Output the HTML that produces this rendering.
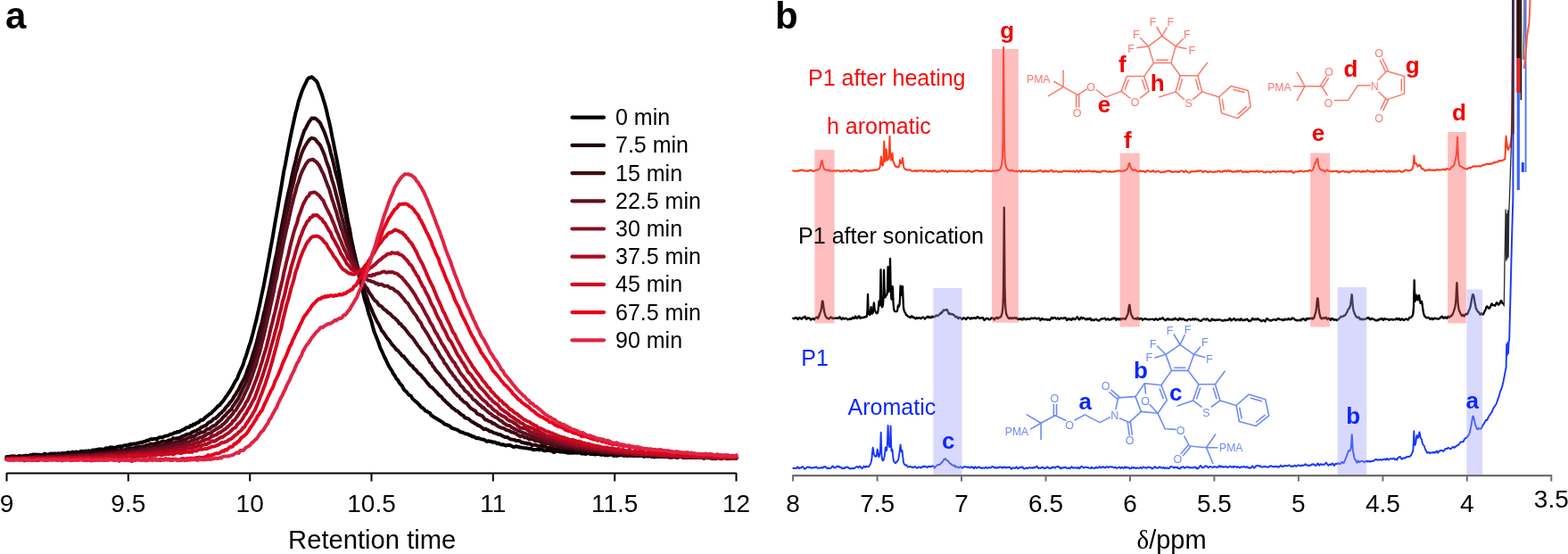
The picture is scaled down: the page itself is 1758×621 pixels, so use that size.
<!DOCTYPE html>
<html><head><meta charset="utf-8"><title>Figure</title>
<style>
html,body{margin:0;padding:0;background:#fff;width:1758px;height:621px;overflow:hidden}
svg{display:block}
text{font-family:'Liberation Sans',Arial,Helvetica,sans-serif}
</style></head><body>
<svg width="1758" height="621" viewBox="0 0 1758 621">
<rect width="1758" height="621" fill="#fff"/>
<g id="pa">
<polyline points="7.5,512.1 9.1,512.1 10.8,511.8 12.4,511.5 14.0,511.6 15.7,511.2 17.3,511.6 19.0,512.1 20.6,511.2 22.2,511.1 23.9,511.5 25.5,511.3 27.1,511.1 28.8,510.6 30.4,510.9 32.0,511.1 33.7,510.1 35.3,510.4 36.9,509.6 38.6,509.8 40.2,509.5 41.9,510.1 43.5,509.5 45.1,510.1 46.8,509.9 48.4,509.7 50.0,508.5 51.7,509.3 53.3,509.4 54.9,509.3 56.6,508.5 58.2,508.8 59.9,508.5 61.5,508.4 63.1,509.2 64.8,508.2 66.4,508.4 68.0,508.7 69.7,507.9 71.3,508.0 72.9,507.9 74.6,507.8 76.2,507.1 77.8,507.5 79.5,507.9 81.1,506.5 82.8,507.4 84.4,506.9 86.0,506.4 87.7,507.4 89.3,506.7 90.9,505.7 92.6,506.1 94.2,506.1 95.8,505.6 97.5,505.8 99.1,505.3 100.8,505.4 102.4,505.6 104.0,504.5 105.7,504.7 107.3,504.2 108.9,504.2 110.6,503.4 112.2,503.5 113.8,503.4 115.5,503.7 117.1,503.6 118.7,502.3 120.4,502.3 122.0,502.7 123.7,501.3 125.3,501.7 126.9,501.6 128.6,502.0 130.2,501.4 131.8,500.7 133.5,500.4 135.1,500.2 136.7,500.7 138.4,499.6 140.0,499.3 141.7,499.3 143.3,498.8 144.9,498.5 146.6,497.7 148.2,497.9 149.8,497.4 151.5,497.8 153.1,497.2 154.7,496.5 156.4,496.5 158.0,495.7 159.6,495.9 161.3,495.0 162.9,494.9 164.6,493.7 166.2,494.0 167.8,492.7 169.5,492.1 171.1,492.5 172.7,491.9 174.4,491.9 176.0,492.5 177.6,490.7 179.3,490.3 180.9,490.3 182.6,490.0 184.2,489.2 185.8,488.7 187.5,488.6 189.1,488.0 190.7,486.8 192.4,486.7 194.0,486.2 195.6,485.1 197.3,485.1 198.9,484.0 200.6,484.2 202.2,483.2 203.8,482.5 205.5,481.5 207.1,481.0 208.7,479.5 210.4,479.1 212.0,479.0 213.6,477.1 215.3,477.6 216.9,475.5 218.5,475.8 220.2,474.1 221.8,473.9 223.5,472.6 225.1,470.8 226.7,471.0 228.4,470.0 230.0,468.1 231.6,466.9 233.3,465.7 234.9,464.0 236.5,463.6 238.2,461.4 239.8,460.2 241.5,458.3 243.1,456.8 244.7,454.8 246.4,454.1 248.0,451.7 249.6,450.2 251.3,447.8 252.9,445.3 254.5,443.2 256.2,440.7 257.8,438.5 259.4,435.7 261.1,432.9 262.7,429.5 264.4,426.6 266.0,424.4 267.6,419.8 269.3,416.0 270.9,412.7 272.5,409.0 274.2,403.3 275.8,399.2 277.4,394.1 279.1,388.4 280.7,384.0 282.4,377.9 284.0,371.9 285.6,365.2 287.3,359.1 288.9,351.7 290.5,344.6 292.2,336.6 293.8,328.8 295.4,321.8 297.1,312.7 298.7,304.5 300.3,295.5 302.0,286.4 303.6,277.2 305.3,268.4 306.9,258.6 308.5,249.2 310.2,239.7 311.8,230.7 313.4,220.9 315.1,211.3 316.7,201.4 318.3,191.7 320.0,183.7 321.6,174.7 323.3,165.5 324.9,157.3 326.5,149.3 328.2,141.5 329.8,134.2 331.4,126.5 333.1,120.9 334.7,113.6 336.3,109.0 338.0,103.8 339.6,99.6 341.2,96.2 342.9,92.9 344.5,89.2 346.2,87.2 347.8,87.3 349.4,86.3 351.1,87.4 352.7,89.2 354.3,90.3 356.0,92.9 357.6,97.5 359.2,101.5 360.9,106.0 362.5,111.4 364.2,116.8 365.8,122.7 367.4,130.0 369.1,136.8 370.7,144.0 372.3,152.7 374.0,160.6 375.6,169.1 377.2,177.0 378.9,185.9 380.5,194.6 382.1,203.6 383.8,213.1 385.4,221.6 387.1,231.1 388.7,240.0 390.3,249.5 392.0,256.7 393.6,266.3 395.2,274.2 396.9,282.4 398.5,289.7 400.1,297.9 401.8,306.0 403.4,312.9 405.1,320.0 406.7,326.6 408.3,333.7 410.0,339.5 411.6,344.5 413.2,350.9 414.9,355.9 416.5,360.6 418.1,366.9 419.8,372.6 421.4,376.6 423.0,380.5 424.7,384.9 426.3,389.9 428.0,393.3 429.6,397.0 431.2,400.5 432.9,403.9 434.5,407.5 436.1,410.5 437.8,413.4 439.4,415.7 441.0,419.1 442.7,421.2 444.3,424.5 446.0,425.9 447.6,428.8 449.2,431.1 450.9,432.6 452.5,436.1 454.1,438.0 455.8,439.1 457.4,441.5 459.0,443.1 460.7,443.6 462.3,446.6 463.9,448.1 465.6,449.7 467.2,450.8 468.9,452.7 470.5,454.2 472.1,456.3 473.8,457.3 475.4,458.5 477.0,460.6 478.7,461.0 480.3,462.3 481.9,462.9 483.6,465.7 485.2,466.6 486.9,467.7 488.5,468.7 490.1,469.6 491.8,470.7 493.4,471.6 495.0,472.6 496.7,473.7 498.3,475.4 499.9,475.9 501.6,476.5 503.2,477.2 504.9,478.1 506.5,479.9 508.1,480.3 509.8,480.9 511.4,481.5 513.0,481.9 514.7,483.1 516.3,484.3 517.9,484.4 519.6,485.2 521.2,485.8 522.8,486.6 524.5,486.5 526.1,487.7 527.8,488.0 529.4,489.4 531.0,489.2 532.7,490.4 534.3,491.3 535.9,491.0 537.6,491.4 539.2,492.3 540.8,492.6 542.5,492.7 544.1,493.8 545.8,494.9 547.4,494.3 549.0,494.7 550.7,494.8 552.3,495.8 553.9,495.5 555.6,495.9 557.2,497.3 558.8,496.7 560.5,497.9 562.1,498.5 563.7,498.2 565.4,498.7 567.0,499.6 568.7,499.0 570.3,499.1 571.9,499.0 573.6,499.9 575.2,500.9 576.8,500.9 578.5,500.3 580.1,500.6 581.7,501.0 583.4,501.6 585.0,501.6 586.7,502.0 588.3,502.3 589.9,502.3 591.6,502.6 593.2,502.9 594.8,503.0 596.5,503.5 598.1,504.3 599.7,503.9 601.4,503.9 603.0,503.3 604.6,504.4 606.3,503.5 607.9,503.9 609.6,505.1 611.2,505.2 612.8,505.0 614.5,504.5 616.1,505.2 617.7,505.2 619.4,506.0 621.0,506.9 622.6,506.1 624.3,505.8 625.9,505.8 627.6,506.4 629.2,506.5 630.8,506.2 632.5,506.9 634.1,506.4 635.7,507.6 637.4,507.7 639.0,507.8 640.6,507.2 642.3,507.8 643.9,507.6 645.5,507.6 647.2,507.7 648.8,507.4 650.5,507.5 652.1,508.6 653.7,508.2 655.4,508.5 657.0,509.0 658.6,507.8 660.3,508.4 661.9,508.9 663.5,509.1 665.2,508.8 666.8,509.5 668.5,509.3 670.1,508.7 671.7,508.9 673.4,509.8 675.0,509.7 676.6,508.7 678.3,510.3 679.9,510.0 681.5,510.4 683.2,509.7 684.8,509.8 686.4,509.5 688.1,511.2 689.7,510.1 691.4,511.0 693.0,510.0 694.6,510.5 696.3,509.7 697.9,510.3 699.5,511.0 701.2,510.1 702.8,511.2 704.4,510.9 706.1,510.4 707.7,510.7 709.4,510.7 711.0,511.0 712.6,510.8 714.3,510.8 715.9,511.0 717.5,510.8 719.2,510.7 720.8,511.3 722.4,511.8 724.1,510.8 725.7,511.5 727.3,511.3 729.0,511.2 730.6,512.0 732.3,511.5 733.9,512.4 735.5,511.4 737.2,512.0 738.8,511.8 740.4,511.6 742.1,512.2 743.7,511.9 745.3,512.3 747.0,512.1 748.6,511.7 750.3,512.1 751.9,512.2 753.5,512.7 755.2,511.9 756.8,512.3 758.4,511.6 760.1,512.7 761.7,512.0 763.3,511.7 765.0,512.5 766.6,513.1 768.2,511.9 769.9,512.1 771.5,512.3 773.2,512.2 774.8,512.9 776.4,512.4 778.1,512.5 779.7,513.1 781.3,512.5 783.0,513.1 784.6,512.5 786.2,512.4 787.9,512.2 789.5,513.9 791.2,512.9 792.8,513.2 794.4,513.1 796.1,513.2 797.7,513.2 799.3,514.1 801.0,512.8 802.6,512.6 804.2,512.8 805.9,512.7 807.5,513.7 809.1,513.7 810.8,513.0 812.4,512.8 814.1,513.3 815.7,514.1 817.3,512.2 819.0,513.7 820.6,513.1 822.2,514.0 823.9,513.1 825.5,513.5" fill="none" stroke="#000000" stroke-width="4" stroke-linejoin="round" stroke-linecap="round"/>
<polyline points="7.5,512.5 9.1,512.7 10.8,513.7 12.4,513.4 14.0,512.8 15.7,512.5 17.3,512.0 19.0,512.6 20.6,512.7 22.2,512.6 23.9,512.6 25.5,512.0 27.1,512.5 28.8,512.4 30.4,512.9 32.0,513.1 33.7,512.1 35.3,511.8 36.9,512.0 38.6,511.7 40.2,511.6 41.9,511.8 43.5,511.3 45.1,512.0 46.8,511.6 48.4,511.6 50.0,511.4 51.7,511.0 53.3,510.9 54.9,511.1 56.6,510.9 58.2,511.1 59.9,510.9 61.5,510.2 63.1,510.8 64.8,510.0 66.4,510.3 68.0,510.3 69.7,509.4 71.3,510.3 72.9,510.2 74.6,510.0 76.2,509.7 77.8,509.6 79.5,509.3 81.1,509.5 82.8,509.2 84.4,509.4 86.0,508.7 87.7,509.2 89.3,509.0 90.9,508.8 92.6,508.5 94.2,508.8 95.8,507.7 97.5,508.5 99.1,508.3 100.8,508.2 102.4,508.0 104.0,507.4 105.7,507.5 107.3,507.7 108.9,507.5 110.6,507.2 112.2,506.2 113.8,507.0 115.5,507.1 117.1,506.9 118.7,506.3 120.4,505.3 122.0,506.3 123.7,505.6 125.3,504.3 126.9,505.4 128.6,504.4 130.2,504.3 131.8,504.4 133.5,505.0 135.1,504.0 136.7,504.1 138.4,504.5 140.0,504.2 141.7,503.2 143.3,502.9 144.9,502.2 146.6,502.2 148.2,502.4 149.8,502.1 151.5,501.7 153.1,501.8 154.7,500.8 156.4,500.8 158.0,500.8 159.6,500.5 161.3,500.4 162.9,499.7 164.6,499.1 166.2,499.1 167.8,498.1 169.5,497.5 171.1,498.1 172.7,497.5 174.4,497.4 176.0,496.1 177.6,496.4 179.3,495.9 180.9,495.4 182.6,494.4 184.2,494.8 185.8,495.0 187.5,494.3 189.1,493.5 190.7,493.3 192.4,493.2 194.0,491.1 195.6,491.8 197.3,491.6 198.9,491.1 200.6,491.1 202.2,490.3 203.8,489.3 205.5,488.7 207.1,488.3 208.7,487.1 210.4,486.7 212.0,486.4 213.6,486.2 215.3,484.5 216.9,483.8 218.5,483.2 220.2,482.9 221.8,481.4 223.5,481.3 225.1,479.3 226.7,478.7 228.4,477.7 230.0,477.2 231.6,476.2 233.3,474.0 234.9,473.2 236.5,472.6 238.2,470.9 239.8,469.2 241.5,469.1 243.1,467.4 244.7,466.0 246.4,464.0 248.0,463.1 249.6,460.9 251.3,459.8 252.9,457.1 254.5,455.2 256.2,453.6 257.8,451.1 259.4,449.5 261.1,447.0 262.7,444.0 264.4,441.8 266.0,438.8 267.6,436.5 269.3,432.7 270.9,429.5 272.5,426.8 274.2,423.6 275.8,419.7 277.4,414.7 279.1,410.5 280.7,406.6 282.4,401.0 284.0,395.6 285.6,390.8 287.3,385.4 288.9,379.0 290.5,372.6 292.2,366.3 293.8,360.7 295.4,353.2 297.1,346.4 298.7,339.3 300.3,332.0 302.0,323.8 303.6,316.3 305.3,307.7 306.9,299.7 308.5,291.1 310.2,283.7 311.8,274.7 313.4,265.9 315.1,257.6 316.7,249.2 318.3,241.2 320.0,231.8 321.6,223.8 323.3,216.0 324.9,209.5 326.5,201.1 328.2,193.2 329.8,186.4 331.4,180.2 333.1,172.7 334.7,166.5 336.3,161.5 338.0,155.9 339.6,151.2 341.2,146.4 342.9,143.7 344.5,140.3 346.2,137.1 347.8,135.1 349.4,132.4 351.1,132.8 352.7,132.4 354.3,133.3 356.0,134.8 357.6,136.3 359.2,138.2 360.9,142.2 362.5,145.3 364.2,149.6 365.8,154.0 367.4,159.1 369.1,163.6 370.7,171.0 372.3,176.6 374.0,183.4 375.6,190.4 377.2,196.4 378.9,202.6 380.5,210.2 382.1,217.4 383.8,225.1 385.4,232.7 387.1,239.2 388.7,247.6 390.3,254.1 392.0,262.2 393.6,269.1 395.2,276.0 396.9,282.9 398.5,289.3 400.1,295.6 401.8,301.3 403.4,308.0 405.1,314.6 406.7,320.1 408.3,325.0 410.0,329.7 411.6,333.8 413.2,339.3 414.9,342.9 416.5,346.9 418.1,350.6 419.8,354.4 421.4,357.6 423.0,360.9 424.7,363.5 426.3,366.8 428.0,370.7 429.6,372.2 431.2,374.6 432.9,377.3 434.5,379.6 436.1,381.0 437.8,383.5 439.4,386.0 441.0,387.6 442.7,389.5 444.3,391.9 446.0,392.8 447.6,394.9 449.2,396.4 450.9,399.0 452.5,399.2 454.1,401.6 455.8,403.4 457.4,405.7 459.0,407.5 460.7,409.6 462.3,410.1 463.9,412.9 465.6,414.2 467.2,415.9 468.9,418.2 470.5,419.3 472.1,420.6 473.8,423.2 475.4,424.4 477.0,426.6 478.7,428.8 480.3,430.6 481.9,432.9 483.6,433.9 485.2,435.0 486.9,437.0 488.5,438.7 490.1,440.2 491.8,442.6 493.4,443.7 495.0,444.7 496.7,447.5 498.3,448.7 499.9,450.5 501.6,451.8 503.2,453.6 504.9,454.7 506.5,456.7 508.1,457.7 509.8,459.0 511.4,460.4 513.0,460.8 514.7,462.7 516.3,463.9 517.9,465.3 519.6,465.8 521.2,468.3 522.8,468.7 524.5,469.2 526.1,470.1 527.8,471.8 529.4,472.9 531.0,473.6 532.7,474.9 534.3,475.5 535.9,477.0 537.6,477.3 539.2,478.5 540.8,479.8 542.5,481.3 544.1,480.5 545.8,481.5 547.4,482.1 549.0,483.6 550.7,483.4 552.3,484.4 553.9,485.3 555.6,485.6 557.2,486.2 558.8,487.1 560.5,487.0 562.1,487.9 563.7,488.9 565.4,489.7 567.0,490.1 568.7,490.0 570.3,491.1 571.9,492.2 573.6,492.6 575.2,492.8 576.8,492.9 578.5,494.0 580.1,493.9 581.7,494.1 583.4,494.7 585.0,496.1 586.7,496.0 588.3,496.8 589.9,496.5 591.6,497.5 593.2,497.2 594.8,497.7 596.5,499.3 598.1,498.8 599.7,498.6 601.4,499.1 603.0,499.6 604.6,500.3 606.3,499.9 607.9,499.6 609.6,500.5 611.2,500.9 612.8,501.3 614.5,502.1 616.1,501.9 617.7,502.4 619.4,501.8 621.0,502.9 622.6,503.7 624.3,503.3 625.9,503.3 627.6,503.5 629.2,504.4 630.8,503.4 632.5,504.0 634.1,504.5 635.7,504.8 637.4,504.5 639.0,505.0 640.6,504.9 642.3,505.3 643.9,505.3 645.5,505.0 647.2,505.7 648.8,506.3 650.5,505.6 652.1,506.1 653.7,506.7 655.4,506.0 657.0,506.8 658.6,506.3 660.3,507.5 661.9,508.1 663.5,508.1 665.2,507.3 666.8,507.8 668.5,507.7 670.1,507.8 671.7,508.6 673.4,507.4 675.0,508.6 676.6,508.2 678.3,509.0 679.9,508.5 681.5,508.3 683.2,508.8 684.8,509.1 686.4,508.9 688.1,509.2 689.7,508.9 691.4,508.2 693.0,509.7 694.6,509.7 696.3,509.5 697.9,509.6 699.5,510.1 701.2,509.5 702.8,509.5 704.4,509.8 706.1,510.5 707.7,509.5 709.4,510.7 711.0,509.9 712.6,509.8 714.3,511.0 715.9,510.4 717.5,509.9 719.2,510.4 720.8,511.1 722.4,511.3 724.1,510.6 725.7,511.1 727.3,511.3 729.0,510.7 730.6,511.2 732.3,511.1 733.9,511.0 735.5,511.0 737.2,511.3 738.8,511.4 740.4,511.2 742.1,511.3 743.7,512.0 745.3,511.7 747.0,512.1 748.6,512.2 750.3,512.0 751.9,512.8 753.5,511.5 755.2,512.3 756.8,511.8 758.4,512.8 760.1,512.8 761.7,511.2 763.3,511.7 765.0,512.5 766.6,512.6 768.2,512.6 769.9,512.3 771.5,512.6 773.2,512.7 774.8,512.4 776.4,513.0 778.1,511.5 779.7,512.9 781.3,512.1 783.0,513.1 784.6,512.6 786.2,512.3 787.9,512.9 789.5,512.4 791.2,512.4 792.8,512.2 794.4,512.9 796.1,513.2 797.7,513.4 799.3,512.9 801.0,513.5 802.6,513.1 804.2,513.1 805.9,513.4 807.5,513.6 809.1,513.0 810.8,513.1 812.4,513.2 814.1,513.3 815.7,512.9 817.3,513.8 819.0,513.2 820.6,513.6 822.2,513.0 823.9,513.6 825.5,513.6" fill="none" stroke="#200008" stroke-width="4" stroke-linejoin="round" stroke-linecap="round"/>
<polyline points="7.5,513.5 9.1,514.5 10.8,513.7 12.4,514.3 14.0,513.9 15.7,513.1 17.3,513.2 19.0,513.5 20.6,513.3 22.2,513.2 23.9,513.0 25.5,512.3 27.1,513.0 28.8,512.0 30.4,513.1 32.0,512.6 33.7,512.5 35.3,512.7 36.9,512.8 38.6,512.0 40.2,511.8 41.9,512.1 43.5,511.6 45.1,512.0 46.8,513.1 48.4,511.8 50.0,512.5 51.7,511.5 53.3,512.2 54.9,511.9 56.6,511.9 58.2,512.1 59.9,512.6 61.5,511.8 63.1,511.7 64.8,511.1 66.4,511.7 68.0,511.3 69.7,511.7 71.3,511.2 72.9,511.9 74.6,510.2 76.2,510.8 77.8,511.3 79.5,510.6 81.1,510.3 82.8,510.5 84.4,509.9 86.0,510.5 87.7,511.4 89.3,510.7 90.9,509.6 92.6,509.6 94.2,509.7 95.8,510.2 97.5,509.3 99.1,509.2 100.8,509.8 102.4,509.7 104.0,509.0 105.7,508.6 107.3,508.2 108.9,508.5 110.6,507.7 112.2,508.9 113.8,508.1 115.5,508.5 117.1,509.0 118.7,508.5 120.4,507.3 122.0,508.1 123.7,508.0 125.3,507.0 126.9,506.7 128.6,507.0 130.2,506.1 131.8,507.3 133.5,505.4 135.1,505.8 136.7,506.0 138.4,505.8 140.0,505.8 141.7,505.6 143.3,505.2 144.9,505.6 146.6,503.9 148.2,504.7 149.8,504.1 151.5,504.3 153.1,504.1 154.7,503.3 156.4,503.2 158.0,503.6 159.6,503.1 161.3,502.4 162.9,503.4 164.6,503.2 166.2,501.2 167.8,501.8 169.5,502.5 171.1,501.4 172.7,500.9 174.4,500.4 176.0,500.0 177.6,499.8 179.3,499.3 180.9,499.6 182.6,498.8 184.2,498.4 185.8,497.7 187.5,497.9 189.1,497.1 190.7,497.1 192.4,497.2 194.0,496.5 195.6,496.2 197.3,495.7 198.9,495.1 200.6,494.6 202.2,494.0 203.8,494.0 205.5,492.7 207.1,493.2 208.7,492.1 210.4,491.2 212.0,490.7 213.6,490.0 215.3,489.8 216.9,488.7 218.5,488.9 220.2,487.3 221.8,486.0 223.5,485.9 225.1,484.5 226.7,484.6 228.4,484.3 230.0,483.2 231.6,481.4 233.3,480.7 234.9,480.8 236.5,479.1 238.2,477.9 239.8,477.2 241.5,476.7 243.1,474.9 244.7,473.1 246.4,471.8 248.0,470.5 249.6,468.4 251.3,466.6 252.9,465.5 254.5,463.3 256.2,461.8 257.8,459.9 259.4,458.8 261.1,455.2 262.7,453.2 264.4,450.7 266.0,448.3 267.6,445.8 269.3,442.2 270.9,438.9 272.5,435.2 274.2,432.0 275.8,428.9 277.4,424.7 279.1,420.0 280.7,415.9 282.4,411.4 284.0,406.6 285.6,400.9 287.3,395.6 288.9,389.2 290.5,383.5 292.2,378.5 293.8,370.3 295.4,364.4 297.1,357.6 298.7,350.2 300.3,342.6 302.0,335.3 303.6,327.5 305.3,319.6 306.9,310.7 308.5,303.4 310.2,294.8 311.8,286.7 313.4,278.7 315.1,270.6 316.7,262.5 318.3,253.7 320.0,246.2 321.6,238.4 323.3,230.6 324.9,223.2 326.5,215.2 328.2,208.1 329.8,201.8 331.4,194.4 333.1,189.1 334.7,183.1 336.3,177.9 338.0,172.6 339.6,168.7 341.2,165.3 342.9,162.5 344.5,159.8 346.2,157.3 347.8,155.8 349.4,154.7 351.1,155.2 352.7,155.5 354.3,157.2 356.0,159.5 357.6,161.0 359.2,163.2 360.9,166.8 362.5,170.4 364.2,174.7 365.8,180.4 367.4,184.8 369.1,189.2 370.7,195.7 372.3,201.6 374.0,206.8 375.6,212.7 377.2,219.1 378.9,225.6 380.5,232.0 382.1,238.6 383.8,244.9 385.4,251.1 387.1,257.2 388.7,262.9 390.3,267.8 392.0,274.1 393.6,279.7 395.2,284.7 396.9,290.3 398.5,294.5 400.1,298.8 401.8,304.2 403.4,307.9 405.1,311.5 406.7,315.4 408.3,318.8 410.0,321.6 411.6,323.2 413.2,326.7 414.9,329.3 416.5,331.4 418.1,334.0 419.8,336.5 421.4,337.6 423.0,339.0 424.7,342.1 426.3,342.6 428.0,343.7 429.6,345.8 431.2,347.3 432.9,348.1 434.5,350.1 436.1,350.9 437.8,352.1 439.4,354.0 441.0,355.7 442.7,356.5 444.3,358.4 446.0,359.8 447.6,362.7 449.2,362.9 450.9,365.6 452.5,366.8 454.1,368.6 455.8,370.9 457.4,373.0 459.0,375.1 460.7,376.8 462.3,378.4 463.9,380.6 465.6,383.2 467.2,385.4 468.9,388.0 470.5,389.7 472.1,392.3 473.8,394.7 475.4,396.4 477.0,397.9 478.7,400.3 480.3,402.4 481.9,406.0 483.6,407.2 485.2,410.3 486.9,412.2 488.5,414.9 490.1,416.8 491.8,418.4 493.4,420.4 495.0,422.7 496.7,424.7 498.3,426.4 499.9,428.6 501.6,431.3 503.2,431.7 504.9,434.5 506.5,435.8 508.1,438.1 509.8,440.2 511.4,441.5 513.0,443.6 514.7,444.2 516.3,447.1 517.9,447.9 519.6,450.0 521.2,451.3 522.8,451.6 524.5,453.8 526.1,455.7 527.8,457.7 529.4,458.5 531.0,459.8 532.7,460.3 534.3,462.9 535.9,464.3 537.6,464.7 539.2,465.7 540.8,466.2 542.5,468.5 544.1,470.4 545.8,470.5 547.4,471.8 549.0,472.5 550.7,472.8 552.3,474.8 553.9,474.6 555.6,475.9 557.2,477.0 558.8,478.2 560.5,478.8 562.1,479.6 563.7,479.9 565.4,480.5 567.0,481.8 568.7,482.2 570.3,482.7 571.9,483.4 573.6,484.5 575.2,484.5 576.8,485.4 578.5,485.9 580.1,487.4 581.7,488.1 583.4,489.4 585.0,488.4 586.7,489.3 588.3,490.6 589.9,490.6 591.6,491.1 593.2,492.6 594.8,492.1 596.5,492.3 598.1,492.7 599.7,493.9 601.4,494.3 603.0,494.0 604.6,494.6 606.3,495.7 607.9,496.1 609.6,496.0 611.2,497.0 612.8,497.3 614.5,496.6 616.1,497.7 617.7,498.4 619.4,498.3 621.0,497.9 622.6,499.1 624.3,499.9 625.9,500.5 627.6,499.2 629.2,501.6 630.8,500.2 632.5,501.5 634.1,501.9 635.7,502.0 637.4,501.9 639.0,501.6 640.6,502.7 642.3,502.3 643.9,501.7 645.5,504.4 647.2,503.7 648.8,504.4 650.5,503.4 652.1,504.7 653.7,505.0 655.4,505.1 657.0,504.6 658.6,504.3 660.3,505.0 661.9,504.3 663.5,504.7 665.2,505.7 666.8,505.3 668.5,505.9 670.1,506.1 671.7,507.2 673.4,507.1 675.0,506.6 676.6,507.3 678.3,506.6 679.9,507.0 681.5,507.7 683.2,506.8 684.8,507.4 686.4,507.1 688.1,507.9 689.7,508.7 691.4,507.7 693.0,508.3 694.6,507.9 696.3,507.9 697.9,508.0 699.5,509.4 701.2,509.9 702.8,509.1 704.4,508.7 706.1,509.5 707.7,509.1 709.4,509.7 711.0,509.6 712.6,509.7 714.3,509.9 715.9,509.5 717.5,509.7 719.2,509.2 720.8,509.8 722.4,509.5 724.1,510.2 725.7,509.9 727.3,510.4 729.0,510.7 730.6,509.9 732.3,510.3 733.9,510.3 735.5,511.1 737.2,511.6 738.8,511.3 740.4,510.9 742.1,511.7 743.7,510.5 745.3,511.9 747.0,511.0 748.6,510.1 750.3,512.6 751.9,512.2 753.5,511.1 755.2,511.7 756.8,511.6 758.4,511.8 760.1,511.1 761.7,511.5 763.3,512.1 765.0,512.1 766.6,512.6 768.2,512.1 769.9,513.2 771.5,511.9 773.2,512.3 774.8,511.4 776.4,511.8 778.1,513.0 779.7,512.0 781.3,512.7 783.0,512.5 784.6,512.1 786.2,512.4 787.9,512.4 789.5,512.5 791.2,513.1 792.8,513.1 794.4,512.6 796.1,512.4 797.7,513.0 799.3,512.9 801.0,513.4 802.6,514.2 804.2,513.4 805.9,513.1 807.5,513.0 809.1,512.8 810.8,512.8 812.4,512.8 814.1,513.1 815.7,513.1 817.3,513.7 819.0,513.2 820.6,513.3 822.2,512.9 823.9,514.2 825.5,513.7" fill="none" stroke="#400a14" stroke-width="4" stroke-linejoin="round" stroke-linecap="round"/>
<polyline points="7.5,514.8 9.1,514.3 10.8,514.5 12.4,513.7 14.0,514.1 15.7,515.0 17.3,513.2 19.0,514.2 20.6,514.4 22.2,513.8 23.9,513.9 25.5,514.1 27.1,513.2 28.8,513.6 30.4,513.0 32.0,513.0 33.7,513.0 35.3,513.2 36.9,513.2 38.6,513.3 40.2,512.4 41.9,513.9 43.5,513.5 45.1,513.3 46.8,512.7 48.4,512.8 50.0,513.0 51.7,512.9 53.3,511.9 54.9,512.9 56.6,513.9 58.2,511.6 59.9,512.9 61.5,512.5 63.1,512.2 64.8,512.9 66.4,511.6 68.0,512.2 69.7,512.7 71.3,511.9 72.9,511.7 74.6,511.9 76.2,511.5 77.8,512.4 79.5,511.2 81.1,511.9 82.8,510.9 84.4,511.7 86.0,511.2 87.7,510.0 89.3,511.1 90.9,510.5 92.6,510.7 94.2,511.6 95.8,510.2 97.5,510.2 99.1,511.2 100.8,510.5 102.4,511.1 104.0,510.4 105.7,509.8 107.3,510.0 108.9,510.5 110.6,510.3 112.2,509.7 113.8,509.6 115.5,509.4 117.1,509.1 118.7,510.1 120.4,509.1 122.0,508.5 123.7,508.7 125.3,509.1 126.9,508.9 128.6,508.4 130.2,508.0 131.8,508.2 133.5,507.3 135.1,507.3 136.7,508.1 138.4,507.3 140.0,507.6 141.7,507.8 143.3,507.4 144.9,506.9 146.6,507.7 148.2,506.8 149.8,506.2 151.5,506.5 153.1,506.2 154.7,505.4 156.4,505.6 158.0,505.3 159.6,504.2 161.3,504.8 162.9,504.6 164.6,504.3 166.2,503.5 167.8,503.8 169.5,503.7 171.1,503.6 172.7,502.8 174.4,503.4 176.0,502.3 177.6,502.5 179.3,502.9 180.9,501.7 182.6,501.5 184.2,502.0 185.8,501.0 187.5,500.8 189.1,500.7 190.7,500.8 192.4,498.9 194.0,499.2 195.6,498.8 197.3,498.4 198.9,498.1 200.6,497.8 202.2,497.9 203.8,496.9 205.5,497.0 207.1,496.7 208.7,495.7 210.4,495.6 212.0,495.8 213.6,494.7 215.3,493.7 216.9,493.4 218.5,492.5 220.2,492.4 221.8,492.1 223.5,490.6 225.1,490.3 226.7,490.2 228.4,488.7 230.0,488.3 231.6,486.9 233.3,486.2 234.9,485.4 236.5,485.8 238.2,483.6 239.8,482.6 241.5,481.5 243.1,480.6 244.7,479.9 246.4,478.4 248.0,478.0 249.6,475.8 251.3,475.0 252.9,472.9 254.5,471.5 256.2,468.9 257.8,467.7 259.4,465.8 261.1,463.8 262.7,460.8 264.4,459.9 266.0,456.9 267.6,454.3 269.3,451.6 270.9,448.7 272.5,445.9 274.2,441.8 275.8,438.5 277.4,435.3 279.1,431.2 280.7,426.8 282.4,422.3 284.0,417.4 285.6,412.8 287.3,408.2 288.9,401.7 290.5,397.1 292.2,390.8 293.8,383.9 295.4,378.0 297.1,370.3 298.7,363.2 300.3,356.3 302.0,349.3 303.6,341.8 305.3,334.1 306.9,326.6 308.5,317.7 310.2,310.9 311.8,302.1 313.4,294.4 315.1,286.5 316.7,278.2 318.3,270.2 320.0,262.6 321.6,255.4 323.3,248.2 324.9,240.9 326.5,233.2 328.2,226.6 329.8,220.1 331.4,214.6 333.1,207.8 334.7,204.0 336.3,198.3 338.0,193.8 339.6,190.4 341.2,187.3 342.9,184.1 344.5,182.1 346.2,179.9 347.8,179.4 349.4,179.0 351.1,178.7 352.7,180.3 354.3,181.2 356.0,183.1 357.6,185.0 359.2,188.2 360.9,191.9 362.5,194.7 364.2,199.5 365.8,203.7 367.4,208.2 369.1,211.9 370.7,217.8 372.3,223.3 374.0,227.9 375.6,233.5 377.2,237.8 378.9,244.5 380.5,249.1 382.1,255.0 383.8,258.9 385.4,265.0 387.1,269.4 388.7,274.4 390.3,278.1 392.0,282.4 393.6,287.6 395.2,289.9 396.9,293.3 398.5,296.7 400.1,299.2 401.8,302.8 403.4,305.4 405.1,306.4 406.7,307.9 408.3,310.8 410.0,312.2 411.6,313.3 413.2,314.6 414.9,314.6 416.5,315.7 418.1,315.8 419.8,316.3 421.4,317.9 423.0,317.6 424.7,319.3 426.3,318.7 428.0,318.8 429.6,319.8 431.2,320.7 432.9,320.6 434.5,320.4 436.1,321.8 437.8,323.0 439.4,323.0 441.0,323.8 442.7,325.7 444.3,326.6 446.0,327.4 447.6,329.2 449.2,330.7 450.9,333.0 452.5,334.7 454.1,337.2 455.8,339.0 457.4,340.1 459.0,343.2 460.7,345.8 462.3,348.0 463.9,350.7 465.6,352.5 467.2,354.9 468.9,358.3 470.5,360.1 472.1,362.3 473.8,366.4 475.4,368.4 477.0,371.3 478.7,373.6 480.3,376.4 481.9,379.2 483.6,382.4 485.2,385.4 486.9,386.9 488.5,391.0 490.1,392.8 491.8,395.5 493.4,398.9 495.0,401.2 496.7,403.0 498.3,407.1 499.9,408.3 501.6,411.2 503.2,413.6 504.9,416.5 506.5,418.0 508.1,420.9 509.8,422.3 511.4,425.3 513.0,426.6 514.7,428.9 516.3,431.9 517.9,433.2 519.6,435.1 521.2,437.9 522.8,439.0 524.5,440.2 526.1,442.7 527.8,443.6 529.4,446.3 531.0,448.0 532.7,448.8 534.3,450.4 535.9,452.3 537.6,453.7 539.2,454.7 540.8,456.9 542.5,457.1 544.1,459.2 545.8,460.5 547.4,461.9 549.0,463.4 550.7,463.9 552.3,465.9 553.9,466.7 555.6,467.7 557.2,468.4 558.8,469.6 560.5,471.4 562.1,471.8 563.7,473.3 565.4,474.7 567.0,475.6 568.7,476.8 570.3,476.9 571.9,477.4 573.6,479.2 575.2,479.7 576.8,480.9 578.5,481.2 580.1,482.5 581.7,483.1 583.4,483.8 585.0,484.4 586.7,485.1 588.3,485.7 589.9,486.4 591.6,487.3 593.2,487.3 594.8,488.9 596.5,488.7 598.1,489.8 599.7,489.9 601.4,490.4 603.0,491.9 604.6,491.4 606.3,491.5 607.9,492.3 609.6,492.9 611.2,494.5 612.8,494.1 614.5,494.9 616.1,494.5 617.7,495.5 619.4,496.1 621.0,497.0 622.6,496.3 624.3,497.3 625.9,497.6 627.6,497.3 629.2,498.2 630.8,498.4 632.5,497.8 634.1,499.5 635.7,499.8 637.4,499.7 639.0,499.6 640.6,501.2 642.3,500.9 643.9,501.6 645.5,502.0 647.2,501.5 648.8,502.3 650.5,502.1 652.1,502.5 653.7,502.7 655.4,503.0 657.0,503.8 658.6,503.6 660.3,503.7 661.9,503.8 663.5,504.4 665.2,504.0 666.8,504.4 668.5,504.8 670.1,504.8 671.7,505.2 673.4,505.2 675.0,506.5 676.6,506.4 678.3,506.2 679.9,506.2 681.5,507.4 683.2,506.7 684.8,506.7 686.4,507.0 688.1,507.2 689.7,507.8 691.4,507.3 693.0,508.4 694.6,507.2 696.3,508.1 697.9,507.5 699.5,508.9 701.2,508.1 702.8,508.3 704.4,508.9 706.1,509.2 707.7,508.2 709.4,508.7 711.0,508.3 712.6,509.1 714.3,509.1 715.9,509.1 717.5,509.1 719.2,509.4 720.8,509.3 722.4,510.0 724.1,510.5 725.7,509.1 727.3,510.0 729.0,509.9 730.6,510.4 732.3,509.9 733.9,510.3 735.5,510.0 737.2,510.9 738.8,510.7 740.4,510.7 742.1,511.0 743.7,510.8 745.3,510.3 747.0,511.3 748.6,511.3 750.3,511.1 751.9,511.7 753.5,511.9 755.2,510.9 756.8,511.1 758.4,512.3 760.1,512.3 761.7,511.4 763.3,511.2 765.0,511.5 766.6,511.7 768.2,511.2 769.9,512.0 771.5,511.5 773.2,511.6 774.8,512.6 776.4,511.9 778.1,512.2 779.7,512.6 781.3,512.7 783.0,512.3 784.6,512.5 786.2,512.2 787.9,513.4 789.5,512.9 791.2,512.2 792.8,512.7 794.4,513.1 796.1,513.0 797.7,513.7 799.3,513.5 801.0,512.7 802.6,512.9 804.2,512.4 805.9,513.2 807.5,513.2 809.1,514.4 810.8,513.2 812.4,512.3 814.1,512.9 815.7,513.3 817.3,512.8 819.0,513.0 820.6,513.2 822.2,513.6 823.9,513.4 825.5,513.1" fill="none" stroke="#601020" stroke-width="4" stroke-linejoin="round" stroke-linecap="round"/>
<polyline points="7.5,514.7 9.1,514.0 10.8,514.0 12.4,513.6 14.0,513.8 15.7,514.5 17.3,513.4 19.0,514.1 20.6,514.4 22.2,513.9 23.9,514.1 25.5,513.5 27.1,514.5 28.8,514.4 30.4,514.0 32.0,513.0 33.7,513.3 35.3,514.2 36.9,514.5 38.6,513.8 40.2,514.2 41.9,513.3 43.5,513.5 45.1,513.5 46.8,513.7 48.4,512.7 50.0,513.8 51.7,513.9 53.3,512.8 54.9,512.6 56.6,513.4 58.2,512.9 59.9,512.0 61.5,513.4 63.1,513.1 64.8,512.7 66.4,513.8 68.0,512.9 69.7,512.4 71.3,512.8 72.9,512.2 74.6,512.3 76.2,512.7 77.8,512.3 79.5,512.2 81.1,513.1 82.8,512.7 84.4,512.6 86.0,512.4 87.7,512.3 89.3,512.7 90.9,512.0 92.6,512.7 94.2,511.4 95.8,511.7 97.5,511.1 99.1,511.5 100.8,511.8 102.4,512.1 104.0,511.1 105.7,511.3 107.3,511.0 108.9,510.8 110.6,510.5 112.2,511.0 113.8,510.1 115.5,510.8 117.1,510.7 118.7,510.3 120.4,510.0 122.0,509.7 123.7,511.1 125.3,509.5 126.9,510.7 128.6,510.2 130.2,509.6 131.8,509.2 133.5,510.0 135.1,510.2 136.7,508.9 138.4,509.1 140.0,509.5 141.7,509.1 143.3,509.7 144.9,508.4 146.6,508.7 148.2,507.8 149.8,509.1 151.5,507.7 153.1,506.9 154.7,507.7 156.4,507.5 158.0,508.2 159.6,507.0 161.3,507.0 162.9,507.1 164.6,507.4 166.2,506.4 167.8,506.7 169.5,506.3 171.1,505.7 172.7,505.7 174.4,505.5 176.0,504.9 177.6,505.6 179.3,504.2 180.9,505.2 182.6,504.8 184.2,504.1 185.8,503.6 187.5,503.6 189.1,503.6 190.7,503.5 192.4,503.0 194.0,503.1 195.6,502.1 197.3,502.1 198.9,501.0 200.6,501.7 202.2,501.1 203.8,500.5 205.5,500.9 207.1,500.3 208.7,498.3 210.4,499.2 212.0,498.1 213.6,498.8 215.3,499.0 216.9,497.2 218.5,497.0 220.2,496.3 221.8,496.1 223.5,495.7 225.1,495.4 226.7,493.8 228.4,494.3 230.0,492.6 231.6,492.5 233.3,492.2 234.9,491.2 236.5,489.7 238.2,489.0 239.8,488.3 241.5,487.6 243.1,487.3 244.7,485.2 246.4,485.0 248.0,484.0 249.6,482.8 251.3,481.6 252.9,480.8 254.5,479.0 256.2,477.8 257.8,476.2 259.4,475.1 261.1,471.8 262.7,471.5 264.4,468.9 266.0,466.8 267.6,464.4 269.3,461.7 270.9,459.9 272.5,457.2 274.2,455.0 275.8,451.1 277.4,449.3 279.1,445.5 280.7,441.7 282.4,437.7 284.0,433.7 285.6,429.4 287.3,425.2 288.9,420.8 290.5,415.9 292.2,410.2 293.8,405.4 295.4,399.5 297.1,394.2 298.7,389.0 300.3,382.2 302.0,375.4 303.6,368.3 305.3,361.7 306.9,354.8 308.5,348.9 310.2,341.2 311.8,334.5 313.4,327.0 315.1,320.2 316.7,313.7 318.3,305.6 320.0,298.7 321.6,291.6 323.3,285.5 324.9,278.0 326.5,271.5 328.2,265.1 329.8,259.1 331.4,254.2 333.1,249.7 334.7,242.9 336.3,239.0 338.0,234.3 339.6,229.7 341.2,226.5 342.9,223.4 344.5,220.6 346.2,219.6 347.8,216.2 349.4,216.2 351.1,215.7 352.7,215.4 354.3,216.4 356.0,217.8 357.6,218.9 359.2,220.9 360.9,223.3 362.5,224.7 364.2,229.2 365.8,232.7 367.4,235.6 369.1,239.2 370.7,241.9 372.3,246.4 374.0,250.1 375.6,254.2 377.2,259.0 378.9,262.3 380.5,266.7 382.1,269.8 383.8,274.5 385.4,278.3 387.1,281.5 388.7,284.9 390.3,289.3 392.0,290.9 393.6,293.7 395.2,296.3 396.9,299.5 398.5,301.9 400.1,302.9 401.8,303.9 403.4,305.3 405.1,307.0 406.7,307.0 408.3,308.6 410.0,309.0 411.6,308.7 413.2,309.0 414.9,309.0 416.5,309.2 418.1,307.7 419.8,308.4 421.4,307.2 423.0,306.6 424.7,306.6 426.3,306.0 428.0,305.2 429.6,304.5 431.2,304.5 432.9,305.4 434.5,305.5 436.1,304.9 437.8,305.3 439.4,304.8 441.0,305.4 442.7,306.2 444.3,306.4 446.0,307.4 447.6,309.0 449.2,310.2 450.9,311.4 452.5,313.7 454.1,315.2 455.8,317.7 457.4,319.3 459.0,321.3 460.7,323.8 462.3,326.0 463.9,328.3 465.6,331.0 467.2,334.2 468.9,336.9 470.5,340.0 472.1,341.5 473.8,345.0 475.4,347.9 477.0,351.2 478.7,353.9 480.3,356.9 481.9,360.5 483.6,363.3 485.2,365.7 486.9,369.8 488.5,372.7 490.1,374.9 491.8,378.5 493.4,380.8 495.0,384.5 496.7,386.8 498.3,389.3 499.9,392.3 501.6,394.9 503.2,398.0 504.9,400.7 506.5,403.2 508.1,405.5 509.8,406.6 511.4,410.8 513.0,412.3 514.7,415.7 516.3,418.4 517.9,420.3 519.6,422.3 521.2,424.5 522.8,426.7 524.5,428.6 526.1,430.6 527.8,432.5 529.4,435.4 531.0,436.8 532.7,439.1 534.3,440.3 535.9,442.3 537.6,443.9 539.2,445.9 540.8,447.7 542.5,449.0 544.1,450.2 545.8,451.7 547.4,454.3 549.0,454.8 550.7,456.3 552.3,458.4 553.9,459.6 555.6,460.7 557.2,461.5 558.8,464.0 560.5,464.4 562.1,465.6 563.7,466.5 565.4,467.1 567.0,468.2 568.7,470.1 570.3,471.1 571.9,471.9 573.6,472.4 575.2,473.3 576.8,474.7 578.5,475.2 580.1,477.1 581.7,478.1 583.4,479.7 585.0,479.7 586.7,479.9 588.3,480.5 589.9,480.2 591.6,482.2 593.2,483.1 594.8,484.4 596.5,484.9 598.1,485.6 599.7,486.1 601.4,486.9 603.0,487.9 604.6,487.4 606.3,488.3 607.9,488.5 609.6,490.4 611.2,490.8 612.8,491.1 614.5,490.8 616.1,491.9 617.7,492.2 619.4,492.9 621.0,493.2 622.6,494.0 624.3,494.1 625.9,495.1 627.6,495.3 629.2,495.5 630.8,496.0 632.5,496.2 634.1,497.2 635.7,497.1 637.4,497.7 639.0,497.8 640.6,497.6 642.3,499.1 643.9,498.5 645.5,499.7 647.2,499.9 648.8,499.3 650.5,499.9 652.1,500.4 653.7,500.6 655.4,500.7 657.0,501.8 658.6,501.7 660.3,502.2 661.9,502.1 663.5,502.7 665.2,502.5 666.8,503.1 668.5,503.6 670.1,503.6 671.7,503.6 673.4,503.5 675.0,504.3 676.6,504.6 678.3,504.6 679.9,504.5 681.5,505.3 683.2,506.4 684.8,505.4 686.4,505.8 688.1,506.0 689.7,504.9 691.4,506.3 693.0,506.1 694.6,507.2 696.3,506.6 697.9,506.6 699.5,507.0 701.2,507.3 702.8,507.1 704.4,507.5 706.1,507.1 707.7,507.7 709.4,508.3 711.0,509.0 712.6,508.6 714.3,508.5 715.9,509.0 717.5,509.1 719.2,509.5 720.8,509.4 722.4,508.9 724.1,509.2 725.7,509.3 727.3,509.5 729.0,509.5 730.6,509.2 732.3,508.7 733.9,509.5 735.5,508.9 737.2,510.0 738.8,510.1 740.4,509.4 742.1,510.6 743.7,510.7 745.3,510.5 747.0,511.3 748.6,511.4 750.3,510.1 751.9,511.2 753.5,511.1 755.2,511.1 756.8,511.4 758.4,510.8 760.1,510.9 761.7,510.9 763.3,511.0 765.0,511.3 766.6,510.8 768.2,511.1 769.9,511.8 771.5,511.6 773.2,511.9 774.8,510.9 776.4,511.5 778.1,511.7 779.7,512.0 781.3,511.8 783.0,512.5 784.6,512.1 786.2,512.2 787.9,512.3 789.5,512.6 791.2,512.1 792.8,512.9 794.4,512.7 796.1,512.6 797.7,512.6 799.3,512.8 801.0,513.1 802.6,513.1 804.2,512.9 805.9,513.2 807.5,512.9 809.1,513.4 810.8,512.9 812.4,512.0 814.1,513.6 815.7,513.1 817.3,512.6 819.0,513.0 820.6,512.8 822.2,514.1 823.9,513.5 825.5,512.6" fill="none" stroke="#8a0c20" stroke-width="4" stroke-linejoin="round" stroke-linecap="round"/>
<polyline points="7.5,514.9 9.1,514.4 10.8,515.5 12.4,514.1 14.0,513.5 15.7,514.6 17.3,514.3 19.0,514.3 20.6,513.5 22.2,514.6 23.9,515.2 25.5,513.5 27.1,514.9 28.8,514.1 30.4,515.4 32.0,514.5 33.7,514.2 35.3,514.7 36.9,514.4 38.6,513.9 40.2,514.5 41.9,513.9 43.5,513.3 45.1,515.0 46.8,513.9 48.4,513.7 50.0,514.1 51.7,513.2 53.3,513.3 54.9,513.6 56.6,513.6 58.2,513.8 59.9,514.2 61.5,513.5 63.1,513.9 64.8,513.9 66.4,513.1 68.0,513.7 69.7,513.1 71.3,513.9 72.9,513.6 74.6,513.4 76.2,512.7 77.8,513.3 79.5,512.9 81.1,513.5 82.8,513.1 84.4,512.7 86.0,513.5 87.7,513.3 89.3,512.7 90.9,513.4 92.6,512.7 94.2,512.7 95.8,512.8 97.5,512.3 99.1,512.4 100.8,512.5 102.4,513.2 104.0,513.1 105.7,512.3 107.3,513.0 108.9,512.2 110.6,512.4 112.2,512.5 113.8,512.2 115.5,513.1 117.1,512.0 118.7,511.3 120.4,512.3 122.0,511.5 123.7,511.4 125.3,510.1 126.9,511.9 128.6,511.7 130.2,511.6 131.8,511.6 133.5,511.8 135.1,510.9 136.7,511.3 138.4,510.4 140.0,510.5 141.7,511.0 143.3,510.6 144.9,509.7 146.6,510.4 148.2,510.0 149.8,509.6 151.5,510.1 153.1,509.6 154.7,508.9 156.4,509.0 158.0,510.1 159.6,508.5 161.3,509.2 162.9,509.2 164.6,509.1 166.2,508.1 167.8,508.3 169.5,508.4 171.1,508.5 172.7,507.7 174.4,507.3 176.0,508.2 177.6,508.0 179.3,507.5 180.9,506.9 182.6,507.2 184.2,506.9 185.8,507.0 187.5,505.9 189.1,506.3 190.7,505.9 192.4,505.3 194.0,505.7 195.6,505.4 197.3,504.9 198.9,505.0 200.6,504.0 202.2,504.3 203.8,504.2 205.5,503.9 207.1,503.9 208.7,502.6 210.4,502.1 212.0,502.6 213.6,502.4 215.3,502.7 216.9,501.7 218.5,500.6 220.2,501.0 221.8,499.8 223.5,499.1 225.1,500.5 226.7,499.0 228.4,498.6 230.0,498.1 231.6,498.1 233.3,496.8 234.9,496.6 236.5,495.0 238.2,494.2 239.8,494.8 241.5,494.1 243.1,492.9 244.7,492.0 246.4,491.1 248.0,489.9 249.6,489.9 251.3,488.5 252.9,487.4 254.5,486.3 256.2,485.4 257.8,483.9 259.4,482.7 261.1,480.5 262.7,479.8 264.4,478.9 266.0,476.0 267.6,474.4 269.3,472.9 270.9,470.9 272.5,468.6 274.2,465.2 275.8,463.7 277.4,460.3 279.1,457.6 280.7,455.2 282.4,451.6 284.0,448.7 285.6,446.1 287.3,441.2 288.9,437.1 290.5,432.1 292.2,427.7 293.8,422.8 295.4,418.1 297.1,412.7 298.7,407.6 300.3,402.2 302.0,396.1 303.6,390.0 305.3,384.0 306.9,378.6 308.5,372.0 310.2,366.0 311.8,359.5 313.4,352.2 315.1,346.0 316.7,338.4 318.3,333.4 320.0,326.2 321.6,319.0 323.3,312.1 324.9,306.4 326.5,299.1 328.2,293.6 329.8,288.4 331.4,282.5 333.1,276.8 334.7,272.4 336.3,266.7 338.0,262.8 339.6,258.4 341.2,254.5 342.9,251.8 344.5,248.2 346.2,247.1 347.8,244.0 349.4,243.6 351.1,241.3 352.7,241.7 354.3,241.0 356.0,241.5 357.6,243.1 359.2,244.7 360.9,245.5 362.5,248.6 364.2,249.9 365.8,252.9 367.4,255.7 369.1,258.7 370.7,260.7 372.3,265.4 374.0,268.1 375.6,271.0 377.2,274.0 378.9,276.9 380.5,280.2 382.1,284.2 383.8,286.7 385.4,289.2 387.1,292.1 388.7,295.5 390.3,296.9 392.0,298.8 393.6,301.4 395.2,302.5 396.9,303.5 398.5,304.2 400.1,304.5 401.8,305.1 403.4,305.6 405.1,305.7 406.7,305.7 408.3,305.3 410.0,304.4 411.6,303.6 413.2,302.0 414.9,300.3 416.5,299.8 418.1,298.2 419.8,296.9 421.4,295.6 423.0,293.7 424.7,292.2 426.3,291.2 428.0,289.9 429.6,288.2 431.2,287.5 432.9,286.1 434.5,284.8 436.1,284.4 437.8,284.6 439.4,283.0 441.0,283.6 442.7,283.7 444.3,283.9 446.0,283.3 447.6,285.3 449.2,285.4 450.9,286.4 452.5,287.8 454.1,289.8 455.8,291.3 457.4,293.1 459.0,295.9 460.7,297.2 462.3,299.4 463.9,302.8 465.6,305.4 467.2,308.4 468.9,310.3 470.5,314.3 472.1,317.1 473.8,320.8 475.4,322.7 477.0,326.6 478.7,329.7 480.3,332.5 481.9,336.3 483.6,340.5 485.2,343.2 486.9,346.5 488.5,350.6 490.1,354.0 491.8,357.4 493.4,359.9 495.0,363.6 496.7,367.3 498.3,369.8 499.9,373.0 501.6,376.9 503.2,380.3 504.9,382.2 506.5,384.5 508.1,388.0 509.8,391.1 511.4,394.4 513.0,397.6 514.7,400.0 516.3,402.4 517.9,405.5 519.6,407.6 521.2,410.5 522.8,412.8 524.5,416.7 526.1,418.2 527.8,419.8 529.4,422.0 531.0,424.5 532.7,426.1 534.3,428.7 535.9,430.7 537.6,433.5 539.2,434.9 540.8,436.6 542.5,438.3 544.1,440.2 545.8,442.5 547.4,444.1 549.0,446.5 550.7,447.3 552.3,449.7 553.9,450.9 555.6,452.3 557.2,452.9 558.8,454.7 560.5,457.1 562.1,458.7 563.7,459.6 565.4,461.1 567.0,461.9 568.7,463.2 570.3,464.3 571.9,466.2 573.6,467.1 575.2,468.0 576.8,469.0 578.5,470.5 580.1,471.5 581.7,472.0 583.4,474.1 585.0,474.4 586.7,475.3 588.3,476.9 589.9,477.6 591.6,477.9 593.2,479.1 594.8,479.2 596.5,480.2 598.1,480.3 599.7,482.6 601.4,482.0 603.0,483.9 604.6,483.9 606.3,484.6 607.9,485.6 609.6,486.5 611.2,487.3 612.8,488.4 614.5,488.4 616.1,489.2 617.7,489.2 619.4,490.3 621.0,490.6 622.6,490.9 624.3,491.6 625.9,492.1 627.6,492.8 629.2,493.3 630.8,493.4 632.5,493.8 634.1,494.9 635.7,494.3 637.4,495.2 639.0,496.6 640.6,495.1 642.3,496.4 643.9,497.4 645.5,496.8 647.2,499.0 648.8,497.1 650.5,499.3 652.1,499.7 653.7,499.7 655.4,499.5 657.0,500.1 658.6,499.9 660.3,501.0 661.9,500.4 663.5,501.1 665.2,501.9 666.8,501.3 668.5,501.9 670.1,502.4 671.7,502.0 673.4,503.4 675.0,503.3 676.6,502.7 678.3,503.6 679.9,503.5 681.5,503.8 683.2,504.3 684.8,504.2 686.4,505.2 688.1,504.6 689.7,505.6 691.4,505.3 693.0,505.9 694.6,505.5 696.3,505.7 697.9,505.6 699.5,506.5 701.2,506.9 702.8,507.6 704.4,507.4 706.1,507.1 707.7,507.0 709.4,507.5 711.0,507.4 712.6,508.3 714.3,508.2 715.9,507.5 717.5,507.7 719.2,508.8 720.8,508.4 722.4,508.3 724.1,509.1 725.7,508.5 727.3,508.7 729.0,508.7 730.6,508.2 732.3,509.6 733.9,508.8 735.5,509.2 737.2,509.2 738.8,510.0 740.4,509.7 742.1,509.9 743.7,509.2 745.3,510.0 747.0,509.5 748.6,510.4 750.3,510.5 751.9,510.4 753.5,511.4 755.2,510.8 756.8,511.0 758.4,510.8 760.1,510.8 761.7,511.4 763.3,511.5 765.0,510.5 766.6,511.7 768.2,511.5 769.9,511.8 771.5,511.6 773.2,510.9 774.8,511.0 776.4,512.4 778.1,511.8 779.7,511.1 781.3,512.0 783.0,511.7 784.6,511.1 786.2,511.0 787.9,511.3 789.5,512.2 791.2,512.2 792.8,512.1 794.4,512.4 796.1,512.6 797.7,511.5 799.3,512.3 801.0,512.1 802.6,512.0 804.2,512.4 805.9,512.6 807.5,512.6 809.1,512.1 810.8,512.6 812.4,513.7 814.1,512.4 815.7,512.2 817.3,513.1 819.0,513.3 820.6,513.3 822.2,512.6 823.9,513.6 825.5,512.8" fill="none" stroke="#b00820" stroke-width="4" stroke-linejoin="round" stroke-linecap="round"/>
<polyline points="7.5,514.4 9.1,514.6 10.8,514.8 12.4,515.2 14.0,515.1 15.7,514.8 17.3,515.2 19.0,514.8 20.6,515.2 22.2,514.1 23.9,514.0 25.5,515.0 27.1,514.1 28.8,514.5 30.4,514.6 32.0,514.4 33.7,514.4 35.3,515.2 36.9,513.4 38.6,514.9 40.2,515.6 41.9,514.5 43.5,514.5 45.1,514.8 46.8,515.3 48.4,513.9 50.0,514.4 51.7,514.3 53.3,514.6 54.9,514.4 56.6,514.6 58.2,514.1 59.9,514.3 61.5,513.9 63.1,513.9 64.8,514.1 66.4,514.1 68.0,513.6 69.7,514.8 71.3,514.0 72.9,513.4 74.6,514.5 76.2,513.6 77.8,514.2 79.5,513.9 81.1,514.0 82.8,513.9 84.4,513.5 86.0,513.8 87.7,514.6 89.3,512.7 90.9,513.7 92.6,513.8 94.2,513.1 95.8,512.9 97.5,514.5 99.1,513.3 100.8,514.4 102.4,513.6 104.0,513.4 105.7,513.5 107.3,513.5 108.9,513.7 110.6,513.4 112.2,513.2 113.8,513.1 115.5,513.6 117.1,513.3 118.7,512.5 120.4,512.6 122.0,512.9 123.7,512.5 125.3,512.5 126.9,512.2 128.6,512.4 130.2,512.7 131.8,512.9 133.5,512.4 135.1,513.2 136.7,512.2 138.4,513.6 140.0,512.5 141.7,512.2 143.3,511.7 144.9,510.6 146.6,511.7 148.2,511.8 149.8,512.5 151.5,510.9 153.1,512.3 154.7,511.3 156.4,511.6 158.0,510.0 159.6,511.1 161.3,510.8 162.9,511.2 164.6,510.8 166.2,510.2 167.8,511.0 169.5,510.8 171.1,510.6 172.7,510.7 174.4,510.6 176.0,510.0 177.6,509.3 179.3,509.2 180.9,510.3 182.6,509.9 184.2,509.5 185.8,509.1 187.5,509.1 189.1,509.0 190.7,508.7 192.4,508.4 194.0,509.5 195.6,508.5 197.3,507.9 198.9,507.4 200.6,507.5 202.2,508.0 203.8,507.8 205.5,507.1 207.1,507.0 208.7,506.7 210.4,506.1 212.0,506.9 213.6,506.2 215.3,506.9 216.9,505.2 218.5,505.2 220.2,505.4 221.8,504.5 223.5,503.7 225.1,503.6 226.7,503.7 228.4,503.4 230.0,502.9 231.6,503.0 233.3,502.5 234.9,501.8 236.5,501.2 238.2,500.6 239.8,500.4 241.5,500.1 243.1,499.1 244.7,498.7 246.4,497.7 248.0,496.5 249.6,496.0 251.3,496.0 252.9,495.1 254.5,494.8 256.2,493.2 257.8,492.6 259.4,491.7 261.1,490.5 262.7,488.6 264.4,487.5 266.0,486.2 267.6,484.3 269.3,483.4 270.9,481.9 272.5,479.4 274.2,478.6 275.8,475.4 277.4,473.2 279.1,470.8 280.7,468.0 282.4,465.7 284.0,462.5 285.6,460.1 287.3,456.2 288.9,452.6 290.5,448.5 292.2,443.9 293.8,440.2 295.4,435.4 297.1,431.5 298.7,426.1 300.3,421.8 302.0,416.0 303.6,410.5 305.3,404.6 306.9,398.7 308.5,392.9 310.2,386.8 311.8,379.8 313.4,374.0 315.1,368.5 316.7,360.8 318.3,354.3 320.0,347.6 321.6,340.8 323.3,335.6 324.9,328.9 326.5,322.8 328.2,317.5 329.8,312.0 331.4,304.9 333.1,300.4 334.7,295.2 336.3,290.3 338.0,285.9 339.6,281.6 341.2,278.6 342.9,274.8 344.5,271.8 346.2,269.7 347.8,267.6 349.4,265.9 351.1,264.9 352.7,265.1 354.3,264.6 356.0,264.8 357.6,265.3 359.2,266.6 360.9,267.8 362.5,270.0 364.2,272.1 365.8,273.2 367.4,276.5 369.1,279.2 370.7,281.5 372.3,283.6 374.0,287.2 375.6,288.9 377.2,291.2 378.9,293.6 380.5,296.4 382.1,299.0 383.8,301.1 385.4,302.4 387.1,303.3 388.7,304.8 390.3,305.7 392.0,306.8 393.6,306.5 395.2,307.5 396.9,307.6 398.5,306.9 400.1,306.5 401.8,304.9 403.4,303.5 405.1,302.4 406.7,301.6 408.3,299.6 410.0,296.9 411.6,295.5 413.2,292.5 414.9,290.9 416.5,287.9 418.1,284.9 419.8,282.9 421.4,279.6 423.0,277.0 424.7,274.3 426.3,272.7 428.0,270.3 429.6,268.1 431.2,266.0 432.9,265.0 434.5,262.5 436.1,261.0 437.8,260.8 439.4,259.9 441.0,258.8 442.7,257.5 444.3,258.0 446.0,258.8 447.6,259.1 449.2,260.6 450.9,260.5 452.5,262.7 454.1,263.7 455.8,266.4 457.4,267.7 459.0,270.4 460.7,272.0 462.3,274.2 463.9,277.1 465.6,280.2 467.2,283.0 468.9,287.1 470.5,290.4 472.1,293.3 473.8,296.2 475.4,300.1 477.0,303.4 478.7,308.0 480.3,311.2 481.9,315.0 483.6,318.3 485.2,321.3 486.9,325.6 488.5,329.2 490.1,333.6 491.8,337.2 493.4,340.4 495.0,344.3 496.7,348.8 498.3,351.2 499.9,354.8 501.6,358.6 503.2,361.8 504.9,365.3 506.5,369.1 508.1,372.9 509.8,374.6 511.4,378.6 513.0,381.7 514.7,384.7 516.3,387.7 517.9,390.6 519.6,394.1 521.2,396.2 522.8,399.2 524.5,401.9 526.1,404.6 527.8,407.1 529.4,410.2 531.0,412.2 532.7,414.7 534.3,417.0 535.9,418.9 537.6,421.2 539.2,423.3 540.8,426.1 542.5,427.8 544.1,429.7 545.8,432.2 547.4,434.3 549.0,435.2 550.7,438.6 552.3,439.7 553.9,441.4 555.6,443.7 557.2,444.9 558.8,446.3 560.5,449.1 562.1,449.2 563.7,451.2 565.4,453.1 567.0,453.7 568.7,455.6 570.3,457.2 571.9,459.4 573.6,459.3 575.2,460.9 576.8,462.5 578.5,463.5 580.1,464.1 581.7,466.0 583.4,467.0 585.0,468.3 586.7,469.7 588.3,470.7 589.9,471.4 591.6,472.4 593.2,472.7 594.8,474.1 596.5,475.2 598.1,475.8 599.7,476.9 601.4,477.4 603.0,479.3 604.6,480.4 606.3,480.0 607.9,481.2 609.6,481.7 611.2,483.1 612.8,483.4 614.5,484.0 616.1,484.5 617.7,485.4 619.4,485.5 621.0,486.9 622.6,486.9 624.3,488.1 625.9,488.5 627.6,489.5 629.2,489.6 630.8,490.6 632.5,490.3 634.1,491.5 635.7,491.6 637.4,492.3 639.0,492.8 640.6,493.6 642.3,492.8 643.9,494.3 645.5,493.9 647.2,495.6 648.8,494.6 650.5,495.4 652.1,495.5 653.7,497.4 655.4,496.5 657.0,497.5 658.6,497.6 660.3,497.4 661.9,498.4 663.5,499.2 665.2,499.1 666.8,499.9 668.5,499.7 670.1,500.2 671.7,500.3 673.4,500.9 675.0,501.9 676.6,501.5 678.3,501.7 679.9,501.6 681.5,501.8 683.2,503.1 684.8,502.2 686.4,502.5 688.1,503.1 689.7,503.2 691.4,504.5 693.0,502.8 694.6,504.3 696.3,504.7 697.9,504.0 699.5,504.5 701.2,505.2 702.8,505.9 704.4,505.0 706.1,504.9 707.7,506.2 709.4,506.6 711.0,506.0 712.6,505.3 714.3,507.1 715.9,506.5 717.5,507.3 719.2,506.9 720.8,507.0 722.4,507.1 724.1,508.1 725.7,508.2 727.3,506.8 729.0,507.4 730.6,508.8 732.3,508.0 733.9,507.7 735.5,508.4 737.2,508.5 738.8,508.6 740.4,508.6 742.1,508.8 743.7,508.8 745.3,509.3 747.0,508.9 748.6,509.2 750.3,509.4 751.9,510.2 753.5,509.9 755.2,509.8 756.8,510.1 758.4,510.2 760.1,510.6 761.7,510.4 763.3,511.1 765.0,511.0 766.6,510.5 768.2,510.4 769.9,511.0 771.5,511.0 773.2,510.8 774.8,510.2 776.4,510.2 778.1,511.2 779.7,511.5 781.3,511.6 783.0,510.7 784.6,511.8 786.2,511.2 787.9,511.7 789.5,511.8 791.2,511.3 792.8,511.4 794.4,510.8 796.1,511.4 797.7,511.1 799.3,512.2 801.0,512.0 802.6,512.5 804.2,512.3 805.9,511.9 807.5,512.4 809.1,512.1 810.8,512.6 812.4,512.6 814.1,512.0 815.7,512.5 817.3,512.6 819.0,512.5 820.6,513.1 822.2,513.5 823.9,512.6 825.5,512.6" fill="none" stroke="#cc0a20" stroke-width="4" stroke-linejoin="round" stroke-linecap="round"/>
<polyline points="7.5,514.5 9.1,515.4 10.8,515.3 12.4,514.5 14.0,515.6 15.7,515.8 17.3,515.2 19.0,515.3 20.6,515.1 22.2,515.8 23.9,514.8 25.5,515.4 27.1,516.4 28.8,515.5 30.4,515.7 32.0,515.4 33.7,515.0 35.3,515.5 36.9,515.7 38.6,515.0 40.2,515.7 41.9,516.1 43.5,516.0 45.1,514.8 46.8,515.1 48.4,514.8 50.0,516.0 51.7,515.8 53.3,515.8 54.9,515.1 56.6,515.0 58.2,515.5 59.9,515.5 61.5,515.1 63.1,515.6 64.8,515.8 66.4,515.6 68.0,515.0 69.7,514.5 71.3,515.4 72.9,515.6 74.6,515.4 76.2,515.3 77.8,515.2 79.5,515.8 81.1,515.5 82.8,515.6 84.4,515.1 86.0,515.2 87.7,515.6 89.3,515.0 90.9,514.9 92.6,515.4 94.2,516.0 95.8,515.6 97.5,516.2 99.1,515.4 100.8,515.4 102.4,514.9 104.0,515.2 105.7,516.1 107.3,515.6 108.9,515.8 110.6,515.8 112.2,515.5 113.8,515.4 115.5,515.6 117.1,515.8 118.7,515.7 120.4,515.7 122.0,515.6 123.7,515.1 125.3,515.4 126.9,515.1 128.6,515.9 130.2,514.5 131.8,515.4 133.5,516.6 135.1,515.3 136.7,515.0 138.4,515.5 140.0,516.1 141.7,515.4 143.3,515.8 144.9,515.5 146.6,515.3 148.2,516.9 149.8,515.5 151.5,515.2 153.1,515.2 154.7,515.6 156.4,515.6 158.0,515.8 159.6,515.5 161.3,514.8 162.9,515.7 164.6,515.3 166.2,515.3 167.8,514.7 169.5,515.1 171.1,515.1 172.7,515.4 174.4,514.7 176.0,515.4 177.6,515.4 179.3,514.8 180.9,515.0 182.6,514.9 184.2,515.6 185.8,514.1 187.5,515.0 189.1,514.4 190.7,514.9 192.4,515.4 194.0,514.7 195.6,515.0 197.3,514.5 198.9,515.7 200.6,515.2 202.2,515.2 203.8,514.0 205.5,514.1 207.1,514.9 208.7,514.3 210.4,514.1 212.0,514.3 213.6,513.4 215.3,514.2 216.9,513.7 218.5,513.7 220.2,513.0 221.8,513.4 223.5,512.6 225.1,513.1 226.7,512.9 228.4,512.6 230.0,512.1 231.6,511.8 233.3,510.0 234.9,511.2 236.5,510.3 238.2,510.0 239.8,509.4 241.5,508.4 243.1,508.2 244.7,508.2 246.4,507.9 248.0,506.3 249.6,505.5 251.3,505.8 252.9,503.9 254.5,504.4 256.2,502.5 257.8,501.1 259.4,500.9 261.1,500.1 262.7,497.5 264.4,497.6 266.0,495.4 267.6,494.8 269.3,492.5 270.9,490.3 272.5,489.6 274.2,488.0 275.8,486.7 277.4,484.6 279.1,482.1 280.7,479.5 282.4,477.1 284.0,474.8 285.6,472.1 287.3,469.8 288.9,466.1 290.5,464.6 292.2,461.6 293.8,459.8 295.4,455.9 297.1,452.1 298.7,449.3 300.3,445.1 302.0,442.0 303.6,437.9 305.3,435.7 306.9,431.7 308.5,427.2 310.2,423.9 311.8,420.5 313.4,416.4 315.1,412.5 316.7,408.0 318.3,404.2 320.0,400.7 321.6,397.1 323.3,392.5 324.9,388.5 326.5,385.7 328.2,381.1 329.8,378.3 331.4,374.4 333.1,371.2 334.7,368.2 336.3,364.4 338.0,361.3 339.6,357.5 341.2,354.7 342.9,352.6 344.5,350.4 346.2,347.9 347.8,346.1 349.4,343.1 351.1,341.1 352.7,339.7 354.3,337.8 356.0,336.4 357.6,334.9 359.2,335.0 360.9,333.3 362.5,333.4 364.2,332.1 365.8,332.9 367.4,331.6 369.1,332.3 370.7,331.0 372.3,331.4 374.0,332.0 375.6,331.0 377.2,331.3 378.9,330.9 380.5,329.8 382.1,330.6 383.8,330.3 385.4,329.1 387.1,329.2 388.7,327.8 390.3,326.7 392.0,326.1 393.6,324.5 395.2,324.4 396.9,321.0 398.5,320.2 400.1,318.2 401.8,314.7 403.4,312.4 405.1,310.8 406.7,307.5 408.3,304.9 410.0,302.1 411.6,298.2 413.2,294.5 414.9,290.2 416.5,287.9 418.1,283.7 419.8,280.5 421.4,276.7 423.0,272.1 424.7,269.7 426.3,265.7 428.0,261.9 429.6,257.4 431.2,254.3 432.9,250.8 434.5,247.7 436.1,244.3 437.8,242.2 439.4,239.5 441.0,237.2 442.7,234.6 444.3,233.6 446.0,231.6 447.6,229.0 449.2,229.0 450.9,228.6 452.5,228.8 454.1,228.3 455.8,228.8 457.4,229.4 459.0,231.0 460.7,231.8 462.3,233.3 463.9,235.0 465.6,237.7 467.2,239.4 468.9,241.4 470.5,245.1 472.1,247.3 473.8,250.8 475.4,254.0 477.0,257.7 478.7,261.1 480.3,263.9 481.9,267.8 483.6,271.0 485.2,276.2 486.9,279.5 488.5,283.9 490.1,287.1 491.8,290.3 493.4,296.0 495.0,299.4 496.7,303.4 498.3,307.4 499.9,311.7 501.6,315.6 503.2,318.6 504.9,323.7 506.5,326.9 508.1,330.8 509.8,335.6 511.4,339.0 513.0,342.1 514.7,345.1 516.3,349.6 517.9,353.3 519.6,356.5 521.2,359.4 522.8,363.0 524.5,366.1 526.1,370.0 527.8,373.5 529.4,376.7 531.0,379.0 532.7,382.5 534.3,385.5 535.9,388.0 537.6,390.9 539.2,394.7 540.8,396.6 542.5,399.5 544.1,401.5 545.8,404.3 547.4,406.0 549.0,409.1 550.7,412.0 552.3,414.8 553.9,416.6 555.6,418.6 557.2,420.5 558.8,422.3 560.5,424.5 562.1,426.9 563.7,428.3 565.4,431.0 567.0,432.0 568.7,433.5 570.3,435.6 571.9,437.1 573.6,438.9 575.2,441.7 576.8,442.8 578.5,444.5 580.1,446.5 581.7,448.1 583.4,448.8 585.0,451.1 586.7,452.1 588.3,453.3 589.9,454.8 591.6,455.3 593.2,456.9 594.8,458.5 596.5,460.0 598.1,460.8 599.7,462.1 601.4,463.7 603.0,465.0 604.6,465.8 606.3,467.1 607.9,467.4 609.6,468.5 611.2,469.7 612.8,470.4 614.5,471.3 616.1,473.2 617.7,473.2 619.4,473.8 621.0,475.3 622.6,476.7 624.3,476.8 625.9,478.1 627.6,478.1 629.2,478.9 630.8,479.5 632.5,480.5 634.1,482.1 635.7,481.4 637.4,483.4 639.0,482.9 640.6,483.9 642.3,485.0 643.9,485.5 645.5,485.9 647.2,485.7 648.8,487.2 650.5,487.1 652.1,489.3 653.7,488.6 655.4,489.3 657.0,489.2 658.6,490.0 660.3,490.1 661.9,491.6 663.5,491.5 665.2,492.4 666.8,492.3 668.5,492.8 670.1,494.0 671.7,493.4 673.4,493.5 675.0,494.9 676.6,494.6 678.3,495.3 679.9,496.3 681.5,495.8 683.2,497.0 684.8,496.6 686.4,498.0 688.1,498.2 689.7,497.7 691.4,498.2 693.0,498.2 694.6,499.0 696.3,499.7 697.9,498.9 699.5,500.2 701.2,499.5 702.8,500.0 704.4,499.8 706.1,501.9 707.7,501.2 709.4,501.6 711.0,501.4 712.6,502.4 714.3,501.2 715.9,502.4 717.5,503.7 719.2,502.7 720.8,503.1 722.4,503.6 724.1,503.2 725.7,503.8 727.3,504.4 729.0,504.3 730.6,504.5 732.3,504.4 733.9,504.9 735.5,505.0 737.2,505.8 738.8,505.6 740.4,505.4 742.1,504.5 743.7,506.1 745.3,506.3 747.0,505.7 748.6,505.4 750.3,506.0 751.9,507.0 753.5,506.3 755.2,506.7 756.8,507.2 758.4,507.8 760.1,507.3 761.7,507.4 763.3,507.4 765.0,508.5 766.6,508.4 768.2,508.0 769.9,507.5 771.5,507.9 773.2,508.6 774.8,508.2 776.4,509.0 778.1,508.9 779.7,509.0 781.3,509.2 783.0,509.3 784.6,508.8 786.2,509.1 787.9,510.4 789.5,508.9 791.2,509.4 792.8,510.1 794.4,509.7 796.1,509.5 797.7,509.3 799.3,510.3 801.0,510.6 802.6,510.8 804.2,510.3 805.9,510.9 807.5,510.0 809.1,510.6 810.8,510.3 812.4,510.8 814.1,511.1 815.7,511.3 817.3,510.5 819.0,511.6 820.6,510.9 822.2,510.7 823.9,511.1 825.5,510.6" fill="none" stroke="#e8001c" stroke-width="4" stroke-linejoin="round" stroke-linecap="round"/>
<polyline points="7.5,515.5 9.1,515.6 10.8,515.4 12.4,515.7 14.0,515.4 15.7,515.5 17.3,514.9 19.0,515.5 20.6,515.1 22.2,515.3 23.9,515.5 25.5,515.6 27.1,514.8 28.8,514.8 30.4,515.4 32.0,515.7 33.7,515.7 35.3,515.9 36.9,516.1 38.6,515.7 40.2,515.5 41.9,515.0 43.5,515.1 45.1,515.3 46.8,515.6 48.4,515.6 50.0,515.5 51.7,515.4 53.3,515.8 54.9,515.6 56.6,515.6 58.2,515.6 59.9,515.3 61.5,515.0 63.1,515.7 64.8,515.7 66.4,515.4 68.0,515.3 69.7,516.5 71.3,515.2 72.9,515.4 74.6,515.6 76.2,515.0 77.8,515.6 79.5,516.3 81.1,515.9 82.8,515.8 84.4,515.8 86.0,515.6 87.7,515.9 89.3,515.4 90.9,515.3 92.6,515.5 94.2,515.9 95.8,515.6 97.5,515.8 99.1,514.6 100.8,516.0 102.4,516.6 104.0,516.1 105.7,515.4 107.3,515.1 108.9,515.6 110.6,515.1 112.2,515.8 113.8,515.3 115.5,515.9 117.1,516.1 118.7,514.6 120.4,515.6 122.0,515.2 123.7,514.9 125.3,515.2 126.9,515.4 128.6,516.0 130.2,514.8 131.8,516.0 133.5,516.4 135.1,515.8 136.7,515.7 138.4,515.5 140.0,515.0 141.7,515.7 143.3,515.7 144.9,515.8 146.6,516.7 148.2,515.8 149.8,515.7 151.5,516.2 153.1,514.9 154.7,515.0 156.4,515.3 158.0,515.2 159.6,515.8 161.3,515.4 162.9,516.3 164.6,516.2 166.2,515.8 167.8,515.3 169.5,515.8 171.1,515.9 172.7,515.0 174.4,515.7 176.0,515.8 177.6,515.6 179.3,516.2 180.9,516.0 182.6,515.1 184.2,515.5 185.8,515.1 187.5,515.7 189.1,515.1 190.7,515.9 192.4,515.7 194.0,515.9 195.6,515.4 197.3,514.8 198.9,516.3 200.6,515.4 202.2,516.1 203.8,515.6 205.5,515.7 207.1,516.2 208.7,515.6 210.4,516.0 212.0,514.7 213.6,515.7 215.3,515.2 216.9,515.2 218.5,515.3 220.2,515.4 221.8,515.9 223.5,514.3 225.1,515.1 226.7,514.7 228.4,515.5 230.0,514.7 231.6,515.0 233.3,514.5 234.9,514.9 236.5,514.9 238.2,514.1 239.8,514.2 241.5,513.4 243.1,513.9 244.7,514.0 246.4,513.1 248.0,513.6 249.6,511.9 251.3,511.6 252.9,511.5 254.5,511.5 256.2,511.3 257.8,510.8 259.4,510.3 261.1,510.1 262.7,508.9 264.4,507.9 266.0,507.2 267.6,507.9 269.3,505.1 270.9,505.1 272.5,504.9 274.2,503.4 275.8,501.7 277.4,500.8 279.1,499.9 280.7,498.7 282.4,496.2 284.0,495.4 285.6,493.5 287.3,492.1 288.9,490.3 290.5,487.6 292.2,485.0 293.8,483.6 295.4,482.0 297.1,479.1 298.7,476.4 300.3,474.7 302.0,470.5 303.6,468.6 305.3,465.0 306.9,462.3 308.5,459.2 310.2,456.7 311.8,452.4 313.4,449.3 315.1,445.4 316.7,443.0 318.3,439.1 320.0,436.0 321.6,431.8 323.3,428.6 324.9,425.7 326.5,421.6 328.2,418.4 329.8,414.9 331.4,411.0 333.1,407.1 334.7,404.9 336.3,401.3 338.0,398.4 339.6,394.0 341.2,391.2 342.9,388.1 344.5,385.9 346.2,384.1 347.8,381.4 349.4,378.8 351.1,376.7 352.7,374.9 354.3,372.6 356.0,371.2 357.6,369.6 359.2,367.3 360.9,366.9 362.5,366.7 364.2,365.0 365.8,364.3 367.4,363.3 369.1,362.7 370.7,362.7 372.3,361.5 374.0,360.4 375.6,358.8 377.2,359.2 378.9,357.7 380.5,356.8 382.1,357.0 383.8,355.7 385.4,353.2 387.1,353.0 388.7,351.1 390.3,348.6 392.0,347.2 393.6,343.8 395.2,341.5 396.9,338.6 398.5,335.7 400.1,333.4 401.8,328.9 403.4,325.2 405.1,321.3 406.7,317.7 408.3,313.0 410.0,309.0 411.6,303.5 413.2,298.3 414.9,293.6 416.5,288.6 418.1,282.9 419.8,278.1 421.4,273.3 423.0,266.8 424.7,261.7 426.3,256.9 428.0,250.7 429.6,245.3 431.2,240.1 432.9,235.8 434.5,231.1 436.1,226.2 437.8,221.9 439.4,218.4 441.0,214.3 442.7,209.8 444.3,207.2 446.0,204.4 447.6,202.2 449.2,199.7 450.9,197.8 452.5,196.5 454.1,195.1 455.8,195.4 457.4,195.1 459.0,196.0 460.7,196.1 462.3,197.4 463.9,198.5 465.6,200.2 467.2,203.0 468.9,204.7 470.5,207.6 472.1,209.7 473.8,213.2 475.4,215.7 477.0,219.6 478.7,223.2 480.3,227.5 481.9,231.3 483.6,235.2 485.2,239.8 486.9,243.8 488.5,248.3 490.1,252.8 491.8,256.9 493.4,261.3 495.0,266.1 496.7,270.3 498.3,275.3 499.9,280.1 501.6,284.6 503.2,288.6 504.9,292.7 506.5,297.7 508.1,302.1 509.8,307.0 511.4,310.7 513.0,315.1 514.7,319.7 516.3,323.4 517.9,327.6 519.6,332.5 521.2,336.4 522.8,340.0 524.5,343.7 526.1,346.9 527.8,351.3 529.4,354.8 531.0,358.4 532.7,361.6 534.3,365.3 535.9,368.6 537.6,372.1 539.2,375.9 540.8,378.5 542.5,380.7 544.1,384.1 545.8,386.8 547.4,390.0 549.0,393.5 550.7,396.2 552.3,398.4 553.9,401.5 555.6,403.6 557.2,405.8 558.8,408.3 560.5,411.0 562.1,414.4 563.7,415.4 565.4,418.9 567.0,421.1 568.7,422.6 570.3,424.7 571.9,426.6 573.6,428.8 575.2,431.1 576.8,432.7 578.5,435.0 580.1,436.9 581.7,438.4 583.4,440.1 585.0,441.6 586.7,443.5 588.3,444.4 589.9,446.7 591.6,448.1 593.2,449.2 594.8,452.0 596.5,452.0 598.1,453.5 599.7,455.3 601.4,455.7 603.0,457.5 604.6,458.4 606.3,459.9 607.9,461.5 609.6,462.9 611.2,464.4 612.8,465.4 614.5,466.7 616.1,467.5 617.7,468.0 619.4,469.8 621.0,470.0 622.6,471.0 624.3,472.9 625.9,473.5 627.6,474.1 629.2,475.2 630.8,476.2 632.5,476.0 634.1,477.4 635.7,477.7 637.4,479.1 639.0,479.5 640.6,481.1 642.3,481.5 643.9,481.6 645.5,482.7 647.2,482.8 648.8,484.0 650.5,484.9 652.1,485.4 653.7,485.0 655.4,486.4 657.0,487.3 658.6,487.8 660.3,488.8 661.9,488.2 663.5,489.6 665.2,489.6 666.8,490.5 668.5,491.1 670.1,491.7 671.7,491.6 673.4,492.4 675.0,492.3 676.6,492.6 678.3,493.9 679.9,494.1 681.5,493.8 683.2,494.6 684.8,495.3 686.4,496.4 688.1,496.6 689.7,496.8 691.4,496.1 693.0,497.2 694.6,497.8 696.3,498.1 697.9,498.4 699.5,498.5 701.2,499.7 702.8,499.9 704.4,499.5 706.1,499.4 707.7,501.0 709.4,500.2 711.0,501.2 712.6,501.8 714.3,500.8 715.9,501.6 717.5,501.6 719.2,502.3 720.8,502.4 722.4,503.4 724.1,503.0 725.7,503.0 727.3,503.7 729.0,503.3 730.6,503.5 732.3,504.9 733.9,503.7 735.5,504.1 737.2,504.5 738.8,504.2 740.4,504.0 742.1,505.6 743.7,504.9 745.3,505.2 747.0,505.5 748.6,505.4 750.3,505.5 751.9,506.2 753.5,507.4 755.2,506.8 756.8,507.0 758.4,506.1 760.1,507.0 761.7,506.6 763.3,507.6 765.0,507.3 766.6,507.6 768.2,507.6 769.9,507.6 771.5,507.3 773.2,508.4 774.8,507.6 776.4,507.8 778.1,508.3 779.7,508.3 781.3,508.8 783.0,509.3 784.6,509.1 786.2,509.1 787.9,509.2 789.5,509.7 791.2,508.5 792.8,509.6 794.4,509.2 796.1,509.1 797.7,509.8 799.3,509.7 801.0,510.2 802.6,510.6 804.2,509.1 805.9,510.2 807.5,511.2 809.1,510.8 810.8,511.2 812.4,510.6 814.1,510.0 815.7,510.3 817.3,511.2 819.0,511.3 820.6,510.7 822.2,510.9 823.9,511.3 825.5,510.4" fill="none" stroke="#e02444" stroke-width="4" stroke-linejoin="round" stroke-linecap="round"/>
<line x1="7.5" y1="530.5" x2="825.5" y2="530.5" stroke="#000" stroke-width="2"/>
<line x1="7.5" y1="530" x2="7.5" y2="539.5" stroke="#000" stroke-width="2"/>
<text x="7.5" y="574" font-size="28" text-anchor="middle">9</text>
<line x1="143.8" y1="530" x2="143.8" y2="539.5" stroke="#000" stroke-width="2"/>
<text x="143.8" y="574" font-size="28" text-anchor="middle">9.5</text>
<line x1="280.2" y1="530" x2="280.2" y2="539.5" stroke="#000" stroke-width="2"/>
<text x="280.2" y="574" font-size="28" text-anchor="middle">10</text>
<line x1="416.5" y1="530" x2="416.5" y2="539.5" stroke="#000" stroke-width="2"/>
<text x="416.5" y="574" font-size="28" text-anchor="middle">10.5</text>
<line x1="552.8" y1="530" x2="552.8" y2="539.5" stroke="#000" stroke-width="2"/>
<text x="552.8" y="574" font-size="28" text-anchor="middle">11</text>
<line x1="689.2" y1="530" x2="689.2" y2="539.5" stroke="#000" stroke-width="2"/>
<text x="689.2" y="574" font-size="28" text-anchor="middle">11.5</text>
<line x1="825.5" y1="530" x2="825.5" y2="539.5" stroke="#000" stroke-width="2"/>
<text x="825.5" y="574" font-size="28" text-anchor="middle">12</text>
<text x="417.2" y="615" font-size="29.2" text-anchor="middle">Retention time</text>
<text x="6" y="32" font-size="42" font-weight="bold">a</text>
<line x1="641.5" y1="131.7" x2="677" y2="131.7" stroke="#000000" stroke-width="4.2" stroke-linecap="round"/>
<text x="690" y="140.1" font-size="25">0 min</text>
<line x1="641.5" y1="162.9" x2="677" y2="162.9" stroke="#200008" stroke-width="4.2" stroke-linecap="round"/>
<text x="690" y="171.3" font-size="25">7.5 min</text>
<line x1="641.5" y1="194.1" x2="677" y2="194.1" stroke="#400a14" stroke-width="4.2" stroke-linecap="round"/>
<text x="690" y="202.5" font-size="25">15 min</text>
<line x1="641.5" y1="225.3" x2="677" y2="225.3" stroke="#601020" stroke-width="4.2" stroke-linecap="round"/>
<text x="690" y="233.7" font-size="25">22.5 min</text>
<line x1="641.5" y1="256.5" x2="677" y2="256.5" stroke="#8a0c20" stroke-width="4.2" stroke-linecap="round"/>
<text x="690" y="264.9" font-size="25">30 min</text>
<line x1="641.5" y1="287.7" x2="677" y2="287.7" stroke="#b00820" stroke-width="4.2" stroke-linecap="round"/>
<text x="690" y="296.1" font-size="25">37.5 min</text>
<line x1="641.5" y1="318.9" x2="677" y2="318.9" stroke="#cc0a20" stroke-width="4.2" stroke-linecap="round"/>
<text x="690" y="327.3" font-size="25">45 min</text>
<line x1="641.5" y1="350.1" x2="677" y2="350.1" stroke="#e8001c" stroke-width="4.2" stroke-linecap="round"/>
<text x="690" y="358.5" font-size="25">67.5 min</text>
<line x1="641.5" y1="381.3" x2="677" y2="381.3" stroke="#e02444" stroke-width="4.2" stroke-linecap="round"/>
<text x="690" y="389.7" font-size="25">90 min</text>
</g>
<g id="pb">
<polyline points="888.5,191.6 889.0,191.2 889.5,191.6 890.0,191.7 890.5,191.6 891.0,191.5 891.5,191.8 892.0,191.7 892.5,191.8 893.0,191.7 893.5,191.6 894.0,191.9 894.5,191.4 895.0,191.5 895.5,191.7 896.0,191.3 896.5,190.9 897.0,190.9 897.5,191.0 898.0,190.6 898.5,190.7 899.0,190.5 899.5,190.5 900.0,190.6 900.5,191.0 901.0,191.0 901.5,191.4 902.0,191.5 902.5,191.2 903.0,191.2 903.5,191.7 904.0,191.7 904.5,191.8 905.0,191.7 905.5,191.3 906.0,191.8 906.5,191.3 907.0,191.5 907.5,191.3 908.0,190.9 908.5,190.9 909.0,190.5 909.5,190.7 910.0,190.9 910.5,191.6 911.0,191.6 911.5,191.6 912.0,192.0 912.5,191.9 913.0,191.7 913.5,191.4 914.0,191.2 914.5,191.0 915.0,190.7 915.5,190.3 916.0,190.8 916.5,190.5 917.0,190.6 917.5,190.2 918.0,189.5 918.5,189.1 919.0,188.8 919.5,187.5 920.0,185.9 920.5,183.5 921.0,181.0 921.5,179.8 922.0,181.2 922.5,184.0 923.0,186.5 923.5,188.2 924.0,189.3 924.5,189.7 925.0,190.1 925.5,190.5 926.0,190.6 926.5,190.5 927.0,190.7 927.5,191.1 928.0,191.0 928.5,190.8 929.0,190.6 929.5,190.7 930.0,190.6 930.5,191.7 931.0,191.9 931.5,191.6 932.0,191.3 932.5,191.6 933.0,191.5 933.5,191.7 934.0,191.9 934.5,191.7 935.0,191.5 935.5,191.2 936.0,191.3 936.5,191.3 937.0,191.6 937.5,191.8 938.0,191.3 938.5,191.3 939.0,191.0 939.5,191.3 940.0,191.3 940.5,191.3 941.0,191.5 941.5,191.7 942.0,192.3 942.5,192.2 943.0,191.7 943.5,191.4 944.0,191.4 944.5,192.0 945.0,192.3 945.5,192.3 946.0,191.2 946.5,191.3 947.0,191.2 947.5,191.1 948.0,191.4 948.5,191.5 949.0,191.9 949.5,192.1 950.0,191.5 950.5,191.4 951.0,191.1 951.5,190.5 952.0,190.8 952.5,191.2 953.0,191.4 953.5,192.1 954.0,191.9 954.5,192.4 955.0,192.2 955.5,191.8 956.0,191.5 956.5,191.1 957.0,191.0 957.5,190.6 958.0,190.8 958.5,191.0 959.0,191.5 959.5,191.0 960.0,191.2 960.5,190.6 961.0,191.2 961.5,191.6 962.0,192.0 962.5,191.6 963.0,191.2 963.5,191.4 964.0,192.4 964.5,192.7 965.0,192.6 965.5,192.6 966.0,191.8 966.5,191.6 967.0,191.5 967.5,192.0 968.0,192.1 968.5,191.4 969.0,191.3 969.5,191.0 970.0,191.2 970.5,190.6 971.0,191.2 971.5,191.5 972.0,191.4 972.5,191.8 973.0,191.8 973.5,191.7 974.0,191.2 974.5,191.2 975.0,191.0 975.5,191.2 976.0,191.3 976.5,191.2 977.0,191.0 977.5,191.3 978.0,191.2 978.5,190.9 979.0,190.6 979.5,190.6 980.0,191.0 980.5,190.8 981.0,190.3 981.5,190.4 982.0,190.6 982.5,190.7 983.0,190.4 983.5,190.3 984.0,190.1 984.5,189.7 985.0,189.5 985.5,189.2 986.0,188.6 986.5,187.3 987.0,184.4 987.5,179.1 987.9,175.4 988.0,175.7 988.5,180.9 989.0,184.8 989.5,185.6 990.0,184.9 990.5,181.0 991.0,168.0 991.3,158.5 991.5,162.8 992.0,177.8 992.5,180.8 993.0,178.8 993.5,170.0 993.7,167.3 994.0,171.4 994.5,178.0 995.0,179.6 995.5,179.1 996.0,178.1 996.5,175.7 997.0,168.1 997.5,152.7 998.0,169.2 998.5,177.1 999.0,179.5 999.5,179.2 1000.0,175.3 1000.4,171.6 1000.5,171.6 1001.0,178.0 1001.5,181.4 1002.0,182.2 1002.5,183.5 1003.0,184.8 1003.5,185.6 1004.0,186.5 1004.5,186.9 1005.0,186.7 1005.5,187.0 1006.0,187.2 1006.5,187.2 1007.0,187.5 1007.5,187.4 1008.0,186.2 1008.5,183.7 1009.0,179.7 1009.1,179.2 1009.5,181.0 1010.0,182.7 1010.5,182.9 1011.0,182.8 1011.5,180.4 1012.0,176.9 1012.5,181.5 1013.0,185.8 1013.5,187.9 1014.0,188.8 1014.5,189.4 1015.0,189.8 1015.5,189.7 1016.0,190.1 1016.5,190.0 1017.0,190.6 1017.5,190.6 1018.0,190.6 1018.5,190.7 1019.0,190.5 1019.5,190.4 1020.0,190.3 1020.5,190.3 1021.0,190.9 1021.5,191.4 1022.0,191.5 1022.5,191.4 1023.0,191.9 1023.5,191.7 1024.0,191.7 1024.5,191.8 1025.0,191.8 1025.5,191.4 1026.0,190.9 1026.5,191.4 1027.0,191.7 1027.5,192.1 1028.0,191.3 1028.5,191.7 1029.0,191.3 1029.5,191.5 1030.0,191.1 1030.5,191.3 1031.0,191.4 1031.5,191.4 1032.0,191.3 1032.5,191.0 1033.0,191.0 1033.5,191.1 1034.0,191.2 1034.5,191.6 1035.0,192.3 1035.5,192.3 1036.0,191.8 1036.5,191.8 1037.0,191.6 1037.5,191.3 1038.0,191.1 1038.5,191.2 1039.0,191.4 1039.5,191.9 1040.0,191.6 1040.5,192.0 1041.0,192.3 1041.5,192.0 1042.0,191.5 1042.5,191.3 1043.0,191.5 1043.5,191.9 1044.0,192.3 1044.5,192.0 1045.0,191.6 1045.5,191.9 1046.0,192.5 1046.5,192.2 1047.0,191.0 1047.5,191.0 1048.0,191.1 1048.5,191.9 1049.0,192.1 1049.5,192.7 1050.0,192.7 1050.5,192.4 1051.0,192.2 1051.5,192.3 1052.0,192.0 1052.5,192.1 1053.0,192.3 1053.5,192.4 1054.0,192.2 1054.5,192.1 1055.0,191.6 1055.5,191.4 1056.0,190.9 1056.5,191.0 1057.0,191.0 1057.5,191.6 1058.0,192.1 1058.5,192.3 1059.0,192.1 1059.5,192.0 1060.0,191.3 1060.5,191.3 1061.0,191.9 1061.5,192.2 1062.0,192.9 1062.5,192.9 1063.0,192.4 1063.5,191.4 1064.0,191.2 1064.5,191.4 1065.0,191.8 1065.5,192.1 1066.0,191.8 1066.5,191.4 1067.0,191.7 1067.5,191.6 1068.0,191.4 1068.5,192.1 1069.0,191.9 1069.5,192.0 1070.0,192.1 1070.5,191.9 1071.0,191.6 1071.5,191.9 1072.0,191.9 1072.5,192.0 1073.0,192.1 1073.5,192.3 1074.0,192.3 1074.5,191.9 1075.0,191.6 1075.5,191.6 1076.0,191.6 1076.5,192.1 1077.0,191.6 1077.5,191.4 1078.0,191.5 1078.5,191.5 1079.0,191.8 1079.5,191.6 1080.0,191.8 1080.5,191.6 1081.0,191.7 1081.5,192.0 1082.0,192.0 1082.5,192.4 1083.0,192.5 1083.5,192.3 1084.0,191.8 1084.5,191.5 1085.0,192.0 1085.5,191.5 1086.0,191.3 1086.5,191.4 1087.0,191.8 1087.5,192.1 1088.0,192.0 1088.5,192.3 1089.0,192.5 1089.5,192.7 1090.0,192.8 1090.5,192.2 1091.0,192.0 1091.5,191.7 1092.0,191.7 1092.5,192.0 1093.0,191.6 1093.5,191.3 1094.0,191.1 1094.5,191.1 1095.0,191.1 1095.5,191.2 1096.0,191.2 1096.5,191.3 1097.0,191.7 1097.5,191.2 1098.0,191.8 1098.5,191.9 1099.0,192.1 1099.5,192.1 1100.0,191.8 1100.5,191.5 1101.0,191.2 1101.5,191.8 1102.0,191.9 1102.5,191.8 1103.0,191.4 1103.5,191.3 1104.0,191.1 1104.5,191.2 1105.0,191.4 1105.5,191.3 1106.0,191.4 1106.5,192.1 1107.0,192.1 1107.5,192.0 1108.0,191.9 1108.5,191.6 1109.0,191.5 1109.5,191.6 1110.0,191.9 1110.5,192.2 1111.0,192.1 1111.5,192.3 1112.0,191.5 1112.5,191.3 1113.0,191.1 1113.5,191.2 1114.0,192.0 1114.5,191.9 1115.0,191.9 1115.5,191.6 1116.0,191.2 1116.5,190.8 1117.0,190.9 1117.5,191.6 1118.0,191.3 1118.5,191.1 1119.0,191.0 1119.5,190.5 1120.0,190.6 1120.5,190.6 1121.0,190.1 1121.5,189.2 1122.0,188.0 1122.5,186.7 1123.0,184.7 1123.5,181.3 1124.0,174.6 1124.5,154.0 1125.0,80.0 1125.2,53.0 1125.5,100.9 1126.0,159.7 1126.5,175.8 1127.0,182.2 1127.5,185.3 1128.0,187.1 1128.5,188.0 1129.0,189.2 1129.5,189.9 1130.0,190.4 1130.5,190.3 1131.0,190.5 1131.5,190.9 1132.0,191.1 1132.5,191.4 1133.0,191.3 1133.5,190.9 1134.0,191.0 1134.5,190.5 1135.0,191.0 1135.5,191.3 1136.0,191.3 1136.5,191.7 1137.0,192.0 1137.5,192.1 1138.0,192.0 1138.5,192.1 1139.0,192.0 1139.5,191.8 1140.0,192.2 1140.5,192.0 1141.0,192.0 1141.5,192.0 1142.0,191.7 1142.5,191.4 1143.0,191.6 1143.5,191.6 1144.0,192.3 1144.5,192.7 1145.0,192.5 1145.5,192.1 1146.0,191.4 1146.5,191.1 1147.0,191.2 1147.5,191.8 1148.0,191.9 1148.5,192.0 1149.0,192.0 1149.5,191.7 1150.0,191.4 1150.5,191.0 1151.0,191.5 1151.5,191.8 1152.0,192.3 1152.5,192.3 1153.0,191.7 1153.5,192.0 1154.0,191.5 1154.5,191.4 1155.0,191.2 1155.5,191.9 1156.0,192.4 1156.5,192.6 1157.0,192.6 1157.5,192.5 1158.0,192.1 1158.5,192.0 1159.0,192.4 1159.5,192.3 1160.0,192.2 1160.5,192.4 1161.0,191.9 1161.5,191.9 1162.0,192.2 1162.5,192.2 1163.0,192.1 1163.5,191.8 1164.0,191.3 1164.5,191.3 1165.0,191.4 1165.5,191.3 1166.0,191.1 1166.5,191.1 1167.0,191.2 1167.5,191.5 1168.0,191.7 1168.5,192.1 1169.0,192.7 1169.5,192.3 1170.0,192.5 1170.5,192.5 1171.0,191.4 1171.5,191.8 1172.0,191.3 1172.5,191.9 1173.0,192.3 1173.5,192.4 1174.0,191.8 1174.5,191.7 1175.0,191.9 1175.5,192.5 1176.0,192.1 1176.5,191.9 1177.0,191.5 1177.5,191.6 1178.0,191.3 1178.5,191.2 1179.0,190.6 1179.5,191.4 1180.0,191.4 1180.5,192.7 1181.0,192.4 1181.5,192.3 1182.0,192.0 1182.5,192.2 1183.0,192.3 1183.5,192.3 1184.0,192.0 1184.5,192.1 1185.0,191.9 1185.5,192.4 1186.0,192.5 1186.5,192.7 1187.0,192.7 1187.5,192.7 1188.0,192.2 1188.5,192.4 1189.0,192.7 1189.5,192.4 1190.0,192.6 1190.5,192.9 1191.0,192.6 1191.5,191.9 1192.0,191.4 1192.5,191.5 1193.0,191.8 1193.5,191.8 1194.0,191.8 1194.5,191.2 1195.0,191.8 1195.5,191.9 1196.0,191.9 1196.5,192.0 1197.0,192.0 1197.5,192.0 1198.0,192.1 1198.5,191.5 1199.0,192.1 1199.5,191.8 1200.0,192.2 1200.5,192.1 1201.0,192.1 1201.5,192.1 1202.0,192.0 1202.5,192.2 1203.0,192.0 1203.5,191.8 1204.0,191.7 1204.5,192.4 1205.0,192.7 1205.5,192.5 1206.0,192.2 1206.5,192.0 1207.0,191.4 1207.5,191.3 1208.0,191.5 1208.5,192.0 1209.0,192.9 1209.5,192.7 1210.0,192.6 1210.5,191.6 1211.0,190.9 1211.5,191.0 1212.0,191.5 1212.5,191.8 1213.0,192.1 1213.5,192.4 1214.0,192.2 1214.5,192.6 1215.0,192.3 1215.5,192.0 1216.0,192.1 1216.5,191.8 1217.0,191.9 1217.5,192.0 1218.0,192.0 1218.5,192.1 1219.0,192.0 1219.5,191.7 1220.0,191.5 1220.5,191.7 1221.0,191.2 1221.5,191.5 1222.0,191.9 1222.5,192.1 1223.0,192.3 1223.5,191.9 1224.0,192.1 1224.5,192.1 1225.0,192.3 1225.5,192.7 1226.0,192.5 1226.5,191.6 1227.0,191.5 1227.5,191.8 1228.0,192.2 1228.5,192.3 1229.0,192.9 1229.5,192.5 1230.0,192.3 1230.5,192.3 1231.0,192.9 1231.5,192.8 1232.0,192.4 1232.5,192.7 1233.0,193.1 1233.5,192.7 1234.0,192.7 1234.5,192.8 1235.0,192.2 1235.5,191.9 1236.0,191.6 1236.5,191.6 1237.0,192.0 1237.5,191.7 1238.0,191.6 1238.5,191.6 1239.0,192.0 1239.5,191.9 1240.0,191.9 1240.5,192.1 1241.0,192.3 1241.5,192.6 1242.0,192.4 1242.5,192.9 1243.0,192.5 1243.5,192.3 1244.0,191.7 1244.5,192.3 1245.0,192.3 1245.5,192.4 1246.0,192.9 1246.5,192.6 1247.0,192.7 1247.5,192.4 1248.0,192.6 1248.5,192.3 1249.0,192.3 1249.5,192.4 1250.0,192.2 1250.5,192.0 1251.0,191.9 1251.5,191.6 1252.0,191.8 1252.5,191.7 1253.0,191.3 1253.5,191.3 1254.0,191.5 1254.5,191.4 1255.0,191.5 1255.5,191.6 1256.0,191.9 1256.5,191.8 1257.0,191.7 1257.5,191.8 1258.0,191.5 1258.5,191.6 1259.0,191.5 1259.5,191.7 1260.0,191.7 1260.5,191.3 1261.0,191.4 1261.5,191.0 1262.0,190.7 1262.5,190.5 1263.0,190.1 1263.5,189.8 1264.0,189.2 1264.5,188.1 1265.0,186.3 1265.5,184.2 1266.0,183.0 1266.5,183.1 1267.0,185.2 1267.5,186.9 1268.0,188.5 1268.5,188.9 1269.0,189.8 1269.5,190.3 1270.0,190.9 1270.5,191.1 1271.0,190.7 1271.5,190.4 1272.0,190.3 1272.5,190.5 1273.0,190.5 1273.5,191.1 1274.0,191.1 1274.5,191.7 1275.0,191.8 1275.5,191.8 1276.0,191.7 1276.5,192.4 1277.0,192.2 1277.5,192.2 1278.0,191.5 1278.5,191.3 1279.0,191.6 1279.5,192.0 1280.0,191.8 1280.5,192.2 1281.0,192.0 1281.5,191.9 1282.0,191.8 1282.5,191.7 1283.0,192.2 1283.5,192.8 1284.0,193.2 1284.5,192.8 1285.0,192.4 1285.5,191.7 1286.0,191.5 1286.5,191.0 1287.0,191.2 1287.5,191.4 1288.0,191.6 1288.5,192.1 1289.0,192.2 1289.5,192.6 1290.0,192.6 1290.5,191.9 1291.0,192.2 1291.5,192.2 1292.0,192.1 1292.5,191.5 1293.0,191.0 1293.5,191.9 1294.0,192.5 1294.5,192.6 1295.0,192.8 1295.5,192.5 1296.0,192.7 1296.5,192.5 1297.0,192.1 1297.5,192.3 1298.0,192.1 1298.5,191.7 1299.0,191.6 1299.5,192.1 1300.0,192.7 1300.5,192.7 1301.0,193.2 1301.5,193.1 1302.0,193.3 1302.5,193.3 1303.0,193.1 1303.5,193.0 1304.0,192.8 1304.5,192.5 1305.0,192.7 1305.5,193.2 1306.0,192.7 1306.5,192.4 1307.0,192.0 1307.5,192.0 1308.0,192.2 1308.5,191.9 1309.0,191.4 1309.5,191.5 1310.0,191.2 1310.5,191.4 1311.0,191.9 1311.5,191.6 1312.0,192.2 1312.5,191.8 1313.0,192.2 1313.5,192.6 1314.0,193.0 1314.5,192.9 1315.0,192.7 1315.5,192.5 1316.0,192.6 1316.5,192.7 1317.0,192.4 1317.5,192.5 1318.0,192.2 1318.5,192.3 1319.0,192.6 1319.5,192.7 1320.0,192.6 1320.5,192.2 1321.0,192.9 1321.5,192.4 1322.0,192.7 1322.5,192.7 1323.0,192.1 1323.5,191.8 1324.0,191.5 1324.5,191.4 1325.0,191.4 1325.5,191.6 1326.0,191.9 1326.5,192.2 1327.0,192.9 1327.5,193.1 1328.0,192.8 1328.5,192.3 1329.0,191.7 1329.5,191.3 1330.0,191.8 1330.5,192.3 1331.0,192.8 1331.5,193.1 1332.0,193.1 1332.5,193.3 1333.0,193.3 1333.5,193.4 1334.0,193.4 1334.5,193.3 1335.0,192.5 1335.5,192.2 1336.0,192.1 1336.5,191.8 1337.0,192.3 1337.5,192.3 1338.0,192.4 1338.5,192.3 1339.0,192.2 1339.5,192.4 1340.0,191.9 1340.5,192.0 1341.0,191.7 1341.5,192.2 1342.0,191.9 1342.5,191.8 1343.0,191.4 1343.5,191.1 1344.0,191.3 1344.5,191.9 1345.0,191.8 1345.5,191.6 1346.0,191.2 1346.5,191.3 1347.0,191.5 1347.5,191.8 1348.0,192.1 1348.5,192.8 1349.0,193.1 1349.5,192.4 1350.0,192.2 1350.5,192.1 1351.0,191.8 1351.5,191.9 1352.0,192.1 1352.5,192.0 1353.0,192.7 1353.5,192.8 1354.0,193.0 1354.5,193.2 1355.0,192.9 1355.5,192.9 1356.0,192.2 1356.5,192.2 1357.0,192.1 1357.5,192.3 1358.0,192.4 1358.5,192.7 1359.0,193.0 1359.5,193.0 1360.0,193.1 1360.5,192.9 1361.0,192.8 1361.5,192.6 1362.0,192.8 1362.5,192.3 1363.0,192.8 1363.5,192.5 1364.0,192.6 1364.5,192.5 1365.0,192.1 1365.5,191.9 1366.0,191.6 1366.5,191.5 1367.0,191.5 1367.5,191.8 1368.0,192.7 1368.5,192.5 1369.0,192.6 1369.5,192.6 1370.0,192.5 1370.5,192.7 1371.0,191.8 1371.5,191.7 1372.0,192.1 1372.5,192.0 1373.0,191.8 1373.5,191.4 1374.0,191.1 1374.5,191.5 1375.0,191.9 1375.5,192.3 1376.0,191.7 1376.5,191.3 1377.0,191.1 1377.5,191.0 1378.0,191.6 1378.5,192.0 1379.0,192.2 1379.5,191.6 1380.0,191.7 1380.5,192.1 1381.0,192.0 1381.5,192.5 1382.0,192.7 1382.5,192.7 1383.0,192.7 1383.5,192.3 1384.0,192.0 1384.5,192.2 1385.0,192.5 1385.5,192.2 1386.0,192.6 1386.5,192.1 1387.0,191.7 1387.5,191.2 1388.0,191.3 1388.5,192.4 1389.0,192.5 1389.5,192.1 1390.0,191.6 1390.5,191.5 1391.0,191.6 1391.5,191.2 1392.0,191.8 1392.5,192.3 1393.0,192.7 1393.5,193.1 1394.0,192.6 1394.5,193.0 1395.0,192.2 1395.5,192.2 1396.0,192.2 1396.5,192.6 1397.0,193.0 1397.5,192.5 1398.0,192.2 1398.5,192.5 1399.0,193.2 1399.5,193.0 1400.0,193.0 1400.5,192.3 1401.0,192.0 1401.5,192.0 1402.0,192.0 1402.5,192.3 1403.0,192.4 1403.5,192.2 1404.0,192.1 1404.5,192.3 1405.0,192.2 1405.5,191.9 1406.0,192.2 1406.5,192.5 1407.0,192.5 1407.5,192.0 1408.0,191.9 1408.5,192.0 1409.0,191.3 1409.5,191.8 1410.0,192.2 1410.5,191.8 1411.0,192.7 1411.5,192.4 1412.0,192.6 1412.5,192.3 1413.0,192.0 1413.5,192.0 1414.0,192.0 1414.5,192.1 1415.0,192.0 1415.5,192.0 1416.0,192.5 1416.5,192.7 1417.0,193.2 1417.5,193.0 1418.0,193.3 1418.5,193.1 1419.0,193.3 1419.5,192.6 1420.0,192.2 1420.5,192.3 1421.0,192.6 1421.5,192.4 1422.0,192.4 1422.5,192.5 1423.0,192.2 1423.5,193.1 1424.0,193.0 1424.5,193.5 1425.0,192.9 1425.5,192.7 1426.0,192.5 1426.5,192.2 1427.0,191.9 1427.5,192.2 1428.0,192.1 1428.5,192.0 1429.0,192.2 1429.5,192.5 1430.0,193.2 1430.5,192.8 1431.0,192.7 1431.5,192.0 1432.0,192.1 1432.5,191.9 1433.0,192.2 1433.5,192.4 1434.0,192.3 1434.5,192.6 1435.0,192.5 1435.5,191.8 1436.0,192.0 1436.5,192.4 1437.0,191.9 1437.5,192.0 1438.0,191.9 1438.5,192.3 1439.0,192.1 1439.5,192.1 1440.0,192.0 1440.5,192.1 1441.0,192.7 1441.5,192.4 1442.0,192.2 1442.5,192.3 1443.0,192.4 1443.5,192.7 1444.0,192.5 1444.5,192.2 1445.0,192.1 1445.5,191.9 1446.0,192.5 1446.5,192.0 1447.0,192.1 1447.5,191.4 1448.0,191.7 1448.5,192.2 1449.0,193.2 1449.5,193.4 1450.0,193.7 1450.5,193.8 1451.0,193.2 1451.5,192.7 1452.0,192.4 1452.5,192.5 1453.0,192.4 1453.5,192.5 1454.0,192.4 1454.5,192.4 1455.0,192.4 1455.5,191.9 1456.0,192.0 1456.5,192.2 1457.0,192.1 1457.5,192.1 1458.0,191.4 1458.5,191.4 1459.0,191.5 1459.5,191.5 1460.0,191.9 1460.5,192.1 1461.0,192.3 1461.5,192.4 1462.0,192.4 1462.5,192.4 1463.0,191.8 1463.5,191.5 1464.0,191.8 1464.5,191.8 1465.0,191.8 1465.5,191.9 1466.0,192.0 1466.5,191.6 1467.0,191.5 1467.5,190.9 1468.0,190.9 1468.5,190.8 1469.0,191.1 1469.5,191.4 1470.0,191.6 1470.5,191.4 1471.0,191.2 1471.5,190.8 1472.0,190.2 1472.5,189.2 1473.0,187.6 1473.5,186.0 1474.0,183.4 1474.5,182.5 1475.0,182.5 1475.5,181.4 1476.0,180.0 1476.5,178.0 1477.0,177.7 1477.5,179.8 1478.0,183.4 1478.5,185.7 1479.0,187.3 1479.5,188.5 1480.0,189.3 1480.5,189.8 1481.0,190.5 1481.5,190.4 1482.0,190.6 1482.5,190.7 1483.0,190.9 1483.5,190.5 1484.0,191.0 1484.5,191.4 1485.0,191.4 1485.5,192.4 1486.0,191.7 1486.5,191.6 1487.0,191.3 1487.5,190.7 1488.0,190.6 1488.5,191.0 1489.0,191.3 1489.5,191.5 1490.0,191.4 1490.5,191.5 1491.0,191.9 1491.5,192.2 1492.0,192.2 1492.5,192.4 1493.0,192.2 1493.5,192.1 1494.0,192.5 1494.5,192.1 1495.0,192.3 1495.5,191.9 1496.0,191.8 1496.5,191.8 1497.0,191.6 1497.5,191.8 1498.0,191.5 1498.5,192.3 1499.0,191.9 1499.5,191.8 1500.0,192.3 1500.5,193.4 1501.0,193.4 1501.5,192.7 1502.0,192.6 1502.5,192.7 1503.0,192.5 1503.5,192.2 1504.0,192.2 1504.5,192.3 1505.0,192.1 1505.5,191.7 1506.0,192.0 1506.5,191.8 1507.0,192.3 1507.5,192.8 1508.0,192.7 1508.5,192.5 1509.0,192.2 1509.5,192.2 1510.0,192.6 1510.5,192.7 1511.0,193.2 1511.5,192.4 1512.0,192.5 1512.5,193.2 1513.0,193.2 1513.5,192.7 1514.0,192.5 1514.5,192.2 1515.0,192.3 1515.5,191.8 1516.0,191.8 1516.5,191.6 1517.0,191.5 1517.5,191.3 1518.0,191.5 1518.5,192.0 1519.0,192.0 1519.5,192.2 1520.0,192.4 1520.5,192.4 1521.0,192.7 1521.5,192.1 1522.0,191.8 1522.5,191.7 1523.0,191.4 1523.5,191.5 1524.0,191.9 1524.5,192.3 1525.0,192.5 1525.5,192.4 1526.0,192.7 1526.5,192.3 1527.0,192.7 1527.5,192.4 1528.0,191.7 1528.5,192.0 1529.0,192.2 1529.5,192.3 1530.0,192.5 1530.5,192.2 1531.0,192.3 1531.5,192.5 1532.0,192.2 1532.5,191.8 1533.0,190.9 1533.5,191.6 1534.0,191.6 1534.5,192.1 1535.0,192.0 1535.5,191.7 1536.0,192.0 1536.5,192.4 1537.0,192.4 1537.5,192.6 1538.0,192.5 1538.5,191.9 1539.0,191.8 1539.5,192.7 1540.0,192.8 1540.5,193.1 1541.0,192.7 1541.5,192.3 1542.0,191.9 1542.5,191.5 1543.0,191.3 1543.5,191.3 1544.0,191.7 1544.5,191.8 1545.0,192.5 1545.5,192.2 1546.0,192.0 1546.5,191.8 1547.0,191.7 1547.5,192.2 1548.0,192.2 1548.5,192.0 1549.0,192.3 1549.5,191.8 1550.0,191.6 1550.5,191.5 1551.0,191.3 1551.5,191.6 1552.0,191.7 1552.5,191.6 1553.0,191.8 1553.5,191.8 1554.0,192.2 1554.5,192.2 1555.0,192.7 1555.5,192.9 1556.0,192.1 1556.5,191.6 1557.0,191.4 1557.5,191.8 1558.0,192.4 1558.5,192.8 1559.0,192.4 1559.5,191.9 1560.0,191.7 1560.5,191.5 1561.0,191.8 1561.5,191.9 1562.0,192.5 1562.5,192.7 1563.0,192.1 1563.5,191.9 1564.0,191.6 1564.5,192.3 1565.0,191.9 1565.5,192.5 1566.0,192.4 1566.5,191.8 1567.0,191.7 1567.5,191.7 1568.0,191.7 1568.5,191.1 1569.0,191.3 1569.5,191.6 1570.0,191.9 1570.5,192.2 1571.0,192.6 1571.5,192.8 1572.0,192.9 1572.5,192.6 1573.0,192.3 1573.5,191.8 1574.0,191.9 1574.5,191.6 1575.0,191.5 1575.5,190.6 1576.0,190.5 1576.5,190.6 1577.0,190.7 1577.5,190.8 1578.0,190.8 1578.5,191.0 1579.0,191.4 1579.5,191.3 1580.0,191.1 1580.5,191.1 1581.0,191.1 1581.5,190.7 1582.0,190.4 1582.5,190.3 1583.0,190.2 1583.5,189.5 1584.0,188.0 1584.5,185.9 1585.0,180.3 1585.4,174.4 1585.5,175.3 1586.0,181.9 1586.5,183.6 1587.0,183.5 1587.5,182.9 1588.0,183.6 1588.5,184.5 1589.0,185.6 1589.5,186.7 1590.0,186.4 1590.5,185.9 1591.0,185.0 1591.5,184.6 1592.0,185.1 1592.5,185.6 1593.0,186.8 1593.5,188.1 1594.0,188.9 1594.5,189.3 1595.0,189.3 1595.5,189.5 1596.0,189.5 1596.5,190.1 1597.0,190.8 1597.5,191.4 1598.0,191.6 1598.5,191.4 1599.0,190.8 1599.5,190.5 1600.0,190.7 1600.5,190.8 1601.0,190.7 1601.5,190.5 1602.0,190.1 1602.5,190.4 1603.0,190.1 1603.5,190.8 1604.0,190.5 1604.5,190.8 1605.0,190.8 1605.5,190.6 1606.0,190.5 1606.5,190.8 1607.0,191.0 1607.5,190.7 1608.0,190.6 1608.5,190.7 1609.0,191.1 1609.5,191.1 1610.0,190.6 1610.5,190.2 1611.0,189.9 1611.5,189.9 1612.0,190.1 1612.5,190.6 1613.0,190.8 1613.5,190.5 1614.0,190.3 1614.5,190.3 1615.0,190.6 1615.5,190.5 1616.0,190.5 1616.5,190.3 1617.0,190.1 1617.5,190.1 1618.0,189.8 1618.5,189.5 1619.0,189.6 1619.5,190.0 1620.0,190.5 1620.5,190.6 1621.0,190.3 1621.5,189.4 1622.0,188.9 1622.5,189.1 1623.0,189.5 1623.5,189.6 1624.0,189.7 1624.5,189.5 1625.0,189.6 1625.5,189.9 1626.0,189.7 1626.5,188.8 1627.0,187.9 1627.5,187.2 1628.0,186.8 1628.5,186.6 1629.0,186.7 1629.5,186.1 1630.0,185.4 1630.5,184.0 1631.0,182.4 1631.5,180.3 1632.0,177.9 1632.5,175.5 1633.0,171.6 1633.5,163.6 1634.0,153.7 1634.5,166.5 1635.0,176.8 1635.5,181.1 1636.0,183.8 1636.5,185.5 1637.0,186.2 1637.5,186.2 1638.0,186.6 1638.5,186.8 1639.0,187.1 1639.5,187.7 1640.0,187.7 1640.5,188.4 1641.0,188.5 1641.5,188.6 1642.0,189.2 1642.5,189.0 1643.0,189.0 1643.5,189.1 1644.0,189.3 1644.5,189.8 1645.0,189.3 1645.5,189.2 1646.0,188.9 1646.5,188.5 1647.0,188.1 1647.5,187.9 1648.0,188.2 1648.5,188.5 1649.0,188.0 1649.5,187.8 1650.0,187.5 1650.5,187.3 1651.0,186.9 1651.5,186.5 1652.0,186.5 1652.5,186.4 1653.0,186.1 1653.5,186.4 1654.0,186.5 1654.5,186.7 1655.0,186.4 1655.5,186.5 1656.0,186.3 1656.5,186.2 1657.0,186.4 1657.5,186.6 1658.0,186.5 1658.5,186.1 1659.0,186.2 1659.5,186.4 1660.0,186.2 1660.5,186.5 1661.0,185.8 1661.5,185.5 1662.0,185.5 1662.5,185.1 1663.0,184.9 1663.5,185.3 1664.0,185.1 1664.5,184.9 1665.0,184.5 1665.5,184.3 1666.0,184.2 1666.5,183.8 1667.0,183.6 1667.5,183.6 1668.0,183.9 1668.5,184.1 1669.0,184.1 1669.5,183.8 1670.0,183.9 1670.5,183.5 1671.0,183.6 1671.5,183.5 1672.0,183.9 1672.5,183.6 1673.0,183.3 1673.5,182.8 1674.0,182.6 1674.5,182.2 1675.0,182.4 1675.5,182.0 1676.0,182.4 1676.5,181.8 1677.0,181.8 1677.5,181.6 1678.0,181.4 1678.5,181.8 1679.0,181.7 1679.5,181.6 1680.0,180.6 1680.5,180.2 1681.0,180.0 1681.5,180.1 1682.0,180.4 1682.5,180.7 1683.0,180.3 1683.5,180.1 1684.0,179.8 1684.5,179.9 1685.0,179.6 1685.5,179.2 1686.5,179.0 1687.4,178.0 1688.0,165.0 1688.5,152.5 1689.2,158.0 1690.0,165.0 1690.8,168.0 1691.8,166.0 1693.0,163.8 1694.0,158.0 1694.8,150.0 1695.5,100.0 1696.2,0.0" fill="none" stroke="#ff3a1c" stroke-width="2.0" stroke-linejoin="round" />
<polyline points="888.5,357.5 889.0,356.9 889.5,357.0 890.0,357.4 890.5,356.7 891.0,356.7 891.5,356.8 892.0,355.9 892.5,356.6 893.0,356.1 893.5,356.3 894.0,357.0 894.5,358.0 895.0,357.2 895.5,357.2 896.0,356.1 896.5,355.9 897.0,356.3 897.5,356.9 898.0,357.3 898.5,357.1 899.0,357.6 899.5,356.3 900.0,355.9 900.5,356.0 901.0,356.2 901.5,355.4 902.0,355.8 902.5,354.8 903.0,355.5 903.5,357.0 904.0,357.8 904.5,357.8 905.0,356.5 905.5,356.4 906.0,356.7 906.5,356.4 907.0,356.5 907.5,356.6 908.0,357.0 908.5,357.8 909.0,358.5 909.5,358.2 910.0,357.6 910.5,357.4 911.0,357.4 911.5,357.1 912.0,357.7 912.5,357.5 913.0,358.2 913.5,357.0 914.0,356.7 914.5,356.5 915.0,355.9 915.5,356.1 916.0,355.5 916.5,356.4 917.0,356.9 917.5,356.1 918.0,354.8 918.5,353.5 919.0,351.7 919.5,351.0 920.0,349.5 920.5,347.8 921.0,345.2 921.5,340.9 922.0,337.3 922.5,337.8 923.0,340.8 923.5,345.5 924.0,348.9 924.5,350.5 925.0,352.4 925.5,354.2 926.0,354.9 926.5,355.7 927.0,356.5 927.5,356.3 928.0,356.9 928.5,357.0 929.0,357.2 929.5,357.3 930.0,357.3 930.5,356.2 931.0,356.1 931.5,355.4 932.0,355.8 932.5,355.9 933.0,356.7 933.5,356.4 934.0,357.0 934.5,357.1 935.0,356.7 935.5,356.5 936.0,356.7 936.5,356.6 937.0,356.7 937.5,356.5 938.0,356.9 938.5,356.7 939.0,356.5 939.5,356.5 940.0,356.6 940.5,356.5 941.0,355.8 941.5,355.1 942.0,356.0 942.5,357.0 943.0,357.2 943.5,358.0 944.0,357.6 944.5,356.9 945.0,356.2 945.5,356.7 946.0,357.1 946.5,357.6 947.0,357.2 947.5,356.9 948.0,356.7 948.5,356.7 949.0,357.1 949.5,357.3 950.0,357.9 950.5,358.3 951.0,358.1 951.5,358.0 952.0,357.4 952.5,357.5 953.0,357.1 953.5,357.2 954.0,357.9 954.5,357.7 955.0,356.6 955.5,356.5 956.0,355.7 956.5,356.5 957.0,357.1 957.5,356.8 958.0,356.6 958.5,355.3 959.0,354.5 959.5,354.7 960.0,356.5 960.5,356.9 961.0,356.5 961.5,356.2 962.0,356.0 962.5,354.7 963.0,354.7 963.5,354.5 964.0,355.8 964.5,356.9 965.0,356.4 965.5,356.0 966.0,355.7 966.5,356.2 967.0,355.9 967.5,356.2 968.0,356.0 968.5,356.0 969.0,355.1 969.5,355.5 970.0,355.1 970.5,355.3 971.0,355.3 971.5,355.1 972.0,353.3 972.5,347.7 973.0,329.9 973.5,347.0 974.0,351.5 974.5,352.6 975.0,352.7 975.5,352.8 976.0,349.5 976.5,345.0 976.6,344.2 977.0,347.2 977.5,350.7 978.0,351.6 978.5,350.8 979.0,348.4 979.5,342.4 979.8,339.5 980.0,340.4 980.5,345.8 981.0,348.1 981.5,349.3 982.0,350.3 982.5,350.4 983.0,351.2 983.5,350.8 984.0,350.6 984.5,348.0 985.0,343.5 985.5,337.6 986.0,341.4 986.5,342.2 987.0,331.3 987.5,302.2 988.0,330.2 988.5,341.7 989.0,344.3 989.5,343.7 990.0,341.1 990.5,332.7 991.0,305.4 991.1,302.6 991.5,320.9 992.0,332.5 992.5,333.4 993.0,331.9 993.5,331.3 994.0,330.6 994.5,329.9 995.0,323.9 995.5,301.3 995.6,299.2 996.0,317.4 996.5,327.0 997.0,325.2 997.5,314.7 998.0,290.0 998.5,316.9 999.0,329.7 999.5,335.3 1000.0,335.7 1000.5,326.8 1000.8,321.2 1001.0,325.1 1001.5,339.1 1002.0,344.9 1002.5,347.9 1003.0,348.8 1003.5,349.2 1004.0,349.2 1004.5,349.2 1005.0,349.2 1005.5,349.1 1006.0,348.2 1006.5,345.5 1007.0,342.3 1007.2,342.6 1007.5,342.3 1008.0,343.5 1008.5,341.3 1009.0,334.9 1009.5,322.1 1009.6,320.5 1010.0,325.0 1010.5,330.1 1011.0,330.8 1011.5,327.7 1012.0,321.0 1012.5,335.0 1013.0,344.5 1013.5,347.7 1014.0,349.0 1014.5,350.0 1015.0,350.6 1015.5,351.8 1016.0,353.0 1016.5,352.9 1017.0,353.8 1017.5,354.1 1018.0,354.8 1018.5,355.0 1019.0,355.0 1019.5,355.2 1020.0,355.6 1020.5,356.0 1021.0,355.6 1021.5,354.8 1022.0,354.3 1022.5,355.2 1023.0,354.7 1023.5,355.7 1024.0,355.2 1024.5,355.5 1025.0,356.3 1025.5,356.5 1026.0,357.2 1026.5,357.3 1027.0,356.5 1027.5,356.0 1028.0,356.3 1028.5,356.8 1029.0,356.9 1029.5,356.5 1030.0,356.2 1030.5,356.3 1031.0,356.3 1031.5,356.6 1032.0,356.8 1032.5,357.3 1033.0,356.6 1033.5,356.2 1034.0,355.6 1034.5,355.7 1035.0,355.4 1035.5,356.1 1036.0,356.5 1036.5,356.8 1037.0,357.5 1037.5,356.9 1038.0,356.4 1038.5,356.1 1039.0,355.8 1039.5,355.1 1040.0,354.6 1040.5,355.3 1041.0,355.7 1041.5,356.1 1042.0,355.2 1042.5,355.1 1043.0,355.9 1043.5,356.2 1044.0,356.2 1044.5,355.7 1045.0,355.1 1045.5,354.5 1046.0,355.3 1046.5,355.2 1047.0,355.4 1047.5,354.9 1048.0,355.1 1048.5,354.8 1049.0,354.5 1049.5,353.5 1050.0,353.8 1050.5,353.7 1051.0,354.0 1051.5,353.9 1052.0,353.7 1052.5,353.0 1053.0,352.5 1053.5,352.2 1054.0,351.7 1054.5,350.9 1055.0,351.5 1055.5,350.3 1056.0,350.8 1056.5,349.8 1057.0,349.1 1057.5,347.7 1058.0,348.1 1058.5,347.8 1059.0,347.9 1059.5,347.4 1060.0,347.4 1060.5,347.6 1061.0,347.2 1061.5,346.9 1062.0,347.2 1062.5,348.6 1063.0,349.8 1063.5,351.5 1064.0,352.0 1064.5,351.2 1065.0,351.5 1065.5,351.9 1066.0,352.1 1066.5,351.9 1067.0,352.1 1067.5,352.5 1068.0,352.0 1068.5,352.5 1069.0,353.0 1069.5,353.2 1070.0,353.2 1070.5,354.3 1071.0,355.0 1071.5,355.4 1072.0,355.1 1072.5,354.9 1073.0,355.6 1073.5,355.7 1074.0,356.8 1074.5,357.1 1075.0,355.9 1075.5,356.1 1076.0,356.0 1076.5,355.8 1077.0,356.4 1077.5,356.9 1078.0,357.5 1078.5,358.1 1079.0,357.6 1079.5,357.0 1080.0,356.5 1080.5,356.2 1081.0,356.6 1081.5,356.7 1082.0,357.0 1082.5,357.7 1083.0,358.1 1083.5,357.8 1084.0,356.9 1084.5,356.2 1085.0,355.9 1085.5,355.8 1086.0,356.0 1086.5,356.5 1087.0,356.7 1087.5,357.3 1088.0,357.6 1088.5,356.7 1089.0,356.2 1089.5,356.5 1090.0,357.1 1090.5,357.0 1091.0,356.5 1091.5,356.6 1092.0,356.5 1092.5,356.1 1093.0,356.4 1093.5,356.3 1094.0,357.1 1094.5,356.5 1095.0,355.9 1095.5,355.2 1096.0,355.0 1096.5,355.5 1097.0,355.9 1097.5,356.7 1098.0,356.8 1098.5,356.9 1099.0,356.4 1099.5,356.4 1100.0,356.4 1100.5,356.1 1101.0,356.6 1101.5,356.1 1102.0,356.0 1102.5,357.0 1103.0,358.0 1103.5,358.8 1104.0,358.8 1104.5,358.2 1105.0,357.8 1105.5,357.0 1106.0,357.2 1106.5,356.7 1107.0,357.0 1107.5,357.2 1108.0,357.1 1108.5,358.1 1109.0,358.0 1109.5,358.4 1110.0,357.9 1110.5,357.8 1111.0,357.3 1111.5,356.4 1112.0,356.2 1112.5,356.5 1113.0,356.6 1113.5,356.6 1114.0,357.0 1114.5,358.0 1115.0,358.4 1115.5,357.7 1116.0,356.7 1116.5,356.3 1117.0,356.4 1117.5,355.6 1118.0,356.2 1118.5,356.6 1119.0,357.1 1119.5,356.2 1120.0,356.3 1120.5,355.8 1121.0,355.7 1121.5,355.4 1122.0,355.3 1122.5,354.2 1123.0,352.7 1123.5,351.1 1124.0,347.8 1124.5,342.4 1125.0,327.6 1125.5,275.1 1125.8,232.6 1126.0,256.6 1126.5,321.8 1127.0,339.9 1127.5,347.2 1128.0,350.6 1128.5,352.6 1129.0,353.7 1129.5,354.6 1130.0,355.8 1130.5,356.2 1131.0,356.8 1131.5,357.0 1132.0,357.2 1132.5,356.2 1133.0,356.4 1133.5,356.5 1134.0,356.8 1134.5,357.2 1135.0,356.6 1135.5,356.2 1136.0,356.8 1136.5,356.7 1137.0,356.7 1137.5,356.3 1138.0,356.0 1138.5,356.5 1139.0,357.1 1139.5,356.5 1140.0,356.7 1140.5,356.5 1141.0,357.7 1141.5,358.2 1142.0,358.2 1142.5,357.8 1143.0,357.4 1143.5,357.9 1144.0,357.6 1144.5,357.3 1145.0,358.0 1145.5,357.5 1146.0,357.5 1146.5,358.5 1147.0,357.3 1147.5,356.9 1148.0,356.6 1148.5,357.2 1149.0,357.3 1149.5,358.0 1150.0,357.9 1150.5,358.3 1151.0,357.8 1151.5,357.2 1152.0,357.7 1152.5,357.6 1153.0,357.7 1153.5,357.5 1154.0,358.0 1154.5,357.5 1155.0,357.2 1155.5,357.3 1156.0,356.5 1156.5,356.8 1157.0,356.5 1157.5,357.1 1158.0,356.9 1158.5,356.9 1159.0,357.1 1159.5,356.6 1160.0,356.4 1160.5,356.5 1161.0,356.9 1161.5,357.1 1162.0,357.0 1162.5,357.6 1163.0,356.9 1163.5,356.9 1164.0,356.8 1164.5,356.7 1165.0,356.5 1165.5,357.4 1166.0,358.7 1166.5,359.1 1167.0,358.4 1167.5,358.1 1168.0,356.9 1168.5,357.6 1169.0,357.8 1169.5,357.4 1170.0,357.9 1170.5,358.2 1171.0,358.3 1171.5,357.9 1172.0,357.9 1172.5,357.8 1173.0,357.9 1173.5,358.6 1174.0,358.7 1174.5,358.7 1175.0,357.9 1175.5,358.4 1176.0,358.1 1176.5,358.7 1177.0,358.9 1177.5,358.2 1178.0,357.3 1178.5,357.2 1179.0,355.9 1179.5,355.9 1180.0,357.2 1180.5,356.9 1181.0,356.8 1181.5,356.3 1182.0,356.2 1182.5,356.0 1183.0,356.3 1183.5,356.6 1184.0,357.4 1184.5,357.5 1185.0,357.3 1185.5,357.0 1186.0,356.5 1186.5,356.4 1187.0,357.7 1187.5,357.8 1188.0,357.6 1188.5,357.2 1189.0,356.9 1189.5,356.4 1190.0,356.4 1190.5,356.7 1191.0,356.8 1191.5,357.2 1192.0,356.9 1192.5,356.8 1193.0,356.1 1193.5,356.5 1194.0,356.2 1194.5,356.6 1195.0,356.5 1195.5,357.8 1196.0,358.9 1196.5,358.7 1197.0,358.5 1197.5,357.6 1198.0,357.4 1198.5,357.1 1199.0,357.6 1199.5,358.3 1200.0,358.3 1200.5,357.9 1201.0,357.5 1201.5,358.8 1202.0,357.8 1202.5,357.6 1203.0,356.6 1203.5,356.8 1204.0,357.3 1204.5,357.9 1205.0,358.1 1205.5,357.7 1206.0,357.6 1206.5,357.2 1207.0,355.9 1207.5,355.6 1208.0,355.2 1208.5,356.2 1209.0,356.9 1209.5,358.2 1210.0,358.3 1210.5,358.2 1211.0,357.1 1211.5,356.4 1212.0,355.8 1212.5,356.0 1213.0,356.1 1213.5,357.2 1214.0,356.7 1214.5,356.3 1215.0,356.9 1215.5,356.7 1216.0,357.1 1216.5,357.1 1217.0,357.8 1217.5,358.4 1218.0,358.0 1218.5,357.3 1219.0,357.7 1219.5,358.0 1220.0,357.3 1220.5,357.8 1221.0,357.7 1221.5,357.1 1222.0,356.7 1222.5,356.8 1223.0,358.0 1223.5,359.1 1224.0,358.8 1224.5,358.5 1225.0,358.4 1225.5,358.5 1226.0,359.0 1226.5,359.1 1227.0,358.9 1227.5,358.2 1228.0,358.2 1228.5,357.7 1229.0,357.7 1229.5,357.8 1230.0,358.8 1230.5,359.0 1231.0,359.3 1231.5,359.5 1232.0,359.2 1232.5,359.4 1233.0,358.5 1233.5,358.5 1234.0,358.0 1234.5,357.6 1235.0,357.1 1235.5,357.1 1236.0,357.5 1236.5,357.4 1237.0,357.2 1237.5,357.2 1238.0,356.9 1238.5,356.6 1239.0,357.2 1239.5,358.0 1240.0,358.6 1240.5,358.3 1241.0,358.2 1241.5,357.4 1242.0,357.5 1242.5,357.4 1243.0,358.1 1243.5,358.5 1244.0,358.6 1244.5,358.2 1245.0,358.0 1245.5,357.8 1246.0,358.2 1246.5,357.8 1247.0,356.9 1247.5,357.1 1248.0,356.6 1248.5,357.4 1249.0,356.6 1249.5,356.5 1250.0,356.4 1250.5,357.4 1251.0,358.0 1251.5,358.8 1252.0,358.3 1252.5,357.1 1253.0,357.5 1253.5,357.2 1254.0,357.5 1254.5,358.4 1255.0,357.8 1255.5,358.1 1256.0,357.1 1256.5,358.4 1257.0,357.7 1257.5,357.5 1258.0,357.3 1258.5,356.9 1259.0,357.3 1259.5,357.2 1260.0,357.1 1260.5,357.1 1261.0,357.5 1261.5,357.9 1262.0,357.6 1262.5,356.3 1263.0,355.2 1263.5,354.1 1264.0,353.5 1264.5,352.2 1265.0,349.2 1265.5,345.2 1266.0,342.4 1266.5,341.7 1267.0,345.4 1267.5,349.0 1268.0,351.7 1268.5,353.0 1269.0,353.8 1269.5,355.1 1270.0,356.1 1270.5,356.7 1271.0,356.9 1271.5,357.3 1272.0,357.3 1272.5,357.2 1273.0,357.4 1273.5,357.1 1274.0,357.6 1274.5,357.2 1275.0,357.7 1275.5,356.2 1276.0,356.7 1276.5,356.8 1277.0,357.7 1277.5,357.9 1278.0,357.2 1278.5,357.3 1279.0,357.0 1279.5,357.0 1280.0,357.5 1280.5,357.8 1281.0,358.7 1281.5,358.1 1282.0,357.9 1282.5,357.6 1283.0,357.5 1283.5,357.1 1284.0,357.3 1284.5,357.6 1285.0,357.3 1285.5,357.5 1286.0,358.0 1286.5,358.2 1287.0,358.0 1287.5,358.3 1288.0,358.4 1288.5,358.2 1289.0,358.1 1289.5,357.6 1290.0,357.8 1290.5,357.9 1291.0,357.9 1291.5,357.8 1292.0,357.8 1292.5,357.7 1293.0,358.0 1293.5,358.1 1294.0,358.7 1294.5,358.4 1295.0,358.1 1295.5,357.3 1296.0,357.6 1296.5,357.5 1297.0,358.1 1297.5,358.5 1298.0,358.6 1298.5,358.4 1299.0,357.9 1299.5,357.9 1300.0,357.0 1300.5,357.4 1301.0,357.7 1301.5,357.7 1302.0,357.3 1302.5,356.9 1303.0,356.4 1303.5,356.6 1304.0,356.4 1304.5,357.8 1305.0,357.9 1305.5,358.2 1306.0,358.5 1306.5,359.2 1307.0,359.0 1307.5,358.7 1308.0,357.8 1308.5,357.7 1309.0,357.3 1309.5,358.1 1310.0,357.5 1310.5,358.3 1311.0,357.8 1311.5,357.8 1312.0,358.4 1312.5,358.1 1313.0,358.4 1313.5,358.3 1314.0,358.5 1314.5,357.8 1315.0,357.5 1315.5,357.9 1316.0,358.3 1316.5,357.7 1317.0,357.4 1317.5,356.7 1318.0,356.9 1318.5,357.6 1319.0,358.0 1319.5,358.2 1320.0,358.1 1320.5,358.4 1321.0,358.9 1321.5,358.2 1322.0,357.4 1322.5,356.6 1323.0,356.9 1323.5,357.5 1324.0,358.1 1324.5,357.7 1325.0,358.1 1325.5,357.4 1326.0,357.3 1326.5,357.5 1327.0,357.6 1327.5,358.4 1328.0,358.1 1328.5,358.5 1329.0,359.0 1329.5,358.7 1330.0,359.1 1330.5,359.3 1331.0,359.3 1331.5,358.5 1332.0,358.2 1332.5,358.1 1333.0,357.9 1333.5,357.8 1334.0,358.0 1334.5,357.9 1335.0,358.7 1335.5,358.5 1336.0,358.0 1336.5,358.1 1337.0,358.2 1337.5,357.2 1338.0,358.4 1338.5,357.9 1339.0,358.4 1339.5,357.6 1340.0,357.4 1340.5,357.4 1341.0,357.4 1341.5,358.2 1342.0,357.9 1342.5,357.8 1343.0,357.8 1343.5,358.4 1344.0,358.7 1344.5,359.3 1345.0,359.5 1345.5,359.6 1346.0,359.7 1346.5,359.8 1347.0,359.5 1347.5,359.0 1348.0,358.6 1348.5,358.3 1349.0,357.8 1349.5,357.4 1350.0,357.6 1350.5,357.8 1351.0,358.2 1351.5,358.4 1352.0,358.2 1352.5,358.3 1353.0,357.2 1353.5,357.5 1354.0,358.0 1354.5,358.1 1355.0,359.0 1355.5,359.2 1356.0,359.7 1356.5,359.7 1357.0,359.5 1357.5,359.5 1358.0,359.0 1358.5,357.7 1359.0,357.7 1359.5,357.6 1360.0,358.6 1360.5,358.8 1361.0,358.9 1361.5,358.5 1362.0,358.8 1362.5,359.1 1363.0,358.6 1363.5,358.5 1364.0,358.8 1364.5,358.6 1365.0,358.8 1365.5,358.3 1366.0,358.7 1366.5,358.4 1367.0,358.2 1367.5,358.3 1368.0,358.3 1368.5,358.7 1369.0,358.8 1369.5,359.0 1370.0,359.4 1370.5,359.5 1371.0,359.6 1371.5,359.7 1372.0,359.0 1372.5,358.7 1373.0,358.4 1373.5,359.1 1374.0,359.3 1374.5,359.0 1375.0,358.7 1375.5,358.7 1376.0,358.9 1376.5,358.9 1377.0,358.5 1377.5,358.7 1378.0,357.9 1378.5,356.9 1379.0,356.8 1379.5,357.9 1380.0,358.5 1380.5,359.4 1381.0,358.9 1381.5,358.4 1382.0,358.2 1382.5,357.9 1383.0,357.7 1383.5,356.9 1384.0,357.2 1384.5,357.8 1385.0,359.2 1385.5,359.1 1386.0,359.0 1386.5,358.3 1387.0,358.2 1387.5,358.3 1388.0,358.1 1388.5,358.4 1389.0,358.0 1389.5,358.8 1390.0,359.1 1390.5,358.9 1391.0,357.5 1391.5,357.3 1392.0,357.4 1392.5,358.7 1393.0,358.9 1393.5,359.2 1394.0,359.0 1394.5,359.0 1395.0,358.6 1395.5,358.2 1396.0,358.8 1396.5,358.2 1397.0,358.3 1397.5,358.0 1398.0,357.6 1398.5,357.7 1399.0,358.9 1399.5,359.0 1400.0,359.7 1400.5,360.0 1401.0,360.0 1401.5,359.5 1402.0,359.5 1402.5,359.6 1403.0,359.0 1403.5,358.3 1404.0,356.9 1404.5,356.8 1405.0,357.4 1405.5,358.1 1406.0,358.4 1406.5,358.0 1407.0,358.0 1407.5,357.4 1408.0,358.0 1408.5,358.3 1409.0,357.9 1409.5,357.8 1410.0,356.9 1410.5,357.9 1411.0,357.7 1411.5,358.5 1412.0,358.8 1412.5,358.6 1413.0,358.7 1413.5,359.3 1414.0,360.1 1414.5,360.0 1415.0,359.7 1415.5,359.3 1416.0,358.8 1416.5,359.0 1417.0,359.0 1417.5,359.5 1418.0,360.2 1418.5,360.4 1419.0,359.6 1419.5,358.4 1420.0,357.6 1420.5,357.0 1421.0,357.3 1421.5,357.7 1422.0,358.2 1422.5,358.7 1423.0,358.8 1423.5,358.9 1424.0,358.7 1424.5,359.8 1425.0,359.4 1425.5,359.3 1426.0,358.8 1426.5,358.9 1427.0,358.3 1427.5,358.3 1428.0,358.2 1428.5,358.1 1429.0,358.3 1429.5,358.5 1430.0,358.9 1430.5,358.8 1431.0,359.0 1431.5,357.8 1432.0,357.9 1432.5,357.4 1433.0,357.3 1433.5,356.9 1434.0,357.3 1434.5,357.8 1435.0,357.9 1435.5,358.2 1436.0,358.1 1436.5,358.3 1437.0,358.5 1437.5,358.2 1438.0,358.3 1438.5,359.1 1439.0,358.7 1439.5,358.8 1440.0,358.0 1440.5,357.5 1441.0,358.2 1441.5,357.9 1442.0,357.8 1442.5,358.2 1443.0,358.4 1443.5,358.1 1444.0,357.8 1444.5,356.9 1445.0,357.4 1445.5,358.0 1446.0,358.4 1446.5,358.0 1447.0,357.7 1447.5,357.4 1448.0,358.0 1448.5,356.8 1449.0,356.4 1449.5,356.3 1450.0,356.7 1450.5,357.2 1451.0,357.6 1451.5,357.9 1452.0,358.5 1452.5,358.6 1453.0,358.6 1453.5,359.2 1454.0,358.9 1454.5,359.3 1455.0,359.2 1455.5,358.8 1456.0,359.1 1456.5,358.9 1457.0,358.9 1457.5,358.6 1458.0,359.3 1458.5,359.4 1459.0,358.4 1459.5,357.6 1460.0,357.5 1460.5,357.9 1461.0,357.3 1461.5,357.5 1462.0,357.5 1462.5,358.5 1463.0,358.1 1463.5,358.8 1464.0,359.2 1464.5,357.8 1465.0,356.9 1465.5,356.7 1466.0,357.0 1466.5,357.7 1467.0,357.5 1467.5,356.9 1468.0,357.1 1468.5,357.1 1469.0,356.7 1469.5,357.0 1470.0,356.7 1470.5,357.1 1471.0,357.0 1471.5,357.7 1472.0,356.4 1472.5,356.8 1473.0,356.7 1473.5,355.7 1474.0,353.5 1474.5,352.2 1475.0,350.7 1475.5,348.1 1476.0,344.5 1476.5,339.5 1477.0,334.4 1477.5,334.3 1478.0,338.7 1478.5,345.2 1479.0,348.8 1479.5,352.0 1480.0,353.8 1480.5,356.0 1481.0,356.1 1481.5,357.4 1482.0,357.3 1482.5,356.9 1483.0,357.0 1483.5,356.2 1484.0,356.5 1484.5,356.6 1485.0,356.5 1485.5,357.1 1486.0,356.4 1486.5,355.7 1487.0,355.9 1487.5,356.6 1488.0,357.4 1488.5,358.1 1489.0,357.7 1489.5,357.3 1490.0,356.6 1490.5,356.8 1491.0,357.3 1491.5,358.4 1492.0,358.8 1492.5,358.1 1493.0,357.3 1493.5,356.9 1494.0,357.3 1494.5,357.6 1495.0,357.6 1495.5,358.7 1496.0,358.7 1496.5,358.4 1497.0,358.2 1497.5,358.3 1498.0,358.4 1498.5,359.1 1499.0,359.1 1499.5,358.8 1500.0,358.3 1500.5,358.0 1501.0,357.5 1501.5,357.3 1502.0,356.3 1502.5,356.1 1503.0,355.5 1503.5,354.8 1504.0,355.1 1504.5,355.2 1505.0,354.8 1505.5,354.8 1506.0,354.4 1506.5,354.0 1507.0,353.9 1507.5,353.4 1508.0,353.6 1508.5,352.9 1509.0,352.2 1509.5,350.9 1510.0,350.6 1510.5,349.5 1511.0,348.2 1511.5,346.9 1512.0,346.2 1512.5,346.0 1513.0,344.9 1513.5,344.0 1514.0,341.9 1514.5,339.3 1515.0,334.8 1515.5,330.2 1515.7,330.4 1516.0,333.5 1516.5,340.2 1517.0,345.2 1517.5,347.9 1518.0,349.7 1518.5,350.7 1519.0,352.2 1519.5,353.0 1520.0,354.2 1520.5,355.0 1521.0,355.2 1521.5,355.9 1522.0,356.2 1522.5,355.8 1523.0,355.5 1523.5,355.6 1524.0,356.5 1524.5,357.4 1525.0,358.1 1525.5,357.6 1526.0,357.3 1526.5,357.4 1527.0,357.9 1527.5,358.4 1528.0,357.9 1528.5,357.8 1529.0,357.7 1529.5,358.0 1530.0,357.6 1530.5,357.7 1531.0,357.6 1531.5,357.3 1532.0,357.3 1532.5,356.4 1533.0,356.6 1533.5,356.2 1534.0,355.9 1534.5,356.2 1535.0,356.5 1535.5,357.7 1536.0,358.1 1536.5,358.2 1537.0,357.9 1537.5,357.4 1538.0,356.8 1538.5,357.2 1539.0,357.5 1539.5,357.5 1540.0,358.1 1540.5,358.0 1541.0,358.0 1541.5,358.7 1542.0,359.0 1542.5,358.8 1543.0,359.4 1543.5,359.2 1544.0,359.3 1544.5,358.5 1545.0,358.5 1545.5,358.8 1546.0,358.4 1546.5,357.7 1547.0,358.1 1547.5,357.9 1548.0,357.7 1548.5,357.0 1549.0,357.6 1549.5,357.1 1550.0,357.4 1550.5,358.3 1551.0,358.9 1551.5,358.1 1552.0,357.4 1552.5,357.0 1553.0,357.7 1553.5,357.8 1554.0,357.9 1554.5,357.9 1555.0,357.7 1555.5,357.6 1556.0,357.8 1556.5,358.0 1557.0,358.7 1557.5,358.4 1558.0,358.4 1558.5,358.5 1559.0,357.9 1559.5,357.7 1560.0,357.8 1560.5,358.3 1561.0,358.4 1561.5,358.1 1562.0,358.6 1562.5,358.0 1563.0,358.1 1563.5,358.2 1564.0,358.1 1564.5,358.3 1565.0,357.4 1565.5,357.5 1566.0,356.7 1566.5,357.7 1567.0,357.7 1567.5,358.2 1568.0,357.4 1568.5,357.7 1569.0,356.9 1569.5,358.0 1570.0,358.9 1570.5,358.5 1571.0,358.0 1571.5,357.5 1572.0,358.1 1572.5,357.5 1573.0,358.5 1573.5,358.5 1574.0,359.0 1574.5,358.6 1575.0,358.3 1575.5,357.7 1576.0,357.5 1576.5,357.3 1577.0,357.7 1577.5,357.9 1578.0,358.3 1578.5,358.6 1579.0,358.1 1579.5,357.2 1580.0,356.2 1580.5,355.8 1581.0,356.2 1581.5,356.0 1582.0,355.8 1582.5,355.3 1583.0,354.5 1583.5,353.7 1584.0,353.4 1584.5,350.0 1585.0,343.4 1585.5,321.7 1585.7,314.1 1586.0,325.3 1586.5,337.8 1587.0,336.5 1587.5,333.1 1588.0,330.6 1588.5,332.2 1589.0,335.2 1589.5,336.4 1590.0,334.5 1590.5,331.9 1591.0,330.9 1591.5,333.5 1592.0,337.2 1592.5,339.9 1593.0,339.7 1593.5,338.6 1594.0,337.7 1594.5,340.6 1595.0,344.1 1595.5,348.0 1596.0,350.8 1596.5,352.8 1597.0,353.6 1597.5,354.7 1598.0,354.8 1598.5,355.5 1599.0,356.1 1599.5,356.4 1600.0,356.3 1600.5,356.1 1601.0,356.0 1601.5,355.9 1602.0,356.1 1602.5,356.9 1603.0,357.4 1603.5,357.9 1604.0,357.4 1604.5,357.4 1605.0,356.8 1605.5,356.6 1606.0,357.7 1606.5,358.1 1607.0,357.6 1607.5,357.1 1608.0,357.0 1608.5,356.5 1609.0,357.2 1609.5,356.7 1610.0,357.2 1610.5,357.3 1611.0,357.1 1611.5,357.3 1612.0,357.5 1612.5,357.5 1613.0,357.5 1613.5,357.2 1614.0,356.9 1614.5,356.5 1615.0,355.7 1615.5,356.1 1616.0,355.0 1616.5,354.8 1617.0,354.6 1617.5,355.1 1618.0,356.4 1618.5,356.7 1619.0,356.6 1619.5,356.6 1620.0,355.9 1620.5,355.4 1621.0,355.9 1621.5,356.5 1622.0,356.1 1622.5,356.7 1623.0,355.8 1623.5,354.7 1624.0,355.0 1624.5,355.4 1625.0,355.8 1625.5,354.6 1626.0,354.8 1626.5,354.2 1627.0,354.0 1627.5,354.0 1628.0,352.7 1628.5,352.7 1629.0,351.4 1629.5,350.1 1630.0,348.7 1630.5,347.2 1631.0,345.3 1631.5,343.5 1632.0,340.2 1632.5,334.4 1633.0,323.2 1633.4,316.9 1633.5,317.5 1634.0,328.2 1634.5,338.5 1635.0,343.3 1635.5,346.5 1636.0,348.3 1636.5,349.0 1637.0,350.0 1637.5,351.7 1638.0,352.4 1638.5,353.1 1639.0,354.0 1639.5,353.4 1640.0,352.8 1640.5,353.5 1641.0,353.9 1641.5,354.5 1642.0,353.7 1642.5,352.7 1643.0,352.6 1643.5,352.5 1644.0,351.7 1644.5,351.8 1645.0,352.3 1645.5,351.5 1646.0,350.7 1646.5,348.9 1647.0,347.8 1647.5,346.7 1648.0,345.8 1648.5,344.1 1649.0,341.5 1649.5,338.7 1650.0,335.7 1650.5,332.9 1651.0,330.6 1651.5,330.0 1652.0,330.8 1652.5,332.9 1653.0,335.6 1653.5,338.9 1654.0,341.2 1654.5,344.3 1655.0,346.1 1655.5,346.7 1656.0,347.9 1656.5,348.8 1657.0,349.6 1657.5,349.6 1658.0,349.9 1658.5,350.7 1659.0,351.9 1659.5,352.7 1660.0,352.4 1660.5,351.9 1661.0,351.3 1661.5,351.7 1662.0,352.3 1662.5,352.6 1663.0,352.1 1663.5,351.2 1664.0,350.3 1664.5,349.0 1665.0,348.1 1665.5,347.2 1666.0,345.9 1666.5,344.1 1667.0,343.3 1667.5,343.3 1668.0,344.4 1668.5,344.8 1669.0,345.5 1669.5,345.7 1670.0,345.5 1670.5,344.1 1671.0,344.0 1671.5,342.8 1672.0,341.2 1672.5,340.4 1673.0,340.9 1673.5,341.3 1674.0,342.1 1674.5,342.1 1675.0,342.2 1675.5,342.3 1676.0,342.7 1676.5,342.1 1677.0,341.2 1677.5,339.9 1678.0,339.2 1678.5,339.6 1679.0,340.1 1679.5,341.1 1680.0,341.7 1680.5,340.9 1681.0,341.0 1681.5,340.2 1682.0,339.1 1682.5,337.6 1683.0,337.0 1683.5,337.5 1684.0,338.8 1684.5,339.8 1685.0,340.2 1685.5,341.0" fill="none" stroke="#000000" stroke-width="2.3" stroke-linejoin="round" />
<polyline points="1685.5,341.0 1686.3,343.0 1686.9,300.0 1687.5,270.0 1688.1,235.0 1688.7,292.0 1689.3,240.0 1689.9,290.0 1690.5,236.0 1691.1,288.0 1691.7,240.0 1692.3,226.0 1693.5,190.0 1694.5,160.0 1695.3,130.0 1695.8,0.0" fill="none" stroke="#2a2a2a" stroke-width="1.3" stroke-linejoin="round" />
<polyline points="888.5,525.0 889.0,524.9 889.5,524.7 890.0,525.0 890.5,524.5 891.0,524.9 891.5,524.9 892.0,525.1 892.5,525.1 893.0,524.7 893.5,523.8 894.0,523.3 894.5,523.5 895.0,523.9 895.5,525.0 896.0,525.2 896.5,524.7 897.0,524.2 897.5,524.6 898.0,524.5 898.5,524.3 899.0,523.6 899.5,523.1 900.0,523.4 900.5,523.5 901.0,524.4 901.5,525.0 902.0,525.8 902.5,525.4 903.0,525.5 903.5,524.6 904.0,524.5 904.5,524.2 905.0,523.4 905.5,523.4 906.0,523.6 906.5,523.9 907.0,523.4 907.5,523.8 908.0,523.6 908.5,524.0 909.0,524.2 909.5,524.7 910.0,524.8 910.5,524.6 911.0,524.2 911.5,524.4 912.0,524.1 912.5,524.2 913.0,524.2 913.5,523.9 914.0,524.1 914.5,523.7 915.0,523.2 915.5,523.5 916.0,524.0 916.5,524.7 917.0,524.7 917.5,524.6 918.0,524.4 918.5,524.5 919.0,524.9 919.5,524.7 920.0,524.6 920.5,524.2 921.0,523.8 921.5,523.8 922.0,524.4 922.5,524.6 923.0,524.3 923.5,523.3 924.0,523.3 924.5,523.0 925.0,523.6 925.5,522.9 926.0,523.9 926.5,524.4 927.0,524.5 927.5,525.1 928.0,525.3 928.5,524.3 929.0,524.6 929.5,524.8 930.0,525.1 930.5,525.0 931.0,524.9 931.5,524.8 932.0,524.5 932.5,523.7 933.0,522.9 933.5,522.4 934.0,522.6 934.5,523.4 935.0,524.1 935.5,524.2 936.0,524.4 936.5,524.1 937.0,524.3 937.5,523.3 938.0,523.0 938.5,522.4 939.0,523.0 939.5,523.0 940.0,522.6 940.5,523.6 941.0,523.1 941.5,523.7 942.0,523.5 942.5,523.9 943.0,524.2 943.5,524.4 944.0,525.3 944.5,524.9 945.0,524.5 945.5,524.4 946.0,525.1 946.5,525.2 947.0,524.5 947.5,524.6 948.0,523.7 948.5,523.5 949.0,523.9 949.5,523.7 950.0,523.6 950.5,523.4 951.0,524.1 951.5,524.4 952.0,525.0 952.5,525.4 953.0,525.2 953.5,525.5 954.0,525.2 954.5,525.2 955.0,524.8 955.5,525.3 956.0,525.1 956.5,524.7 957.0,524.8 957.5,525.0 958.0,524.9 958.5,524.3 959.0,524.0 959.5,523.6 960.0,523.6 960.5,523.0 961.0,522.9 961.5,523.5 962.0,523.7 962.5,524.3 963.0,523.5 963.5,523.0 964.0,522.5 964.5,523.1 965.0,523.8 965.5,524.0 966.0,524.9 966.5,524.6 967.0,525.0 967.5,523.7 968.0,523.6 968.5,522.6 969.0,523.2 969.5,523.1 970.0,523.9 970.5,523.0 971.0,523.3 971.5,522.5 972.0,522.9 972.5,523.0 973.0,523.4 973.5,523.4 974.0,523.1 974.5,522.2 975.0,521.7 975.5,520.8 976.0,519.9 976.5,518.5 977.0,516.9 977.5,513.2 978.0,507.5 978.5,502.5 978.6,501.7 979.0,503.2 979.5,507.2 980.0,509.3 980.5,510.9 981.0,510.8 981.5,511.8 982.0,511.4 982.5,511.5 983.0,509.1 983.5,504.8 983.8,503.6 984.0,504.7 984.5,508.9 985.0,511.5 985.5,512.3 986.0,510.6 986.5,508.3 987.0,503.3 987.5,489.4 987.7,484.8 988.0,495.8 988.5,510.1 989.0,514.6 989.5,516.1 990.0,516.4 990.5,515.7 991.0,514.5 991.5,512.2 992.0,509.6 992.5,503.7 992.8,501.5 993.0,502.1 993.5,505.2 994.0,505.1 994.5,501.9 995.0,495.2 995.5,478.2 995.6,476.9 996.0,487.4 996.5,495.8 997.0,500.0 997.5,501.2 998.0,497.1 998.5,478.2 998.6,477.5 999.0,493.9 999.5,505.7 1000.0,505.9 1000.5,503.8 1001.0,509.3 1001.5,514.3 1002.0,516.8 1002.5,517.4 1003.0,518.4 1003.5,518.9 1004.0,519.2 1004.5,518.9 1005.0,517.9 1005.5,517.7 1006.0,516.9 1006.5,516.7 1007.0,515.7 1007.5,513.6 1008.0,510.1 1008.5,507.3 1009.0,503.6 1009.5,498.8 1009.6,498.6 1010.0,502.2 1010.5,506.0 1011.0,506.5 1011.5,504.9 1012.0,510.3 1012.5,514.5 1013.0,518.0 1013.5,519.8 1014.0,520.6 1014.5,521.2 1015.0,521.6 1015.5,521.5 1016.0,521.1 1016.5,521.4 1017.0,522.3 1017.5,522.9 1018.0,523.6 1018.5,523.1 1019.0,523.1 1019.5,523.3 1020.0,523.1 1020.5,523.0 1021.0,523.2 1021.5,523.3 1022.0,523.7 1022.5,524.1 1023.0,523.8 1023.5,523.4 1024.0,523.9 1024.5,523.5 1025.0,523.8 1025.5,523.2 1026.0,522.9 1026.5,523.3 1027.0,523.9 1027.5,524.4 1028.0,524.8 1028.5,524.4 1029.0,524.3 1029.5,523.7 1030.0,523.5 1030.5,523.4 1031.0,523.5 1031.5,524.2 1032.0,524.0 1032.5,524.4 1033.0,523.5 1033.5,524.1 1034.0,523.4 1034.5,523.3 1035.0,522.6 1035.5,523.1 1036.0,522.6 1036.5,523.3 1037.0,522.6 1037.5,522.7 1038.0,522.7 1038.5,523.4 1039.0,523.9 1039.5,524.1 1040.0,523.7 1040.5,522.9 1041.0,522.6 1041.5,523.0 1042.0,523.0 1042.5,522.8 1043.0,522.9 1043.5,523.2 1044.0,523.2 1044.5,522.9 1045.0,522.5 1045.5,522.2 1046.0,522.3 1046.5,522.7 1047.0,522.9 1047.5,524.2 1048.0,524.5 1048.5,523.7 1049.0,523.2 1049.5,522.5 1050.0,522.1 1050.5,521.7 1051.0,521.1 1051.5,520.9 1052.0,520.9 1052.5,520.8 1053.0,521.3 1053.5,520.8 1054.0,520.3 1054.5,519.8 1055.0,519.2 1055.5,518.4 1056.0,518.5 1056.5,517.6 1057.0,517.4 1057.5,516.5 1058.0,515.3 1058.5,514.7 1059.0,514.8 1059.5,514.4 1060.0,514.1 1060.5,515.3 1061.0,515.6 1061.5,515.9 1062.0,516.1 1062.5,516.3 1063.0,516.7 1063.5,517.4 1064.0,518.3 1064.5,518.9 1065.0,519.3 1065.5,519.7 1066.0,519.8 1066.5,520.5 1067.0,520.8 1067.5,521.4 1068.0,521.4 1068.5,521.7 1069.0,522.0 1069.5,522.0 1070.0,521.9 1070.5,521.6 1071.0,523.4 1071.5,523.6 1072.0,523.5 1072.5,523.5 1073.0,523.2 1073.5,523.4 1074.0,523.5 1074.5,523.9 1075.0,524.5 1075.5,524.2 1076.0,523.7 1076.5,523.6 1077.0,522.9 1077.5,523.4 1078.0,524.0 1078.5,524.8 1079.0,524.4 1079.5,524.1 1080.0,523.7 1080.5,523.2 1081.0,523.6 1081.5,523.2 1082.0,523.1 1082.5,523.0 1083.0,523.4 1083.5,523.4 1084.0,523.8 1084.5,523.5 1085.0,523.9 1085.5,523.4 1086.0,523.5 1086.5,523.9 1087.0,523.9 1087.5,524.6 1088.0,524.1 1088.5,523.6 1089.0,523.1 1089.5,523.6 1090.0,523.9 1090.5,523.4 1091.0,524.2 1091.5,524.8 1092.0,525.0 1092.5,523.9 1093.0,523.2 1093.5,523.4 1094.0,524.1 1094.5,524.6 1095.0,524.8 1095.5,524.2 1096.0,524.0 1096.5,523.6 1097.0,523.5 1097.5,523.3 1098.0,523.6 1098.5,524.4 1099.0,524.0 1099.5,524.4 1100.0,524.5 1100.5,525.1 1101.0,524.9 1101.5,524.3 1102.0,524.2 1102.5,524.5 1103.0,524.8 1103.5,524.8 1104.0,524.8 1104.5,524.1 1105.0,523.8 1105.5,523.8 1106.0,524.6 1106.5,524.3 1107.0,524.9 1107.5,524.4 1108.0,524.2 1108.5,524.1 1109.0,524.2 1109.5,524.0 1110.0,524.3 1110.5,524.5 1111.0,524.3 1111.5,523.6 1112.0,523.3 1112.5,522.7 1113.0,523.3 1113.5,523.3 1114.0,523.7 1114.5,524.4 1115.0,524.4 1115.5,524.5 1116.0,523.6 1116.5,524.1 1117.0,524.4 1117.5,524.8 1118.0,524.8 1118.5,523.9 1119.0,523.7 1119.5,524.0 1120.0,524.2 1120.5,523.9 1121.0,523.3 1121.5,523.4 1122.0,523.7 1122.5,523.7 1123.0,523.8 1123.5,524.5 1124.0,524.7 1124.5,524.1 1125.0,523.4 1125.5,523.5 1126.0,523.9 1126.5,524.2 1127.0,524.3 1127.5,523.4 1128.0,523.4 1128.5,524.3 1129.0,524.2 1129.5,524.2 1130.0,524.0 1130.5,523.6 1131.0,523.5 1131.5,524.0 1132.0,523.9 1132.5,523.8 1133.0,524.7 1133.5,525.0 1134.0,525.9 1134.5,525.2 1135.0,524.7 1135.5,524.2 1136.0,524.6 1136.5,524.5 1137.0,524.5 1137.5,524.6 1138.0,525.0 1138.5,524.7 1139.0,524.2 1139.5,523.3 1140.0,523.6 1140.5,524.3 1141.0,525.2 1141.5,525.0 1142.0,525.1 1142.5,524.4 1143.0,524.0 1143.5,524.1 1144.0,523.9 1144.5,524.2 1145.0,524.1 1145.5,523.5 1146.0,523.3 1146.5,523.4 1147.0,524.1 1147.5,525.1 1148.0,525.4 1148.5,525.5 1149.0,525.5 1149.5,524.9 1150.0,524.9 1150.5,524.2 1151.0,524.3 1151.5,525.0 1152.0,525.0 1152.5,524.9 1153.0,524.6 1153.5,524.0 1154.0,524.1 1154.5,524.0 1155.0,524.5 1155.5,524.5 1156.0,524.7 1156.5,524.2 1157.0,524.4 1157.5,524.2 1158.0,524.8 1158.5,524.8 1159.0,524.1 1159.5,523.7 1160.0,523.9 1160.5,524.2 1161.0,523.7 1161.5,523.7 1162.0,522.8 1162.5,522.5 1163.0,523.2 1163.5,524.0 1164.0,524.7 1164.5,525.1 1165.0,524.5 1165.5,524.5 1166.0,524.7 1166.5,524.7 1167.0,524.9 1167.5,524.2 1168.0,524.0 1168.5,523.6 1169.0,523.9 1169.5,524.4 1170.0,524.1 1170.5,524.6 1171.0,525.0 1171.5,524.6 1172.0,524.9 1172.5,524.3 1173.0,524.6 1173.5,524.0 1174.0,523.5 1174.5,523.2 1175.0,523.8 1175.5,524.3 1176.0,524.7 1176.5,524.8 1177.0,525.2 1177.5,525.0 1178.0,524.5 1178.5,524.5 1179.0,524.2 1179.5,524.0 1180.0,524.6 1180.5,523.5 1181.0,523.3 1181.5,523.6 1182.0,523.8 1182.5,524.0 1183.0,524.8 1183.5,524.1 1184.0,523.6 1184.5,523.1 1185.0,523.1 1185.5,522.7 1186.0,523.4 1186.5,523.1 1187.0,523.8 1187.5,523.4 1188.0,523.5 1188.5,524.6 1189.0,525.1 1189.5,525.4 1190.0,525.0 1190.5,524.1 1191.0,524.1 1191.5,524.6 1192.0,524.0 1192.5,524.1 1193.0,523.9 1193.5,524.2 1194.0,523.8 1194.5,523.8 1195.0,523.6 1195.5,524.5 1196.0,525.0 1196.5,524.7 1197.0,525.0 1197.5,524.6 1198.0,524.5 1198.5,524.7 1199.0,525.1 1199.5,525.3 1200.0,524.9 1200.5,524.0 1201.0,523.3 1201.5,523.2 1202.0,523.9 1202.5,524.4 1203.0,524.0 1203.5,524.5 1204.0,524.7 1204.5,524.6 1205.0,524.4 1205.5,524.0 1206.0,524.2 1206.5,524.1 1207.0,524.6 1207.5,524.7 1208.0,524.9 1208.5,523.8 1209.0,524.5 1209.5,524.2 1210.0,525.2 1210.5,525.0 1211.0,524.5 1211.5,523.4 1212.0,523.2 1212.5,522.9 1213.0,522.8 1213.5,523.4 1214.0,523.9 1214.5,524.1 1215.0,524.5 1215.5,524.3 1216.0,523.9 1216.5,523.6 1217.0,523.6 1217.5,523.6 1218.0,523.9 1218.5,524.1 1219.0,523.7 1219.5,523.7 1220.0,524.3 1220.5,524.5 1221.0,524.5 1221.5,524.5 1222.0,524.8 1222.5,524.7 1223.0,525.0 1223.5,524.5 1224.0,523.5 1224.5,524.2 1225.0,524.7 1225.5,524.4 1226.0,524.6 1226.5,525.0 1227.0,525.0 1227.5,525.1 1228.0,524.1 1228.5,524.0 1229.0,523.5 1229.5,523.9 1230.0,524.6 1230.5,524.5 1231.0,524.3 1231.5,524.3 1232.0,523.9 1232.5,523.6 1233.0,523.0 1233.5,523.8 1234.0,523.8 1234.5,524.5 1235.0,523.7 1235.5,523.7 1236.0,523.6 1236.5,523.1 1237.0,523.8 1237.5,523.3 1238.0,524.0 1238.5,524.2 1239.0,524.5 1239.5,524.0 1240.0,523.8 1240.5,523.5 1241.0,522.9 1241.5,523.3 1242.0,524.1 1242.5,524.1 1243.0,523.7 1243.5,523.7 1244.0,523.1 1244.5,523.4 1245.0,523.3 1245.5,523.3 1246.0,523.5 1246.5,523.2 1247.0,523.6 1247.5,523.5 1248.0,523.5 1248.5,524.2 1249.0,524.1 1249.5,524.2 1250.0,523.8 1250.5,523.4 1251.0,524.1 1251.5,524.3 1252.0,525.0 1252.5,524.8 1253.0,524.5 1253.5,524.2 1254.0,523.8 1254.5,524.1 1255.0,523.5 1255.5,523.6 1256.0,524.1 1256.5,525.0 1257.0,524.4 1257.5,523.9 1258.0,523.7 1258.5,524.3 1259.0,524.6 1259.5,525.0 1260.0,524.3 1260.5,524.0 1261.0,523.2 1261.5,523.9 1262.0,524.6 1262.5,524.0 1263.0,523.6 1263.5,524.0 1264.0,524.1 1264.5,524.4 1265.0,524.3 1265.5,524.3 1266.0,524.2 1266.5,525.3 1267.0,525.2 1267.5,525.4 1268.0,525.1 1268.5,524.7 1269.0,523.6 1269.5,524.1 1270.0,524.0 1270.5,524.8 1271.0,524.5 1271.5,523.9 1272.0,523.9 1272.5,524.6 1273.0,524.8 1273.5,524.9 1274.0,525.1 1274.5,524.3 1275.0,524.6 1275.5,524.4 1276.0,524.6 1276.5,524.6 1277.0,525.0 1277.5,524.6 1278.0,524.1 1278.5,523.9 1279.0,524.0 1279.5,524.5 1280.0,525.0 1280.5,524.5 1281.0,524.2 1281.5,523.5 1282.0,523.4 1282.5,523.7 1283.0,524.0 1283.5,524.3 1284.0,523.9 1284.5,524.3 1285.0,524.7 1285.5,524.8 1286.0,524.5 1286.5,523.9 1287.0,523.5 1287.5,523.5 1288.0,523.9 1288.5,523.9 1289.0,523.7 1289.5,523.8 1290.0,524.5 1290.5,524.3 1291.0,524.5 1291.5,525.0 1292.0,525.5 1292.5,525.1 1293.0,524.7 1293.5,524.1 1294.0,524.0 1294.5,523.4 1295.0,523.1 1295.5,524.0 1296.0,524.2 1296.5,524.6 1297.0,524.3 1297.5,524.6 1298.0,524.5 1298.5,524.8 1299.0,524.1 1299.5,523.7 1300.0,523.3 1300.5,523.3 1301.0,524.1 1301.5,524.3 1302.0,524.2 1302.5,524.3 1303.0,524.5 1303.5,524.5 1304.0,524.1 1304.5,523.7 1305.0,524.6 1305.5,525.0 1306.0,524.5 1306.5,524.2 1307.0,524.6 1307.5,524.8 1308.0,524.9 1308.5,524.3 1309.0,524.8 1309.5,524.9 1310.0,524.9 1310.5,525.2 1311.0,524.6 1311.5,524.0 1312.0,523.6 1312.5,523.0 1313.0,523.2 1313.5,523.0 1314.0,523.3 1314.5,523.2 1315.0,523.5 1315.5,523.8 1316.0,524.4 1316.5,523.7 1317.0,524.0 1317.5,523.5 1318.0,524.1 1318.5,524.3 1319.0,524.1 1319.5,523.8 1320.0,523.4 1320.5,524.5 1321.0,525.1 1321.5,524.8 1322.0,524.9 1322.5,525.5 1323.0,525.3 1323.5,525.0 1324.0,523.9 1324.5,523.7 1325.0,523.9 1325.5,523.7 1326.0,523.5 1326.5,523.1 1327.0,523.4 1327.5,523.8 1328.0,524.7 1328.5,524.5 1329.0,524.3 1329.5,524.0 1330.0,523.6 1330.5,523.4 1331.0,523.4 1331.5,523.6 1332.0,523.3 1332.5,523.4 1333.0,524.5 1333.5,524.4 1334.0,524.3 1334.5,524.3 1335.0,523.8 1335.5,524.3 1336.0,524.4 1336.5,524.6 1337.0,524.4 1337.5,524.1 1338.0,524.2 1338.5,523.6 1339.0,524.0 1339.5,523.9 1340.0,523.5 1340.5,524.1 1341.0,523.9 1341.5,525.2 1342.0,525.0 1342.5,525.4 1343.0,524.4 1343.5,524.9 1344.0,524.6 1344.5,523.6 1345.0,523.1 1345.5,522.3 1346.0,521.9 1346.5,522.4 1347.0,523.3 1347.5,523.6 1348.0,524.2 1348.5,524.5 1349.0,524.1 1349.5,523.9 1350.0,523.8 1350.5,522.9 1351.0,522.7 1351.5,522.4 1352.0,522.8 1352.5,522.4 1353.0,522.4 1353.5,522.9 1354.0,523.5 1354.5,524.4 1355.0,524.2 1355.5,523.5 1356.0,523.2 1356.5,523.0 1357.0,523.0 1357.5,523.1 1358.0,523.6 1358.5,523.5 1359.0,523.6 1359.5,523.7 1360.0,524.0 1360.5,523.7 1361.0,522.9 1361.5,522.9 1362.0,523.1 1362.5,523.4 1363.0,523.5 1363.5,523.7 1364.0,524.0 1364.5,523.9 1365.0,523.3 1365.5,523.7 1366.0,523.2 1366.5,523.0 1367.0,522.0 1367.5,522.6 1368.0,522.7 1368.5,523.6 1369.0,523.0 1369.5,522.8 1370.0,522.7 1370.5,522.8 1371.0,523.7 1371.5,523.7 1372.0,523.5 1372.5,523.3 1373.0,523.6 1373.5,523.2 1374.0,523.0 1374.5,522.7 1375.0,523.3 1375.5,523.7 1376.0,524.1 1376.5,523.9 1377.0,523.7 1377.5,523.8 1378.0,523.1 1378.5,523.0 1379.0,522.6 1379.5,522.7 1380.0,523.0 1380.5,523.3 1381.0,523.8 1381.5,523.5 1382.0,523.4 1382.5,522.8 1383.0,523.8 1383.5,523.5 1384.0,523.0 1384.5,523.0 1385.0,523.0 1385.5,523.1 1386.0,523.2 1386.5,523.9 1387.0,523.4 1387.5,523.7 1388.0,523.1 1388.5,523.6 1389.0,523.9 1389.5,524.1 1390.0,524.3 1390.5,523.6 1391.0,523.9 1391.5,523.3 1392.0,523.5 1392.5,523.7 1393.0,523.4 1393.5,523.5 1394.0,523.2 1394.5,522.8 1395.0,523.0 1395.5,523.6 1396.0,523.8 1396.5,523.8 1397.0,523.8 1397.5,523.4 1398.0,522.9 1398.5,523.6 1399.0,524.1 1399.5,524.5 1400.0,524.2 1400.5,523.9 1401.0,524.4 1401.5,524.9 1402.0,524.6 1402.5,524.4 1403.0,523.9 1403.5,523.0 1404.0,522.6 1404.5,522.3 1405.0,523.5 1405.5,523.8 1406.0,524.7 1406.5,524.2 1407.0,523.9 1407.5,523.2 1408.0,522.3 1408.5,522.6 1409.0,522.1 1409.5,521.9 1410.0,521.8 1410.5,521.9 1411.0,522.1 1411.5,522.4 1412.0,522.7 1412.5,522.2 1413.0,522.2 1413.5,523.1 1414.0,523.0 1414.5,523.5 1415.0,523.5 1415.5,523.7 1416.0,523.6 1416.5,523.4 1417.0,522.9 1417.5,522.6 1418.0,522.8 1418.5,523.3 1419.0,522.9 1419.5,523.2 1420.0,523.5 1420.5,523.4 1421.0,523.9 1421.5,523.8 1422.0,523.7 1422.5,523.4 1423.0,522.6 1423.5,522.7 1424.0,522.5 1424.5,522.6 1425.0,522.3 1425.5,522.3 1426.0,522.7 1426.5,523.0 1427.0,523.1 1427.5,523.2 1428.0,522.9 1428.5,522.7 1429.0,523.2 1429.5,523.2 1430.0,522.8 1430.5,523.0 1431.0,522.9 1431.5,522.8 1432.0,523.3 1432.5,523.5 1433.0,523.1 1433.5,523.6 1434.0,523.5 1434.5,523.3 1435.0,522.6 1435.5,522.1 1436.0,521.6 1436.5,522.4 1437.0,522.8 1437.5,522.9 1438.0,522.6 1438.5,523.0 1439.0,522.2 1439.5,522.6 1440.0,522.3 1440.5,522.3 1441.0,521.7 1441.5,522.0 1442.0,522.4 1442.5,522.4 1443.0,522.3 1443.5,522.2 1444.0,521.9 1444.5,521.9 1445.0,521.7 1445.5,521.4 1446.0,521.7 1446.5,522.2 1447.0,522.6 1447.5,522.6 1448.0,522.9 1448.5,522.4 1449.0,522.7 1449.5,523.0 1450.0,522.9 1450.5,522.1 1451.0,521.9 1451.5,521.6 1452.0,521.9 1452.5,522.4 1453.0,522.9 1453.5,522.8 1454.0,522.3 1454.5,521.9 1455.0,521.6 1455.5,521.2 1456.0,521.5 1456.5,521.6 1457.0,521.9 1457.5,521.9 1458.0,522.2 1458.5,522.2 1459.0,521.7 1459.5,521.7 1460.0,521.5 1460.5,522.0 1461.0,521.7 1461.5,521.6 1462.0,521.6 1462.5,521.3 1463.0,520.6 1463.5,520.3 1464.0,520.3 1464.5,521.1 1465.0,521.4 1465.5,521.7 1466.0,521.9 1466.5,521.7 1467.0,521.5 1467.5,522.2 1468.0,522.0 1468.5,521.9 1469.0,521.3 1469.5,521.5 1470.0,521.3 1470.5,520.7 1471.0,520.5 1471.5,520.2 1472.0,520.7 1472.5,520.5 1473.0,520.5 1473.5,520.7 1474.0,521.3 1474.5,521.9 1475.0,521.6 1475.5,521.7 1476.0,521.1 1476.5,521.2 1477.0,519.7 1477.5,519.4 1478.0,520.0 1478.5,521.0 1479.0,521.6 1479.5,521.7 1480.0,520.7 1480.5,520.2 1481.0,520.2 1481.5,520.7 1482.0,520.6 1482.5,520.9 1483.0,520.5 1483.5,520.7 1484.0,520.8 1484.5,520.9 1485.0,520.7 1485.5,520.1 1486.0,519.7 1486.5,518.9 1487.0,518.6 1487.5,519.5 1488.0,520.2 1488.5,520.7 1489.0,521.4 1489.5,521.8 1490.0,521.2 1490.5,520.7 1491.0,520.5 1491.5,520.6 1492.0,521.0 1492.5,521.0 1493.0,520.0 1493.5,519.4 1494.0,519.6 1494.5,519.8 1495.0,520.7 1495.5,521.6 1496.0,521.9 1496.5,520.7 1497.0,520.0 1497.5,520.2 1498.0,520.3 1498.5,520.3 1499.0,519.6 1499.5,519.5 1500.0,519.2 1500.5,519.5 1501.0,520.3 1501.5,519.5 1502.0,519.7 1502.5,520.0 1503.0,519.9 1503.5,519.3 1504.0,518.5 1504.5,518.1 1505.0,517.7 1505.5,518.7 1506.0,518.7 1506.5,519.1 1507.0,518.0 1507.5,517.1 1508.0,515.7 1508.5,514.5 1509.0,513.1 1509.5,512.1 1510.0,510.7 1510.5,509.3 1511.0,507.8 1511.5,506.2 1512.0,505.2 1512.5,505.1 1513.0,505.5 1513.5,505.3 1514.0,504.4 1514.5,502.8 1515.0,498.4 1515.5,488.6 1515.7,487.1 1516.0,490.9 1516.5,500.8 1516.8,504.2 1517.0,505.7 1517.5,508.4 1518.0,510.6 1518.5,512.9 1519.0,514.7 1519.5,515.5 1520.0,516.0 1520.5,516.9 1521.0,518.0 1521.5,518.7 1522.0,517.6 1522.5,516.4 1523.0,516.9 1523.5,517.9 1524.0,518.0 1524.5,517.8 1525.0,517.4 1525.5,517.1 1526.0,516.8 1526.5,516.7 1527.0,516.6 1527.5,517.1 1528.0,517.2 1528.5,517.2 1529.0,517.7 1529.5,518.1 1530.0,518.3 1530.5,517.9 1531.0,517.0 1531.5,517.0 1532.0,516.7 1532.5,517.0 1533.0,517.5 1533.5,516.6 1534.0,516.8 1534.5,517.2 1535.0,517.4 1535.5,517.6 1536.0,517.3 1536.5,517.2 1537.0,517.0 1537.5,517.4 1538.0,517.1 1538.5,516.8 1539.0,516.9 1539.5,516.6 1540.0,516.2 1540.5,516.6 1541.0,516.0 1541.5,515.6 1542.0,515.0 1542.5,514.7 1543.0,514.8 1543.5,515.4 1544.0,515.8 1544.5,515.6 1545.0,515.3 1545.5,515.1 1546.0,515.3 1546.5,515.7 1547.0,515.6 1547.5,515.2 1548.0,515.1 1548.5,515.3 1549.0,515.7 1549.5,515.9 1550.0,515.1 1550.5,515.0 1551.0,515.1 1551.5,514.8 1552.0,514.6 1552.5,514.5 1553.0,514.8 1553.5,515.3 1554.0,515.5 1554.5,514.2 1555.0,514.0 1555.5,514.5 1556.0,515.0 1556.5,514.9 1557.0,515.4 1557.5,514.9 1558.0,514.6 1558.5,514.3 1559.0,514.1 1559.5,514.2 1560.0,514.1 1560.5,514.2 1561.0,514.3 1561.5,514.3 1562.0,514.0 1562.5,513.7 1563.0,514.2 1563.5,515.0 1564.0,515.1 1564.5,514.3 1565.0,514.7 1565.5,514.7 1566.0,515.6 1566.5,515.0 1567.0,513.7 1567.5,513.2 1568.0,512.9 1568.5,512.5 1569.0,512.2 1569.5,512.0 1570.0,512.2 1570.5,513.2 1571.0,514.2 1571.5,514.7 1572.0,514.5 1572.5,514.0 1573.0,513.5 1573.5,513.4 1574.0,513.4 1574.5,513.8 1575.0,513.2 1575.5,513.2 1576.0,512.6 1576.5,512.9 1577.0,512.5 1577.5,512.0 1578.0,511.9 1578.5,511.8 1579.0,511.9 1579.5,512.0 1580.0,511.6 1580.5,511.9 1581.0,511.5 1581.5,510.9 1582.0,510.4 1582.5,509.2 1583.0,508.1 1583.5,506.9 1584.0,506.3 1584.5,502.6 1585.0,492.2 1585.3,483.2 1585.5,486.7 1586.0,497.1 1586.5,499.0 1587.0,497.8 1587.5,495.2 1588.0,491.2 1588.5,488.0 1589.0,488.6 1589.5,490.9 1590.0,490.8 1590.5,489.2 1591.0,486.0 1591.5,484.3 1592.0,486.4 1592.5,489.9 1593.0,491.4 1593.5,492.0 1594.0,492.8 1594.5,495.2 1595.0,497.6 1595.5,498.3 1596.0,499.0 1596.5,499.6 1597.0,500.1 1597.5,502.2 1598.0,503.8 1598.5,504.3 1599.0,505.5 1599.5,506.4 1600.0,507.6 1600.5,507.1 1601.0,507.2 1601.5,507.0 1602.0,507.2 1602.5,508.0 1603.0,508.0 1603.5,507.5 1604.0,507.4 1604.5,507.4 1605.0,507.3 1605.5,507.8 1606.0,507.3 1606.5,506.8 1607.0,506.9 1607.5,507.4 1608.0,507.3 1608.5,506.9 1609.0,507.6 1609.5,507.4 1610.0,506.5 1610.5,506.0 1611.0,505.4 1611.5,506.2 1612.0,507.6 1612.5,507.5 1613.0,506.9 1613.5,505.8 1614.0,505.3 1614.5,505.0 1615.0,505.2 1615.5,505.1 1616.0,504.7 1616.5,505.0 1617.0,505.0 1617.5,505.1 1618.0,505.9 1618.5,505.9 1619.0,505.2 1619.5,504.5 1620.0,503.5 1620.5,503.2 1621.0,503.0 1621.5,503.1 1622.0,503.0 1622.5,503.0 1623.0,502.2 1623.5,501.9 1624.0,502.0 1624.5,502.5 1625.0,502.8 1625.5,502.7 1626.0,503.1 1626.5,503.2 1627.0,502.9 1627.5,502.4 1628.0,501.6 1628.5,501.3 1629.0,501.0 1629.5,501.4 1630.0,501.1 1630.5,501.9 1631.0,501.2 1631.5,501.4 1632.0,500.6 1632.5,500.1 1633.0,500.0 1633.5,499.4 1634.0,499.2 1634.5,498.9 1635.0,498.9 1635.5,498.5 1636.0,497.9 1636.5,497.0 1637.0,496.2 1637.5,495.8 1638.0,495.3 1638.5,495.4 1639.0,495.5 1639.5,495.2 1640.0,495.2 1640.5,495.3 1641.0,494.2 1641.5,493.3 1642.0,492.0 1642.5,491.7 1643.0,491.1 1643.5,491.1 1644.0,490.9 1644.5,490.2 1645.0,490.0 1645.5,488.8 1646.0,488.7 1646.5,488.1 1647.0,487.0 1647.5,485.6 1648.0,484.1 1648.5,481.5 1649.0,479.4 1649.5,477.0 1650.0,473.9 1650.5,470.5 1651.0,467.9 1651.5,466.5 1652.0,466.8 1652.5,469.3 1653.0,471.3 1653.5,473.8 1654.0,475.5 1654.5,477.3 1655.0,478.4 1655.5,479.9 1656.0,481.0 1656.5,481.3 1657.0,481.2 1657.5,480.9 1658.0,480.0 1658.5,480.4 1659.0,480.4 1659.5,480.7 1660.0,480.6 1660.5,479.9 1661.0,480.0 1661.5,478.9 1662.0,477.6 1662.5,476.5 1663.0,476.0 1663.5,475.3 1664.0,474.6 1664.5,473.3 1665.0,472.9 1665.5,471.6 1666.0,470.6 1666.5,470.7 1667.0,471.2 1667.5,470.3 1668.0,469.6 1668.5,468.0 1669.0,467.2 1669.5,466.5 1670.0,465.2 1670.5,464.9 1671.0,464.2 1671.5,463.3 1672.0,462.7 1672.5,462.1 1673.0,461.1 1673.5,459.5 1674.0,458.3 1674.5,457.4 1675.0,456.8 1675.5,455.7 1676.0,455.4 1676.5,454.3 1677.0,453.8 1677.5,452.8 1678.0,451.8 1678.5,450.1 1679.0,448.9 1679.5,447.1 1680.0,445.9 1680.5,444.4 1681.0,442.5 1681.5,441.0 1682.0,439.2 1682.5,437.8 1683.0,436.7 1683.5,435.3 1684.0,433.9 1684.5,432.0 1685.0,429.7 1685.5,427.9 1686.0,425.2 1686.5,422.7 1687.0,420.1 1687.5,417.4 1688.6,412.0 1689.2,386.0 1689.8,398.0 1690.4,384.0 1691.0,396.0 1691.6,383.0 1692.2,381.0 1693.5,330.0 1695.0,270.0 1696.4,220.0 1696.8,0.0" fill="none" stroke="#1636ff" stroke-width="1.9" stroke-linejoin="round" />
<line x1="1696.6" y1="0" x2="1696.6" y2="150" stroke="#4a2838" stroke-width="2"/>
<line x1="1702.5" y1="0" x2="1702.5" y2="65" stroke="#3a0808" stroke-width="4.5"/>
<line x1="1702.5" y1="65" x2="1702.5" y2="104" stroke="#e02424" stroke-width="4.5"/>
<line x1="1702.3" y1="104" x2="1702.3" y2="213" stroke="#3c64ff" stroke-width="3.2"/>
<line x1="1705.4" y1="0" x2="1705.4" y2="112" stroke="#111" stroke-width="1.6"/>
<polyline points="1709.2,0 1708.8,30 1707.8,67" fill="none" stroke="#8a8a8a" stroke-width="2.4"/>
<line x1="1710.6" y1="0" x2="1710.6" y2="193" stroke="#4a6cff" stroke-width="1.8"/>
<line x1="1707.3" y1="182" x2="1707.3" y2="193" stroke="#1e46ff" stroke-width="3"/>
<polyline points="1715.5,0 1714.5,25 1712.2,40 1710.5,60 1708.8,77" fill="none" stroke="#ff5a40" stroke-width="2"/>
<rect x="913.4" y="167.8" width="22.2" height="194.6" fill="rgba(252,92,92,0.4)"/>
<rect x="1112.1" y="55" width="29.7" height="306.7" fill="rgba(252,92,92,0.4)"/>
<rect x="1255.6" y="171.6" width="22.1" height="194.8" fill="rgba(252,92,92,0.4)"/>
<rect x="1469.1" y="171.5" width="22.0" height="195.0" fill="rgba(252,92,92,0.4)"/>
<rect x="1623.1" y="148" width="20.7" height="214.4" fill="rgba(252,92,92,0.4)"/>
<rect x="1046.3" y="322.8" width="32.4" height="209.2" fill="rgba(160,160,252,0.4)"/>
<rect x="1499.6" y="321.9" width="32.7" height="210.1" fill="rgba(160,160,252,0.4)"/>
<rect x="1644.3" y="324.4" width="17.8" height="207.6" fill="rgba(160,160,252,0.4)"/>
<line x1="889.1" y1="533.2" x2="1739.3" y2="533.2" stroke="#6e6e6e" stroke-width="2.2"/>
<line x1="889.1" y1="532" x2="889.1" y2="539.5" stroke="#6e6e6e" stroke-width="2"/>
<text x="889.1" y="574" font-size="28" text-anchor="middle">8</text>
<line x1="983.6" y1="532" x2="983.6" y2="539.5" stroke="#6e6e6e" stroke-width="2"/>
<text x="983.6" y="574" font-size="28" text-anchor="middle">7.5</text>
<line x1="1078.0" y1="532" x2="1078.0" y2="539.5" stroke="#6e6e6e" stroke-width="2"/>
<text x="1078.0" y="574" font-size="28" text-anchor="middle">7</text>
<line x1="1172.5" y1="532" x2="1172.5" y2="539.5" stroke="#6e6e6e" stroke-width="2"/>
<text x="1172.5" y="574" font-size="28" text-anchor="middle">6.5</text>
<line x1="1267.0" y1="532" x2="1267.0" y2="539.5" stroke="#6e6e6e" stroke-width="2"/>
<text x="1267.0" y="574" font-size="28" text-anchor="middle">6</text>
<line x1="1361.4" y1="532" x2="1361.4" y2="539.5" stroke="#6e6e6e" stroke-width="2"/>
<text x="1361.4" y="574" font-size="28" text-anchor="middle">5.5</text>
<line x1="1455.9" y1="532" x2="1455.9" y2="539.5" stroke="#6e6e6e" stroke-width="2"/>
<text x="1455.9" y="574" font-size="28" text-anchor="middle">5</text>
<line x1="1550.4" y1="532" x2="1550.4" y2="539.5" stroke="#6e6e6e" stroke-width="2"/>
<text x="1550.4" y="574" font-size="28" text-anchor="middle">4.5</text>
<line x1="1644.8" y1="532" x2="1644.8" y2="539.5" stroke="#6e6e6e" stroke-width="2"/>
<text x="1644.8" y="574" font-size="28" text-anchor="middle">4</text>
<line x1="1739.3" y1="532" x2="1739.3" y2="539.5" stroke="#6e6e6e" stroke-width="2"/>
<text x="1739.3" y="568.6" font-size="28" text-anchor="middle">3.5</text>
<text x="1274.5" y="614.5" font-size="29"><tspan font-family="'Liberation Serif', serif">δ</tspan>/ppm</text>
<polyline points="1192.1,97.3 1192.1,79.3" fill="none" stroke="#fa7a6e" stroke-width="1.5" stroke-linejoin="round" stroke-linecap="round"/>
<polyline points="1192.1,97.3 1181.8,91.5" fill="none" stroke="#fa7a6e" stroke-width="1.5" stroke-linejoin="round" stroke-linecap="round"/>
<polyline points="1192.1,97.3 1175.4,107.6" fill="none" stroke="#fa7a6e" stroke-width="1.5" stroke-linejoin="round" stroke-linecap="round"/>
<polyline points="1192.1,97.3 1208.2,106.4" fill="none" stroke="#fa7a6e" stroke-width="1.5" stroke-linejoin="round" stroke-linecap="round"/>
<polyline points="1208.2,106.4 1218.2,100.2" fill="none" stroke="#fa7a6e" stroke-width="1.5" stroke-linejoin="round" stroke-linecap="round"/>
<polyline points="1229.6,101.0 1239.8,108.9 1257.1,102.4" fill="none" stroke="#fa7a6e" stroke-width="1.5" stroke-linejoin="round" stroke-linecap="round"/>
<polyline points="1257.1,102.4 1263.3,85.6 1282.8,85.6 1288.1,102.4" fill="none" stroke="#fa7a6e" stroke-width="1.5" stroke-linejoin="round" stroke-linecap="round"/>
<polyline points="1288.1,102.4 1278.5,109.8" fill="none" stroke="#fa7a6e" stroke-width="1.5" stroke-linejoin="round" stroke-linecap="round"/>
<polyline points="1267.0,110.0 1257.1,102.4" fill="none" stroke="#fa7a6e" stroke-width="1.5" stroke-linejoin="round" stroke-linecap="round"/>
<polyline points="1282.8,85.6 1293.4,70.5" fill="none" stroke="#fa7a6e" stroke-width="1.5" stroke-linejoin="round" stroke-linecap="round"/>
<polyline points="1293.4,70.5 1287.6,51.9 1302.8,40.4 1318.2,51.9 1312.9,70.5 1293.4,70.5" fill="none" stroke="#fa7a6e" stroke-width="1.5" stroke-linejoin="round" stroke-linecap="round"/>
<polyline points="1312.9,70.5 1323.2,84.8" fill="none" stroke="#fa7a6e" stroke-width="1.5" stroke-linejoin="round" stroke-linecap="round"/>
<polyline points="1323.2,84.8 1342.8,84.8 1347.8,102.9" fill="none" stroke="#fa7a6e" stroke-width="1.5" stroke-linejoin="round" stroke-linecap="round"/>
<polyline points="1347.8,102.9 1337.8,111.2" fill="none" stroke="#fa7a6e" stroke-width="1.5" stroke-linejoin="round" stroke-linecap="round"/>
<polyline points="1327.4,111.2 1318.1,102.9 1323.2,84.8" fill="none" stroke="#fa7a6e" stroke-width="1.5" stroke-linejoin="round" stroke-linecap="round"/>
<polyline points="1342.8,84.8 1353.6,70.3" fill="none" stroke="#fa7a6e" stroke-width="1.5" stroke-linejoin="round" stroke-linecap="round"/>
<polyline points="1318.1,102.9 1300.0,108.7" fill="none" stroke="#fa7a6e" stroke-width="1.5" stroke-linejoin="round" stroke-linecap="round"/>
<polyline points="1347.8,102.9 1366.7,108.7" fill="none" stroke="#fa7a6e" stroke-width="1.5" stroke-linejoin="round" stroke-linecap="round"/>
<polyline points="1366.7,108.7 1380.4,96.4 1399.3,101.4 1402.2,119.6 1387.7,132.6 1369.6,126.8 1366.7,108.7" fill="none" stroke="#fa7a6e" stroke-width="1.5" stroke-linejoin="round" stroke-linecap="round"/>
<polyline points="1302.8,40.4 1297.0,30.5" fill="none" stroke="#fa7a6e" stroke-width="1.5" stroke-linejoin="round" stroke-linecap="round"/>
<polyline points="1302.8,40.4 1308.2,31.0" fill="none" stroke="#fa7a6e" stroke-width="1.5" stroke-linejoin="round" stroke-linecap="round"/>
<polyline points="1287.6,51.9 1278.6,42.6" fill="none" stroke="#fa7a6e" stroke-width="1.5" stroke-linejoin="round" stroke-linecap="round"/>
<polyline points="1287.6,51.9 1275.0,53.6" fill="none" stroke="#fa7a6e" stroke-width="1.5" stroke-linejoin="round" stroke-linecap="round"/>
<polyline points="1318.2,51.9 1326.5,43.5" fill="none" stroke="#fa7a6e" stroke-width="1.5" stroke-linejoin="round" stroke-linecap="round"/>
<polyline points="1318.2,51.9 1329.5,54.5" fill="none" stroke="#fa7a6e" stroke-width="1.5" stroke-linejoin="round" stroke-linecap="round"/>
<polyline points="1206.6,106.4 1206.6,120.0" fill="none" stroke="#fa7a6e" stroke-width="1.5" stroke-linejoin="round" stroke-linecap="round"/>
<polyline points="1209.8,106.4 1209.8,120.0" fill="none" stroke="#fa7a6e" stroke-width="1.5" stroke-linejoin="round" stroke-linecap="round"/>
<polyline points="1261.2,100.5 1265.2,89.7" fill="none" stroke="#fa7a6e" stroke-width="1.5" stroke-linejoin="round" stroke-linecap="round"/>
<polyline points="1280.7,89.6 1284.1,100.3" fill="none" stroke="#fa7a6e" stroke-width="1.5" stroke-linejoin="round" stroke-linecap="round"/>
<polyline points="1296.9,67.3 1309.4,67.3" fill="none" stroke="#fa7a6e" stroke-width="1.5" stroke-linejoin="round" stroke-linecap="round"/>
<polyline points="1322.1,100.5 1325.4,88.9" fill="none" stroke="#fa7a6e" stroke-width="1.5" stroke-linejoin="round" stroke-linecap="round"/>
<polyline points="1340.6,88.9 1343.8,100.5" fill="none" stroke="#fa7a6e" stroke-width="1.5" stroke-linejoin="round" stroke-linecap="round"/>
<polyline points="1383.0,100.4 1395.1,103.6" fill="none" stroke="#fa7a6e" stroke-width="1.5" stroke-linejoin="round" stroke-linecap="round"/>
<polyline points="1397.5,119.6 1388.2,127.9" fill="none" stroke="#fa7a6e" stroke-width="1.5" stroke-linejoin="round" stroke-linecap="round"/>
<polyline points="1372.2,123.0 1370.4,111.5" fill="none" stroke="#fa7a6e" stroke-width="1.5" stroke-linejoin="round" stroke-linecap="round"/>
<text x="1223.2" y="102.3" font-size="12.5" fill="#fa7a6e" text-anchor="middle">O</text>
<text x="1207.6" y="131.0" font-size="12.5" fill="#fa7a6e" text-anchor="middle">O</text>
<text x="1272.7" y="119.0" font-size="12.5" fill="#fa7a6e" text-anchor="middle">O</text>
<text x="1332.6" y="120.3" font-size="12.5" fill="#fa7a6e" text-anchor="middle">S</text>
<text x="1292.5" y="29.3" font-size="12.5" fill="#fa7a6e" text-anchor="middle">F</text>
<text x="1312.3" y="29.3" font-size="12.5" fill="#fa7a6e" text-anchor="middle">F</text>
<text x="1273.9" y="42.5" font-size="12.5" fill="#fa7a6e" text-anchor="middle">F</text>
<text x="1268.0" y="59.3" font-size="12.5" fill="#fa7a6e" text-anchor="middle">F</text>
<text x="1330.8" y="43.4" font-size="12.5" fill="#fa7a6e" text-anchor="middle">F</text>
<text x="1336.2" y="61.1" font-size="12.5" fill="#fa7a6e" text-anchor="middle">F</text>
<text x="1151.0" y="93.3" font-size="12.2" fill="#fa7a6e" text-anchor="start">PMA</text>
<polyline points="1462.9,96.7 1450.6,96.7" fill="none" stroke="#fa7a6e" stroke-width="1.5" stroke-linejoin="round" stroke-linecap="round"/>
<polyline points="1462.9,96.7 1454.2,81.2" fill="none" stroke="#fa7a6e" stroke-width="1.5" stroke-linejoin="round" stroke-linecap="round"/>
<polyline points="1462.9,96.7 1454.2,112.6" fill="none" stroke="#fa7a6e" stroke-width="1.5" stroke-linejoin="round" stroke-linecap="round"/>
<polyline points="1462.9,96.7 1481.7,96.7" fill="none" stroke="#fa7a6e" stroke-width="1.5" stroke-linejoin="round" stroke-linecap="round"/>
<polyline points="1481.7,96.7 1488.0,106.5" fill="none" stroke="#fa7a6e" stroke-width="1.5" stroke-linejoin="round" stroke-linecap="round"/>
<polyline points="1496.5,112.6 1511.4,112.6 1522.3,95.7 1536.0,95.7" fill="none" stroke="#fa7a6e" stroke-width="1.5" stroke-linejoin="round" stroke-linecap="round"/>
<polyline points="1545.2,89.6 1554.9,79.7 1574.5,85.5 1574.5,105.1 1554.9,111.6 1545.6,103.0" fill="none" stroke="#fa7a6e" stroke-width="1.5" stroke-linejoin="round" stroke-linecap="round"/>
<polyline points="1483.0,97.6 1489.5,87.7" fill="none" stroke="#fa7a6e" stroke-width="1.5" stroke-linejoin="round" stroke-linecap="round"/>
<polyline points="1480.4,95.8 1486.9,85.9" fill="none" stroke="#fa7a6e" stroke-width="1.5" stroke-linejoin="round" stroke-linecap="round"/>
<polyline points="1556.3,79.0 1550.2,66.3" fill="none" stroke="#fa7a6e" stroke-width="1.5" stroke-linejoin="round" stroke-linecap="round"/>
<polyline points="1553.5,80.4 1547.4,67.7" fill="none" stroke="#fa7a6e" stroke-width="1.5" stroke-linejoin="round" stroke-linecap="round"/>
<polyline points="1553.5,110.9 1548.0,122.3" fill="none" stroke="#fa7a6e" stroke-width="1.5" stroke-linejoin="round" stroke-linecap="round"/>
<polyline points="1556.3,112.3 1550.8,123.7" fill="none" stroke="#fa7a6e" stroke-width="1.5" stroke-linejoin="round" stroke-linecap="round"/>
<polyline points="1571.3,89.0 1571.3,101.6" fill="none" stroke="#fa7a6e" stroke-width="1.5" stroke-linejoin="round" stroke-linecap="round"/>
<text x="1489.8" y="85.4" font-size="12.5" fill="#fa7a6e" text-anchor="middle">O</text>
<text x="1489.4" y="119.7" font-size="12.5" fill="#fa7a6e" text-anchor="middle">O</text>
<text x="1541.2" y="101.1" font-size="12.5" fill="#fa7a6e" text-anchor="middle">N</text>
<text x="1546.2" y="63.5" font-size="12.5" fill="#fa7a6e" text-anchor="middle">O</text>
<text x="1546.2" y="136.5" font-size="12.5" fill="#fa7a6e" text-anchor="middle">O</text>
<text x="1421.2" y="101.5" font-size="12.2" fill="#fa7a6e" text-anchor="start">PMA</text>
<polyline points="1167.1,474.3 1151.2,464.9" fill="none" stroke="#6e8cf8" stroke-width="1.6" stroke-linejoin="round" stroke-linecap="round"/>
<polyline points="1167.1,474.3 1167.1,492.5" fill="none" stroke="#6e8cf8" stroke-width="1.6" stroke-linejoin="round" stroke-linecap="round"/>
<polyline points="1167.1,474.3 1155.5,480.9" fill="none" stroke="#6e8cf8" stroke-width="1.6" stroke-linejoin="round" stroke-linecap="round"/>
<polyline points="1167.1,474.3 1183.0,465.7" fill="none" stroke="#6e8cf8" stroke-width="1.6" stroke-linejoin="round" stroke-linecap="round"/>
<polyline points="1183.0,465.7 1194.8,471.2" fill="none" stroke="#6e8cf8" stroke-width="1.6" stroke-linejoin="round" stroke-linecap="round"/>
<polyline points="1205.2,470.8 1216.4,464.9 1233.0,473.6 1244.4,467.9" fill="none" stroke="#6e8cf8" stroke-width="1.6" stroke-linejoin="round" stroke-linecap="round"/>
<polyline points="1251.0,458.4 1253.7,445.9 1273.0,444.6" fill="none" stroke="#6e8cf8" stroke-width="1.6" stroke-linejoin="round" stroke-linecap="round"/>
<polyline points="1255.6,469.1 1265.9,473.6 1279.4,461.4" fill="none" stroke="#6e8cf8" stroke-width="1.6" stroke-linejoin="round" stroke-linecap="round"/>
<polyline points="1273.0,444.6 1279.4,461.4" fill="none" stroke="#6e8cf8" stroke-width="1.6" stroke-linejoin="round" stroke-linecap="round"/>
<polyline points="1273.0,444.6 1283.3,429.8 1302.0,431.8" fill="none" stroke="#6e8cf8" stroke-width="1.6" stroke-linejoin="round" stroke-linecap="round"/>
<polyline points="1302.0,431.8 1308.4,448.5 1298.1,463.3" fill="none" stroke="#6e8cf8" stroke-width="1.6" stroke-linejoin="round" stroke-linecap="round"/>
<polyline points="1279.4,461.4 1298.1,463.3" fill="none" stroke="#6e8cf8" stroke-width="1.6" stroke-linejoin="round" stroke-linecap="round"/>
<polyline points="1283.3,429.8 1284.5,441.0" fill="none" stroke="#6e8cf8" stroke-width="1.6" stroke-linejoin="round" stroke-linecap="round"/>
<polyline points="1289.2,453.8 1298.1,463.3" fill="none" stroke="#6e8cf8" stroke-width="1.6" stroke-linejoin="round" stroke-linecap="round"/>
<polyline points="1298.1,463.3 1306.3,480.8 1318.0,481.4" fill="none" stroke="#6e8cf8" stroke-width="1.6" stroke-linejoin="round" stroke-linecap="round"/>
<polyline points="1328.0,489.0 1333.4,500.0 1352.5,501.7" fill="none" stroke="#6e8cf8" stroke-width="1.6" stroke-linejoin="round" stroke-linecap="round"/>
<polyline points="1352.5,501.7 1362.7,487.0" fill="none" stroke="#6e8cf8" stroke-width="1.6" stroke-linejoin="round" stroke-linecap="round"/>
<polyline points="1352.5,501.7 1364.9,501.7" fill="none" stroke="#6e8cf8" stroke-width="1.6" stroke-linejoin="round" stroke-linecap="round"/>
<polyline points="1352.5,501.7 1359.9,519.2" fill="none" stroke="#6e8cf8" stroke-width="1.6" stroke-linejoin="round" stroke-linecap="round"/>
<polyline points="1302.0,431.8 1313.5,415.4" fill="none" stroke="#6e8cf8" stroke-width="1.6" stroke-linejoin="round" stroke-linecap="round"/>
<polyline points="1313.5,415.4 1307.0,397.3 1323.1,386.4 1338.6,397.3 1332.1,415.4 1313.5,415.4" fill="none" stroke="#6e8cf8" stroke-width="1.6" stroke-linejoin="round" stroke-linecap="round"/>
<polyline points="1332.1,415.4 1343.8,430.8" fill="none" stroke="#6e8cf8" stroke-width="1.6" stroke-linejoin="round" stroke-linecap="round"/>
<polyline points="1343.8,430.8 1362.4,430.8 1368.0,448.9" fill="none" stroke="#6e8cf8" stroke-width="1.6" stroke-linejoin="round" stroke-linecap="round"/>
<polyline points="1368.0,448.9 1358.3,456.0" fill="none" stroke="#6e8cf8" stroke-width="1.6" stroke-linejoin="round" stroke-linecap="round"/>
<polyline points="1347.0,456.2 1337.6,448.9 1343.8,430.8" fill="none" stroke="#6e8cf8" stroke-width="1.6" stroke-linejoin="round" stroke-linecap="round"/>
<polyline points="1362.4,430.8 1373.1,416.2" fill="none" stroke="#6e8cf8" stroke-width="1.6" stroke-linejoin="round" stroke-linecap="round"/>
<polyline points="1337.6,448.9 1320.1,455.1" fill="none" stroke="#6e8cf8" stroke-width="1.6" stroke-linejoin="round" stroke-linecap="round"/>
<polyline points="1368.0,448.9 1386.1,454.5" fill="none" stroke="#6e8cf8" stroke-width="1.6" stroke-linejoin="round" stroke-linecap="round"/>
<polyline points="1386.1,454.5 1400.1,442.1 1418.7,447.7 1422.7,465.8 1408.0,477.6 1389.4,472.5 1386.1,454.5" fill="none" stroke="#6e8cf8" stroke-width="1.6" stroke-linejoin="round" stroke-linecap="round"/>
<polyline points="1323.1,386.4 1316.2,375.0" fill="none" stroke="#6e8cf8" stroke-width="1.6" stroke-linejoin="round" stroke-linecap="round"/>
<polyline points="1323.1,386.4 1328.2,375.6" fill="none" stroke="#6e8cf8" stroke-width="1.6" stroke-linejoin="round" stroke-linecap="round"/>
<polyline points="1307.0,397.3 1297.6,388.0" fill="none" stroke="#6e8cf8" stroke-width="1.6" stroke-linejoin="round" stroke-linecap="round"/>
<polyline points="1307.0,397.3 1295.0,401.0" fill="none" stroke="#6e8cf8" stroke-width="1.6" stroke-linejoin="round" stroke-linecap="round"/>
<polyline points="1338.6,397.3 1345.6,389.2" fill="none" stroke="#6e8cf8" stroke-width="1.6" stroke-linejoin="round" stroke-linecap="round"/>
<polyline points="1338.6,397.3 1350.8,400.6" fill="none" stroke="#6e8cf8" stroke-width="1.6" stroke-linejoin="round" stroke-linecap="round"/>
<polyline points="1184.6,465.7 1184.6,453.5" fill="none" stroke="#6e8cf8" stroke-width="1.6" stroke-linejoin="round" stroke-linecap="round"/>
<polyline points="1181.4,465.7 1181.4,453.5" fill="none" stroke="#6e8cf8" stroke-width="1.6" stroke-linejoin="round" stroke-linecap="round"/>
<polyline points="1254.7,444.7 1246.0,437.4" fill="none" stroke="#6e8cf8" stroke-width="1.6" stroke-linejoin="round" stroke-linecap="round"/>
<polyline points="1252.7,447.1 1244.0,439.8" fill="none" stroke="#6e8cf8" stroke-width="1.6" stroke-linejoin="round" stroke-linecap="round"/>
<polyline points="1264.3,473.8 1266.2,487.8" fill="none" stroke="#6e8cf8" stroke-width="1.6" stroke-linejoin="round" stroke-linecap="round"/>
<polyline points="1267.5,473.4 1269.4,487.4" fill="none" stroke="#6e8cf8" stroke-width="1.6" stroke-linejoin="round" stroke-linecap="round"/>
<polyline points="1332.2,499.0 1324.2,508.6" fill="none" stroke="#6e8cf8" stroke-width="1.6" stroke-linejoin="round" stroke-linecap="round"/>
<polyline points="1334.6,501.0 1326.6,510.6" fill="none" stroke="#6e8cf8" stroke-width="1.6" stroke-linejoin="round" stroke-linecap="round"/>
<polyline points="1300.2,436.0 1304.3,446.6" fill="none" stroke="#6e8cf8" stroke-width="1.6" stroke-linejoin="round" stroke-linecap="round"/>
<polyline points="1316.8,412.2 1328.8,412.2" fill="none" stroke="#6e8cf8" stroke-width="1.6" stroke-linejoin="round" stroke-linecap="round"/>
<polyline points="1341.7,446.7 1345.7,435.1" fill="none" stroke="#6e8cf8" stroke-width="1.6" stroke-linejoin="round" stroke-linecap="round"/>
<polyline points="1360.4,435.0 1363.9,446.6" fill="none" stroke="#6e8cf8" stroke-width="1.6" stroke-linejoin="round" stroke-linecap="round"/>
<polyline points="1402.5,446.2 1414.4,449.8" fill="none" stroke="#6e8cf8" stroke-width="1.6" stroke-linejoin="round" stroke-linecap="round"/>
<polyline points="1418.1,465.4 1408.6,473.0" fill="none" stroke="#6e8cf8" stroke-width="1.6" stroke-linejoin="round" stroke-linecap="round"/>
<polyline points="1392.0,468.7 1389.8,457.2" fill="none" stroke="#6e8cf8" stroke-width="1.6" stroke-linejoin="round" stroke-linecap="round"/>
<text x="1182.3" y="450.8" font-size="12.5" fill="#6e8cf8" text-anchor="middle">O</text>
<text x="1199.2" y="480.9" font-size="12.5" fill="#6e8cf8" text-anchor="middle">O</text>
<text x="1249.8" y="469.9" font-size="12.5" fill="#6e8cf8" text-anchor="middle">N</text>
<text x="1239.5" y="437.1" font-size="12.5" fill="#6e8cf8" text-anchor="middle">O</text>
<text x="1266.6" y="497.7" font-size="12.5" fill="#6e8cf8" text-anchor="middle">O</text>
<text x="1284.2" y="453.8" font-size="12.5" fill="#6e8cf8" text-anchor="middle">O</text>
<text x="1323.6" y="487.2" font-size="12.5" fill="#6e8cf8" text-anchor="middle">O</text>
<text x="1320.4" y="519.3" font-size="12.5" fill="#6e8cf8" text-anchor="middle">O</text>
<text x="1352.3" y="466.5" font-size="12.5" fill="#6e8cf8" text-anchor="middle">S</text>
<text x="1311.5" y="375.0" font-size="12.5" fill="#6e8cf8" text-anchor="middle">F</text>
<text x="1331.5" y="374.4" font-size="12.5" fill="#6e8cf8" text-anchor="middle">F</text>
<text x="1292.9" y="389.8" font-size="12.5" fill="#6e8cf8" text-anchor="middle">F</text>
<text x="1288.4" y="404.6" font-size="12.5" fill="#6e8cf8" text-anchor="middle">F</text>
<text x="1350.8" y="387.9" font-size="12.5" fill="#6e8cf8" text-anchor="middle">F</text>
<text x="1356.0" y="406.5" font-size="12.5" fill="#6e8cf8" text-anchor="middle">F</text>
<text x="1126.8" y="488.2" font-size="12.2" fill="#6e8cf8" text-anchor="start">PMA</text>
<text x="1367.0" y="506.3" font-size="12.2" fill="#6e8cf8" text-anchor="start">PMA</text>
<text x="1121.2" y="42.9" font-size="26" fill="#f20000" text-anchor="start" font-weight="bold">g</text>
<text x="1254.0" y="81.1" font-size="26" fill="#f20000" text-anchor="start" font-weight="bold">f</text>
<text x="1289.8" y="102.4" font-size="26" fill="#f20000" text-anchor="start" font-weight="bold">h</text>
<text x="1230.8" y="126.3" font-size="26" fill="#f20000" text-anchor="start" font-weight="bold">e</text>
<text x="1506.6" y="85.5" font-size="26" fill="#f20000" text-anchor="start" font-weight="bold">d</text>
<text x="1575.7" y="81.5" font-size="26" fill="#f20000" text-anchor="start" font-weight="bold">g</text>
<text x="1260.1" y="166.0" font-size="26" fill="#f20000" text-anchor="start" font-weight="bold">f</text>
<text x="1470.8" y="158.2" font-size="26" fill="#f20000" text-anchor="start" font-weight="bold">e</text>
<text x="1628.0" y="134.6" font-size="26" fill="#f20000" text-anchor="start" font-weight="bold">d</text>
<text x="1209.4" y="459.1" font-size="26" fill="#0a28ff" text-anchor="start" font-weight="bold">a</text>
<text x="1271.0" y="424.4" font-size="26" fill="#0a28ff" text-anchor="start" font-weight="bold">b</text>
<text x="1311.1" y="448.9" font-size="26" fill="#0a28ff" text-anchor="start" font-weight="bold">c</text>
<text x="1056.0" y="502.5" font-size="26" fill="#0a28ff" text-anchor="start" font-weight="bold">c</text>
<text x="1509.2" y="475.0" font-size="26" fill="#0a28ff" text-anchor="start" font-weight="bold">b</text>
<text x="1643.5" y="457.7" font-size="26" fill="#0a28ff" text-anchor="start" font-weight="bold">a</text>
<text x="906.0" y="96.1" font-size="25" fill="#f50a0a" text-anchor="start">P1 after heating</text>
<text x="927.0" y="150.2" font-size="25" fill="#f50a0a" text-anchor="start">h aromatic</text>
<text x="895.0" y="272.7" font-size="25.1" fill="#000" text-anchor="start">P1 after sonication</text>
<text x="898.3" y="409.8" font-size="25" fill="#0a28ff" text-anchor="start">P1</text>
<text x="950.6" y="464.6" font-size="25" fill="#0a28ff" text-anchor="start">Aromatic</text>
<text x="869" y="32" font-size="42" font-weight="bold">b</text>
</g>
</svg>
</body></html>
